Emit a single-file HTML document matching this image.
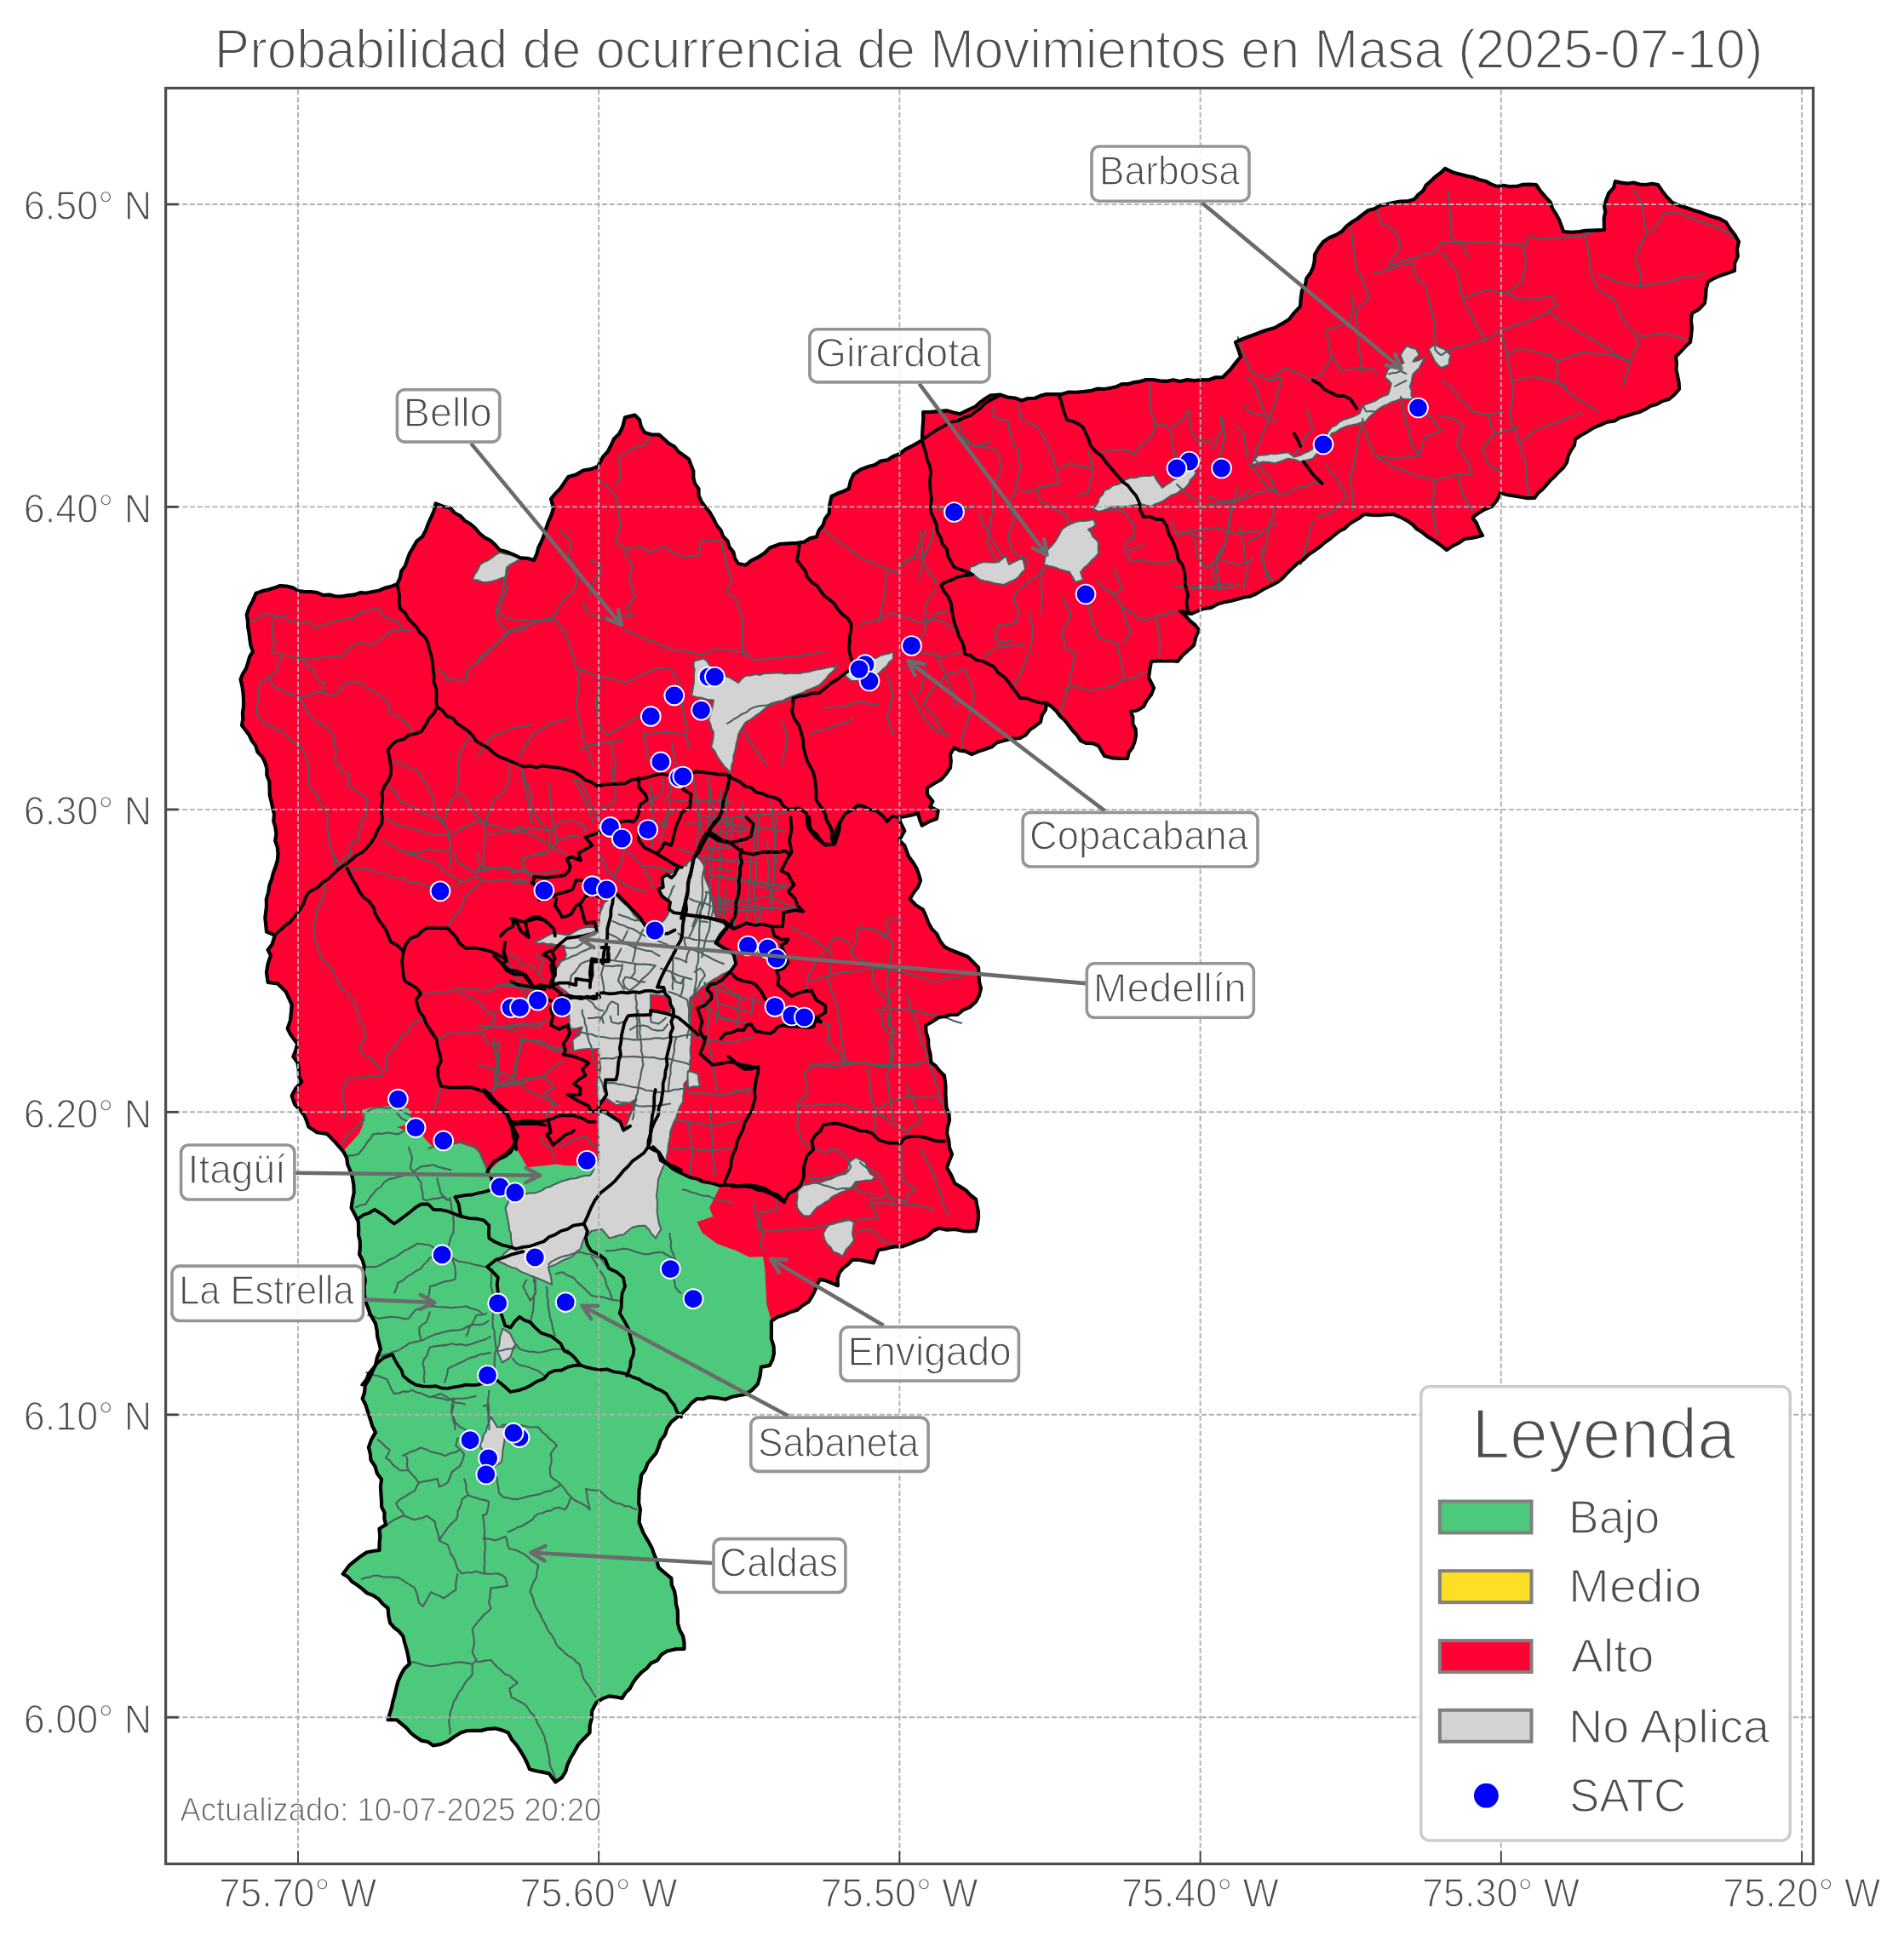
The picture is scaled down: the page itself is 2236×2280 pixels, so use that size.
<!DOCTYPE html><html><head><meta charset="utf-8"><style>html,body{margin:0;padding:0;background:#fff;overflow:hidden}svg{display:block;will-change:transform}text{font-family:"Liberation Sans",sans-serif}</style></head><body>
<svg xmlns="http://www.w3.org/2000/svg" width="2236" height="2280" viewBox="0 0 2236 2280">
<rect width="2236" height="2280" fill="#fff"/>
<polygon points="289.7,722.0 300.5,697.0 329.0,688.0 358.0,695.0 401.5,700.5 437.6,695.0 466.5,686.0 481.0,650.0 500.0,623.0 511.6,591.5 528.9,597.0 557.8,620.0 586.7,646.0 604.0,652.0 627.0,658.0 638.7,629.0 650.0,597.0 647.0,586.0 667.5,560.0 685.0,552.5 702.0,548.0 708.0,536.7 731.0,502.0 734.0,490.4 745.5,487.6 751.0,493.0 757.0,508.0 774.0,510.7 809.0,539.5 823.5,588.7 846.6,623.0 866.9,662.0 875.5,663.8 904.0,643.5 916.0,639.0 936.0,637.8 959.0,630.5 973.7,603.0 976.6,583.0 996.8,574.0 1002.6,557.0 1020.0,548.0 1049.0,536.0 1071.0,524.0 1083.0,517.0 1084.2,484.2 1111.8,482.3 1127.5,486.2 1139.3,480.3 1163.0,464.5 1174.8,463.7 1200.0,470.4 1229.0,463.0 1247.0,463.0 1272.0,460.0 1297.0,457.0 1346.0,446.0 1386.0,448.0 1411.0,446.0 1436.0,443.0 1445.0,434.0 1457.0,419.0 1451.0,402.0 1476.0,392.0 1497.0,385.0 1514.0,375.0 1527.0,360.0 1529.0,341.0 1542.0,314.0 1544.0,299.0 1554.0,284.0 1569.0,276.0 1594.0,257.0 1607.0,247.0 1628.0,240.0 1661.0,234.0 1680.0,213.0 1697.0,198.0 1716.0,205.0 1737.0,211.0 1758.0,219.0 1804.0,217.0 1821.0,238.0 1836.0,272.0 1855.0,272.0 1884.0,270.0 1884.0,242.0 1897.0,213.0 1947.0,217.0 1964.0,238.0 1989.0,247.0 2027.0,261.0 2042.0,284.0 2037.0,318.0 2006.0,331.0 2002.0,356.0 1987.0,368.0 1985.0,402.0 1968.0,419.0 1972.0,457.0 1960.0,469.0 1918.0,486.0 1880.0,499.0 1850.0,516.0 1840.0,543.0 1802.0,585.0 1762.0,579.0 1752.0,595.0 1729.0,608.0 1741.0,629.0 1720.0,633.0 1699.0,646.0 1687.0,637.0 1653.0,612.0 1636.0,604.0 1602.0,604.0 1556.0,637.0 1518.0,667.0 1500.0,684.0 1476.0,697.0 1445.0,706.0 1399.0,721.0 1386.0,718.0 1408.0,740.0 1402.0,758.0 1383.0,777.0 1352.0,777.0 1349.0,796.0 1355.0,808.0 1343.0,830.0 1328.0,836.0 1334.0,864.0 1324.0,891.0 1297.0,888.0 1290.0,876.0 1269.0,870.0 1235.0,830.0 1229.0,826.0 1222.0,848.0 1198.0,867.0 1179.0,870.0 1141.0,886.2 1120.6,878.3 1115.9,886.2 1115.9,902.0 1104.8,916.0 1089.0,925.6 1089.0,933.4 1095.4,941.3 1092.2,947.6 1101.7,952.4 1100.0,961.8 1082.8,969.7 1078.0,955.5 1056.0,960.2 1057.6,966.5 1062.3,976.0 1056.0,987.0 1062.3,993.3 1067.0,1006.0 1076.5,1020.0 1081.0,1034.4 1068.7,1056.0 1084.0,1068.5 1090.3,1084.0 1108.9,1111.8 1136.7,1124.0 1149.0,1136.5 1152.0,1161.0 1146.0,1176.7 1124.3,1192.0 1102.7,1195.0 1087.2,1204.5 1090.3,1229.0 1093.4,1247.8 1108.9,1263.3 1110.4,1285.0 1115.0,1316.0 1112.0,1331.3 1118.0,1356.0 1112.0,1371.5 1121.2,1390.0 1146.0,1408.7 1149.0,1430.3 1146.0,1445.8 1130.5,1445.8 1102.7,1442.7 1084.0,1455.0 1059.4,1464.3 1031.5,1468.2 1025.8,1483.5 1001.0,1479.7 985.8,1494.9 983.9,1510.2 970.5,1504.5 962.9,1502.6 959.1,1510.2 949.6,1529.2 936.2,1538.8 921.0,1544.5 905.9,1552.0 905.9,1564.0 908.9,1590.0 903.9,1603.9 893.9,1605.9 889.9,1625.8 875.9,1637.8 852.0,1643.8 840.0,1641.8 818.6,1643.0 806.5,1655.0 788.2,1670.4 776.0,1691.7 773.3,1700.0 765.7,1712.6 753.1,1732.8 750.6,1750.4 750.6,1788.2 755.6,1800.8 765.7,1818.5 773.3,1841.2 788.4,1853.8 793.4,1876.5 796.0,1906.7 803.5,1929.4 803.5,1937.0 783.4,1939.5 753.1,1964.7 730.4,1995.0 715.3,1992.4 700.2,2000.0 695.1,2010.0 692.6,2035.3 685.0,2042.9 669.9,2065.5 659.8,2088.2 652.3,2093.3 644.7,2083.2 622.0,2078.2 612.0,2058.0 596.8,2035.3 581.7,2030.3 556.5,2032.8 541.3,2035.3 526.2,2045.4 508.6,2050.4 488.4,2040.3 465.7,2020.2 455.6,2020.2 463.2,1992.4 470.8,1967.2 480.8,1954.6 473.3,1921.8 458.2,1906.7 455.6,1889.0 438.0,1874.0 425.4,1866.4 402.7,1848.7 410.3,1838.7 430.4,1823.5 445.5,1821.0 445.5,1795.8 453.1,1790.8 448.0,1763.0 448.0,1737.8 435.5,1715.1 432.9,1700.0 441.0,1682.6 431.8,1658.0 425.7,1643.0 428.7,1627.7 441.0,1603.4 447.0,1585.0 441.0,1554.6 434.4,1543.0 429.0,1528.0 427.6,1487.0 422.1,1473.4 420.8,1435.2 412.6,1418.8 415.3,1391.5 411.2,1375.0 403.7,1353.3 392.1,1340.0 383.9,1331.8 372.3,1330.2 362.4,1323.6 357.5,1310.4 346.0,1297.2 342.7,1287.3 354.2,1270.8 350.9,1264.2 349.2,1247.7 344.3,1241.2 349.2,1226.3 341.0,1214.8 337.7,1208.2 341.0,1198.3 342.7,1180.0 336.0,1165.3 326.2,1155.4 314.6,1153.8 313.0,1142.2 317.9,1122.4 314.6,1115.8 319.6,1109.2 322.9,1098.5 313.0,1094.4 311.3,1078.0 313.0,1064.7 316.3,1040.0 325.8,1010.7 322.0,956.6 311.0,895.0 284.0,852.0 286.0,830.0 282.5,798.0 297.0,765.4" fill="#ff0033" stroke="none"/>
<polygon points="403.7,1351.6 421.8,1331.8 426.7,1320.3 425.1,1303.8 438.3,1300.5 461.4,1298.9 480.0,1302.2 483.2,1312.6 481.3,1320.2 466.2,1324.0 481.3,1329.6 494.5,1331.5 500.2,1339.0 509.7,1348.5 522.9,1346.6 540.0,1342.9 557.0,1348.5 562.6,1354.2 568.3,1367.4 572.0,1376.9 589.0,1361.8 604.2,1346.6 611.8,1358.0 619.3,1371.2 638.2,1369.3 653.4,1367.4 664.7,1369.3 676.0,1369.3 691.2,1369.3 700.0,1372.0 702.0,1380.0 760.0,1380.0 775.9,1363.2 796.5,1376.5 822.6,1389.2 845.7,1393.4 833.0,1418.7 837.3,1429.0 818.4,1435.5 824.7,1448.0 841.5,1460.7 864.6,1469.0 880.0,1476.7 896.0,1476.0 898.2,1490.0 900.3,1532.0 906.0,1552.0 905.9,1564.0 908.9,1590.0 903.9,1603.9 893.9,1605.9 889.9,1625.8 875.9,1637.8 852.0,1643.8 840.0,1641.8 818.6,1643.0 806.5,1655.0 788.2,1670.4 776.0,1691.7 773.3,1700.0 765.7,1712.6 753.1,1732.8 750.6,1750.4 750.6,1788.2 755.6,1800.8 765.7,1818.5 773.3,1841.2 788.4,1853.8 793.4,1876.5 796.0,1906.7 803.5,1929.4 803.5,1937.0 783.4,1939.5 753.1,1964.7 730.4,1995.0 715.3,1992.4 700.2,2000.0 695.1,2010.0 692.6,2035.3 685.0,2042.9 669.9,2065.5 659.8,2088.2 652.3,2093.3 644.7,2083.2 622.0,2078.2 612.0,2058.0 596.8,2035.3 581.7,2030.3 556.5,2032.8 541.3,2035.3 526.2,2045.4 508.6,2050.4 488.4,2040.3 465.7,2020.2 455.6,2020.2 463.2,1992.4 470.8,1967.2 480.8,1954.6 473.3,1921.8 458.2,1906.7 455.6,1889.0 438.0,1874.0 425.4,1866.4 402.7,1848.7 410.3,1838.7 430.4,1823.5 445.5,1821.0 445.5,1795.8 453.1,1790.8 448.0,1763.0 448.0,1737.8 435.5,1715.1 432.9,1700.0 441.0,1682.6 431.8,1658.0 425.7,1643.0 428.7,1627.7 441.0,1603.4 447.0,1585.0 441.0,1554.6 434.4,1543.0 429.0,1528.0 427.6,1487.0 422.1,1473.4 420.8,1435.2 412.6,1418.8 415.3,1391.5 411.2,1375.0" fill="#4cc97a" stroke="none"/>
<polygon points="818.5,1006.0 823.2,1010.9 826.9,1016.6 827.0,1021.8 826.9,1027.0 828.5,1032.8 830.8,1038.4 833.2,1043.9 834.2,1050.3 836.1,1056.5 837.4,1062.8 838.3,1069.2 840.1,1075.4 841.6,1081.7 848.2,1084.2 854.2,1088.0 851.6,1092.8 849.7,1097.8 845.6,1101.8 843.7,1106.9 847.4,1110.9 852.3,1113.4 856.5,1116.7 860.2,1120.7 864.7,1123.7 864.2,1130.1 862.6,1136.3 858.0,1139.6 853.1,1142.4 847.9,1144.7 842.4,1148.4 836.5,1151.5 831.0,1155.2 825.3,1158.8 820.6,1163.6 815.8,1168.2 810.4,1172.0 809.7,1177.6 810.5,1183.1 810.0,1188.6 810.3,1194.1 811.6,1199.7 810.9,1205.2 811.9,1210.7 812.3,1216.2 811.5,1221.8 811.5,1227.0 810.6,1232.1 810.8,1237.2 811.3,1242.4 810.0,1247.5 810.4,1252.7 809.2,1259.3 809.4,1266.1 803.2,1273.3 803.4,1278.5 802.8,1283.7 802.2,1288.8 802.2,1294.0 798.5,1299.8 796.0,1306.3 794.2,1312.7 791.1,1318.6 788.8,1324.8 787.1,1329.8 786.9,1335.1 785.8,1340.2 784.8,1345.4 784.5,1350.6 783.6,1355.8 782.3,1361.8 780.3,1367.6 777.7,1373.4 775.4,1379.4 773.0,1385.3 772.5,1392.7 771.5,1400.0 771.0,1405.4 772.0,1410.8 771.9,1416.2 771.6,1421.6 772.2,1427.0 773.1,1432.8 774.3,1438.4 776.4,1443.9 773.0,1449.0 770.0,1454.4 765.5,1449.8 762.1,1444.2 757.5,1439.7 750.0,1440.0 742.8,1441.8 737.3,1445.7 732.3,1450.2 726.6,1451.1 721.1,1453.0 715.5,1454.4 711.2,1449.2 707.0,1443.9 700.7,1444.8 694.5,1446.0 690.7,1450.7 686.0,1454.4 683.6,1460.6 681.8,1467.0 677.2,1470.0 673.8,1474.5 669.2,1477.5 664.0,1479.2 659.0,1481.4 654.3,1484.4 649.4,1486.6 644.0,1488.0 644.9,1493.3 646.6,1498.4 647.5,1503.7 648.2,1509.0 643.2,1506.7 638.2,1504.5 633.3,1502.3 628.1,1500.5 623.0,1498.5 617.3,1495.9 611.4,1493.6 606.2,1490.0 600.7,1488.6 595.5,1486.4 590.5,1483.7 585.2,1481.7 588.7,1477.7 591.5,1473.3 596.4,1468.7 602.0,1464.9 600.8,1459.7 600.0,1454.4 599.9,1449.2 598.0,1444.2 597.6,1439.0 596.6,1434.0 595.7,1428.8 594.5,1423.8 593.6,1418.7 597.8,1410.3 602.9,1406.9 608.0,1403.4 614.4,1403.1 620.6,1401.5 627.0,1401.5 631.9,1400.1 636.6,1398.4 640.8,1395.1 645.8,1394.0 650.3,1391.6 655.1,1389.7 659.7,1387.5 664.7,1386.3 670.2,1384.5 676.1,1384.3 681.5,1382.3 687.2,1381.1 693.0,1380.7 696.3,1375.9 698.0,1370.3 700.8,1365.2 703.3,1360.0 703.2,1354.9 702.8,1349.8 702.9,1344.8 702.4,1339.7 703.0,1334.6 702.3,1329.5 702.0,1324.4 702.0,1319.3 702.3,1314.3 703.2,1309.2 702.5,1304.1 702.2,1299.0 702.9,1293.8 701.7,1288.7 701.3,1283.6 701.9,1278.5 700.8,1273.4 701.2,1268.2 704.1,1261.8 705.3,1254.8 704.6,1249.1 703.9,1243.5 703.4,1237.8 703.3,1232.1 697.1,1232.5 691.0,1232.1 685.0,1232.4 679.1,1233.3 673.4,1235.2 673.0,1228.5 672.4,1221.8 676.2,1218.3 680.6,1215.6 683.7,1206.4 677.1,1208.3 670.3,1208.4 668.8,1201.9 668.5,1195.4 668.2,1188.8 668.8,1182.5 669.2,1176.3 669.3,1170.0 665.9,1166.1 662.1,1162.8 657.8,1160.0 654.4,1156.2 650.4,1153.0 651.4,1145.7 652.5,1138.4 656.0,1134.4 658.3,1129.7 662.6,1126.3 665.1,1121.6 663.2,1116.5 663.0,1111.0 657.9,1110.2 652.8,1110.1 647.8,1108.7 642.5,1109.3 637.6,1107.4 632.3,1108.4 627.3,1106.9 632.7,1104.7 638.0,1102.0 643.1,1099.0 648.3,1096.4 654.7,1096.5 660.9,1097.6 667.2,1098.5 672.8,1095.6 678.2,1092.4 684.0,1090.0 690.3,1088.7 696.7,1089.3 703.0,1088.0 703.8,1082.4 703.9,1076.8 705.0,1071.2 707.3,1066.0 709.2,1060.7 713.6,1057.4 717.2,1053.2 721.8,1050.2 725.9,1054.5 730.2,1058.7 734.5,1062.8 738.4,1066.1 741.5,1070.1 744.1,1074.6 747.8,1078.0 751.3,1081.7 757.1,1084.8 762.5,1088.5 768.0,1092.2 772.2,1087.9 776.7,1084.1 780.7,1079.6 784.9,1073.3 786.6,1067.1 787.0,1060.7 782.2,1056.3 778.0,1051.4 774.4,1046.0 775.7,1041.1 776.4,1036.0 778.6,1031.3 783.9,1027.9 789.5,1025.1 795.4,1022.9 799.6,1018.9 804.8,1016.3 808.8,1012.2 814.0,1009.5 818.5,1006.0" fill="#d3d3d3" stroke="#4a5e5c" stroke-width="2" stroke-linejoin="round"/>
<polygon points="815.0,776.4 820.7,775.1 826.4,773.5 830.4,776.7 833.1,781.3 836.8,784.9 841.0,788.0 846.2,790.7 851.3,793.9 856.8,795.9 862.0,798.8 867.0,802.0 871.0,797.6 875.5,793.7 881.3,793.5 887.0,792.1 892.9,792.9 898.5,790.8 904.4,791.0 910.2,790.4 915.9,790.3 921.7,791.5 927.5,790.8 933.2,790.9 939.0,791.0 944.1,789.7 949.3,789.2 954.3,787.8 959.3,786.5 964.5,785.9 969.6,784.7 974.6,783.3 980.0,783.6 985.0,782.0 980.9,785.6 977.1,789.5 973.0,793.0 969.8,797.5 966.0,801.3 962.0,805.0 957.2,807.1 952.4,809.2 947.4,810.7 943.0,813.8 937.9,815.1 933.0,817.0 928.1,818.8 923.4,820.9 918.8,823.3 913.5,824.0 909.1,827.0 904.0,828.0 899.9,830.8 896.2,834.4 892.3,837.5 888.1,840.2 884.1,843.3 879.9,846.2 875.5,848.6 872.4,853.2 869.5,858.0 867.0,863.0 866.2,868.2 864.7,873.2 864.0,878.3 863.0,883.4 861.3,888.4 861.3,893.7 859.3,898.6 858.7,903.8 858.0,909.0 855.0,904.3 850.7,900.5 847.5,895.9 844.2,891.5 841.3,886.7 838.9,881.5 835.0,877.5 836.7,871.8 837.6,865.9 838.0,860.0 835.4,855.5 834.3,850.4 832.0,845.8 834.0,840.1 835.5,834.3 837.0,828.5 838.0,822.6 830.6,821.8 823.5,819.8 817.6,818.9 812.0,816.9 813.3,811.9 813.9,806.8 814.9,801.8 815.0,796.6 814.9,791.5 815.7,786.5 814.4,781.5 815.0,776.4" fill="#d3d3d3" stroke="#4a5e5c" stroke-width="2" stroke-linejoin="round"/>
<polygon points="555.0,681.0 557.3,675.0 560.9,669.6 563.5,663.8 567.8,660.3 573.0,658.2 577.5,655.1 581.9,651.8 586.7,649.0 592.4,650.4 598.2,651.5 604.1,651.8 609.7,653.9 615.5,655.0 609.6,657.7 603.8,660.8 598.0,663.8 595.8,670.8 595.0,678.0 589.1,679.1 583.6,681.2 577.9,683.0 572.0,684.0 566.2,683.7 560.8,681.5 555.0,681.0" fill="#d3d3d3" stroke="#4a5e5c" stroke-width="2" stroke-linejoin="round"/>
<polygon points="991.0,791.0 996.2,789.3 1000.6,785.9 1005.7,783.8 1010.5,781.4 1014.9,778.0 1020.0,776.0 1024.6,773.5 1029.7,772.5 1034.3,769.9 1039.3,768.5 1044.4,767.5 1049.0,765.0 1049.0,774.0 1044.5,777.5 1041.5,782.5 1037.0,786.0 1033.5,789.9 1029.3,793.1 1025.0,796.0 1019.9,796.2 1015.1,798.4 1010.1,798.9 1005.1,799.9 1000.0,800.0 995.0,796.0 991.0,791.0" fill="#d3d3d3" stroke="#4a5e5c" stroke-width="2" stroke-linejoin="round"/>
<polygon points="1235.0,641.0 1238.7,636.7 1241.6,631.9 1244.4,627.0 1247.0,622.0 1251.2,618.6 1256.0,616.0 1263.0,613.0 1268.2,611.9 1273.6,611.9 1278.8,611.3 1284.0,610.0 1287.0,616.0 1283.0,619.7 1278.0,622.0 1281.5,625.6 1283.4,630.4 1287.5,633.6 1290.0,638.0 1289.7,644.0 1290.0,650.0 1286.2,654.5 1281.8,658.5 1278.0,663.0 1273.0,667.0 1269.0,672.0 1272.0,681.0 1263.0,684.0 1259.6,677.9 1256.0,672.0 1250.9,670.7 1245.9,669.3 1241.1,667.3 1236.1,665.8 1231.0,664.7 1226.0,663.0 1226.9,657.7 1228.1,652.3 1229.0,647.0 1235.0,641.0" fill="#d3d3d3" stroke="#4a5e5c" stroke-width="2" stroke-linejoin="round"/>
<polygon points="1139.0,666.0 1144.6,664.6 1149.6,661.7 1155.0,660.0 1161.0,660.5 1167.0,660.8 1173.0,660.0 1177.3,656.2 1182.0,653.0 1183.0,658.1 1185.0,663.0 1190.2,660.4 1195.4,657.8 1201.0,656.0 1202.8,662.4 1204.0,669.0 1199.7,672.7 1196.4,677.4 1192.0,681.0 1185.4,683.7 1179.0,687.0 1173.3,686.1 1167.7,685.2 1162.2,683.5 1156.6,682.4 1151.0,681.0 1147.0,678.1 1143.4,674.5 1139.0,672.0 1139.0,666.0" fill="#d3d3d3" stroke="#4a5e5c" stroke-width="2" stroke-linejoin="round"/>
<polygon points="1284.0,598.0 1286.9,593.8 1289.8,589.6 1291.1,584.4 1295.1,580.8 1297.0,576.0 1302.4,574.0 1307.0,570.3 1312.7,569.0 1317.9,566.5 1322.6,563.0 1328.0,561.0 1333.5,561.2 1338.8,559.6 1344.2,559.1 1349.6,558.9 1355.0,558.0 1358.0,563.2 1361.3,568.2 1365.0,573.0 1369.3,569.7 1374.0,567.0 1378.1,563.5 1383.0,561.0 1386.7,557.4 1391.0,554.5 1394.5,550.7 1399.0,548.0 1405.0,555.0 1402.0,559.7 1398.0,563.7 1395.7,568.8 1392.0,573.0 1386.8,576.1 1381.9,579.7 1376.0,581.6 1371.0,585.0 1366.6,588.1 1361.8,590.5 1356.5,592.1 1352.0,595.0 1346.0,593.6 1340.0,592.0 1334.6,592.9 1329.3,593.8 1324.0,595.0 1318.0,595.0 1312.0,595.1 1306.0,595.0 1300.9,597.6 1295.6,599.6 1290.0,601.0 1284.0,598.0" fill="#d3d3d3" stroke="#4a5e5c" stroke-width="2" stroke-linejoin="round"/>
<polygon points="590.0,1560.7 594.9,1563.4 599.3,1566.8 602.2,1573.0 605.4,1579.0 602.6,1583.8 601.1,1589.0 599.3,1594.2 594.7,1597.3 590.0,1600.3 587.7,1595.3 585.4,1590.3 584.0,1585.0 586.1,1580.4 586.8,1575.4 587.2,1570.3 589.0,1565.6 590.0,1560.7" fill="#d3d3d3" stroke="#4a5e5c" stroke-width="2" stroke-linejoin="round"/>
<polygon points="808.0,1258.0 814.2,1259.4 820.0,1262.0 820.4,1269.1 822.0,1276.0 814.9,1276.3 808.0,1278.0 807.8,1273.0 807.6,1268.0 807.5,1263.0 808.0,1258.0" fill="#d3d3d3" stroke="#4a5e5c" stroke-width="2" stroke-linejoin="round"/>
<polygon points="1470.1,544.2 1473.4,539.3 1477.4,535.0 1482.5,534.5 1487.5,534.2 1492.5,532.9 1497.6,533.2 1505.0,532.2 1512.4,531.3 1519.7,536.8 1526.1,535.1 1532.0,532.0 1538.1,529.5 1543.0,525.8 1548.2,522.5 1552.8,518.5 1556.4,512.9 1559.8,507.2 1563.8,501.9 1569.0,499.4 1573.3,495.3 1578.5,492.7 1584.9,490.9 1591.0,488.5 1596.9,485.4 1600.6,476.2 1605.5,474.4 1610.4,472.5 1615.3,470.7 1619.8,467.5 1624.8,465.2 1630.0,463.3 1632.3,457.0 1633.7,450.4 1630.3,446.5 1626.3,443.1 1630.0,433.9 1637.4,428.4 1642.9,427.7 1648.4,426.5 1644.7,417.4 1647.8,411.5 1652.1,406.3 1657.4,408.5 1663.1,410.0 1666.8,417.4 1662.5,420.4 1659.4,424.7 1665.1,423.5 1670.4,421.0 1674.1,419.2 1670.2,425.5 1666.8,432.1 1663.2,435.8 1659.4,439.4 1658.3,444.3 1657.6,449.4 1655.7,454.1 1657.8,458.8 1657.4,464.1 1659.4,468.8 1652.1,469.0 1644.7,468.8 1639.3,470.9 1633.7,472.5 1629.1,475.3 1624.0,477.3 1619.5,480.1 1615.3,483.5 1611.4,487.0 1607.6,490.5 1604.3,494.6 1598.7,496.4 1593.2,498.2 1588.3,499.2 1583.3,500.2 1578.5,501.9 1573.5,504.1 1569.1,507.5 1563.8,509.3 1561.4,514.2 1558.8,519.0 1556.5,524.0 1552.6,527.4 1548.6,530.8 1545.1,534.6 1541.8,538.7 1536.9,540.0 1532.0,541.2 1527.1,542.4 1522.3,540.6 1517.4,539.5 1512.4,538.7 1507.5,540.7 1502.6,542.5 1497.6,544.2 1490.3,543.1 1482.9,542.4 1477.4,544.2 1471.9,546.0 1470.1,544.2" fill="#d3d3d3" stroke="#4a5e5c" stroke-width="2" stroke-linejoin="round"/>
<polygon points="1677.8,410.0 1685.1,404.5 1690.3,407.9 1696.2,410.0 1700.0,413.5 1703.5,417.4 1702.0,422.8 1701.7,428.4 1692.5,432.1 1688.5,428.7 1685.1,424.7 1681.5,417.4 1677.8,410.0" fill="#d3d3d3" stroke="#4a5e5c" stroke-width="2" stroke-linejoin="round"/>
<polygon points="564.4,1695.7 566.8,1691.1 567.7,1685.8 570.9,1681.5 572.1,1676.3 574.0,1671.5 576.5,1664.2 580.3,1670.2 583.7,1676.3 593.4,1676.3 592.6,1682.4 592.8,1688.5 592.1,1694.5 591.0,1700.5 590.3,1706.2 589.9,1711.9 588.6,1717.5 581.3,1722.3 579.2,1717.4 576.5,1712.6 572.3,1708.7 568.2,1704.7 564.4,1700.5 564.4,1695.7" fill="#d3d3d3" stroke="#4a5e5c" stroke-width="2" stroke-linejoin="round"/>
<polygon points="936.2,1399.6 940.0,1395.8 943.9,1392.0 949.3,1391.2 954.6,1389.9 959.9,1388.9 965.4,1388.2 970.5,1386.3 976.4,1384.8 981.8,1381.9 987.5,1380.1 993.4,1378.7 995.2,1372.0 997.2,1365.3 1004.8,1359.6 1010.7,1362.3 1016.3,1365.3 1018.4,1372.3 1022.0,1378.7 1027.7,1382.5 1023.9,1386.3 1017.5,1386.5 1011.2,1387.6 1004.8,1388.2 1001.0,1393.9 996.4,1396.5 991.7,1399.1 986.7,1400.9 982.0,1403.5 977.0,1405.9 973.2,1410.1 968.3,1412.7 963.8,1415.9 959.1,1418.7 955.1,1423.3 951.5,1428.2 943.9,1428.2 939.7,1423.7 936.2,1418.7 935.5,1412.3 936.6,1406.0 936.2,1399.6" fill="#d3d3d3" stroke="#4a5e5c" stroke-width="2" stroke-linejoin="round"/>
<polygon points="966.7,1449.2 969.8,1443.0 974.4,1437.8 980.9,1436.5 987.2,1434.3 993.4,1432.0 998.5,1433.1 1002.9,1435.9 1001.9,1442.5 1001.0,1449.2 1002.9,1456.8 998.5,1462.8 993.4,1468.3 989.6,1475.9 984.2,1472.4 978.2,1470.2 975.5,1465.3 971.5,1461.5 968.6,1456.8 966.7,1449.2" fill="#d3d3d3" stroke="#4a5e5c" stroke-width="2" stroke-linejoin="round"/>
<polygon points="703.3,1294.0 711.5,1289.8 723.9,1298.0 738.3,1296.0 747.6,1290.8 734.2,1324.8 726.0,1317.6 717.7,1312.5 703.3,1304.2" fill="#ff0033" stroke="#4a5e5c" stroke-width="2" stroke-linejoin="round"/>
<polygon points="764.0,1168.2 783.6,1170.3 787.8,1188.8 764.0,1188.8" fill="#ff0033" stroke="#4a5e5c" stroke-width="2" stroke-linejoin="round"/>
<polyline points="404.2,1357.7 409.9,1357.6 415.5,1357.1 421.0,1355.6 425.3,1350.5 429.4,1345.1 431.8,1340.7 435.4,1337.0 437.8,1332.5 443.4,1331.6 449.1,1331.7 454.6,1330.4 461.0,1331.2 467.2,1332.5 472.5,1329.5 477.7,1326.2 479.8,1317.8 471.4,1313.6 467.6,1309.0 463.0,1305.2" fill="none" stroke="#4a5e5c" stroke-width="2.1" stroke-linejoin="round"/>
<polyline points="400.0,1347.2 403.4,1341.0 406.3,1334.6 411.4,1330.6 415.8,1325.9 421.0,1322.0 427.3,1315.7 427.3,1307.3" fill="none" stroke="#4a5e5c" stroke-width="2.1" stroke-linejoin="round"/>
<polyline points="427.3,1307.3 432.2,1305.2 436.9,1302.6 442.0,1301.0 447.3,1300.7 452.5,1301.6 457.8,1301.4 463.0,1301.0 469.6,1303.6 475.6,1307.3 484.0,1311.5" fill="none" stroke="#4a5e5c" stroke-width="2.1" stroke-linejoin="round"/>
<polyline points="416.8,1418.7 422.9,1416.0 429.4,1414.5 432.4,1410.1 435.3,1405.7 438.6,1401.6 442.0,1397.6 447.4,1394.0 451.3,1388.6 456.7,1385.0 462.5,1384.1 468.0,1382.6 473.5,1380.8 478.6,1379.0 484.0,1378.7 488.8,1373.9 494.5,1370.3 501.9,1369.4 509.2,1368.2 515.3,1371.0 521.8,1372.4 530.3,1374.5" fill="none" stroke="#4a5e5c" stroke-width="2.1" stroke-linejoin="round"/>
<polyline points="479.8,1347.2 482.0,1353.5 484.0,1359.8 482.9,1366.1 481.9,1372.4 488.2,1378.7 490.9,1384.3 494.5,1389.2 494.8,1395.6 496.5,1401.8 496.6,1408.2 500.8,1410.3 507.0,1408.2 513.5,1407.9 519.7,1406.1 528.2,1410.3" fill="none" stroke="#4a5e5c" stroke-width="2.1" stroke-linejoin="round"/>
<polyline points="502.9,1349.3 507.7,1347.3 512.9,1347.1 517.6,1345.1 523.9,1343.3 530.3,1342.7 536.6,1340.9 541.9,1341.6 547.1,1343.0 553.2,1345.6 559.7,1347.2 563.9,1353.5 565.7,1358.9 568.1,1364.0 570.9,1370.1 572.3,1376.6" fill="none" stroke="#4a5e5c" stroke-width="2.1" stroke-linejoin="round"/>
<polyline points="513.4,1382.9 514.4,1389.3 516.3,1395.5 517.6,1401.8 522.0,1405.9 526.1,1410.3" fill="none" stroke="#4a5e5c" stroke-width="2.1" stroke-linejoin="round"/>
<polyline points="528.2,1406.1 529.2,1411.3 530.0,1416.6 530.5,1422.0 532.4,1427.1 532.4,1432.3 532.8,1437.6 532.6,1442.8 532.4,1448.1 529.5,1453.4 527.9,1459.2 526.1,1464.9" fill="none" stroke="#4a5e5c" stroke-width="2.1" stroke-linejoin="round"/>
<polyline points="427.3,1488.0 434.7,1488.1 442.0,1488.0 447.4,1485.6 452.5,1482.7 457.5,1479.5 463.0,1477.5 468.5,1473.8 473.8,1469.8 479.8,1467.0 485.2,1464.0 490.3,1460.7 497.7,1461.5 505.0,1462.8 511.0,1466.6 517.6,1469.1" fill="none" stroke="#4a5e5c" stroke-width="2.1" stroke-linejoin="round"/>
<polyline points="463.0,1519.5 465.5,1513.3 467.2,1506.9 473.2,1504.0 478.2,1499.4 484.0,1496.4 489.0,1492.7 494.5,1490.1 497.5,1485.5 501.7,1481.8 505.0,1477.5 511.4,1475.5 517.6,1473.3" fill="none" stroke="#4a5e5c" stroke-width="2.1" stroke-linejoin="round"/>
<polyline points="526.1,1464.9 527.8,1471.3 530.3,1477.5 538.7,1481.7 544.9,1482.8 551.3,1483.8 556.7,1485.6 562.5,1486.4 568.1,1488.0 572.3,1488.0" fill="none" stroke="#4a5e5c" stroke-width="2.1" stroke-linejoin="round"/>
<polyline points="530.3,1477.5 533.0,1483.6 534.5,1490.1 535.1,1496.4 534.5,1502.7 529.0,1504.5 523.1,1505.1 517.6,1506.9 511.5,1509.5 505.0,1511.1 504.4,1517.5 502.9,1523.7 505.6,1529.3 509.2,1534.2" fill="none" stroke="#4a5e5c" stroke-width="2.1" stroke-linejoin="round"/>
<polyline points="431.5,1544.7 438.1,1546.0 444.1,1548.9 451.5,1547.7 458.8,1546.8 464.1,1547.0 469.3,1547.7 474.5,1549.1 479.8,1548.9 483.9,1543.5 488.2,1538.4 493.4,1536.8 498.6,1535.8 503.8,1534.4 509.2,1534.2 514.5,1535.2 519.7,1535.3 525.0,1535.6 530.3,1536.3 535.9,1535.6 541.5,1535.3 547.1,1534.2 553.1,1537.0 559.7,1538.4 564.1,1541.2 568.1,1544.7" fill="none" stroke="#4a5e5c" stroke-width="2.1" stroke-linejoin="round"/>
<polyline points="494.5,1574.1 492.6,1566.9 492.4,1559.4 496.2,1555.7 500.8,1553.1 503.1,1546.9 505.0,1540.5" fill="none" stroke="#4a5e5c" stroke-width="2.1" stroke-linejoin="round"/>
<polyline points="446.2,1593.0 451.4,1591.2 456.8,1590.1 461.8,1587.8 467.2,1586.7 471.3,1583.8 475.8,1581.3 479.8,1578.3 485.4,1576.8 491.1,1575.6 496.6,1574.1 505.0,1569.9 511.2,1567.5 517.6,1565.7 526.1,1563.6 531.6,1562.6 537.3,1562.8 542.9,1561.5 551.3,1557.3 556.8,1555.7 562.5,1556.2 568.1,1555.2 574.4,1551.0" fill="none" stroke="#4a5e5c" stroke-width="2.1" stroke-linejoin="round"/>
<polyline points="498.7,1624.5 497.6,1618.8 498.5,1612.9 497.9,1607.1 496.6,1601.4 498.1,1596.4 501.6,1592.3 502.9,1587.2 505.0,1582.5 512.3,1581.1 519.7,1580.4 525.1,1579.9 530.3,1578.3 535.8,1579.6 541.6,1578.9 547.1,1580.4 555.5,1578.3 561.6,1575.7 568.1,1574.1 576.5,1569.9" fill="none" stroke="#4a5e5c" stroke-width="2.1" stroke-linejoin="round"/>
<polyline points="521.8,1624.5 523.8,1619.1 525.3,1613.5 526.1,1607.7 532.4,1604.6 538.7,1601.4 545.2,1598.7 551.3,1595.1 557.8,1593.7 563.9,1590.9 570.2,1590.1 576.5,1588.8" fill="none" stroke="#4a5e5c" stroke-width="2.1" stroke-linejoin="round"/>
<polyline points="547.1,1569.9 549.7,1564.9 551.3,1559.4 555.5,1553.1 559.7,1544.7 566.1,1544.5 572.3,1542.6" fill="none" stroke="#4a5e5c" stroke-width="2.1" stroke-linejoin="round"/>
<polyline points="578.6,1490.1 577.3,1495.3 576.9,1500.5 577.0,1505.8 576.5,1511.1 578.0,1516.3 579.0,1521.5 579.1,1527.0 580.7,1532.1 579.4,1537.3 579.2,1542.6 578.6,1547.8 578.6,1553.1 578.7,1558.8 580.8,1564.2 580.7,1569.9 581.8,1577.3 582.8,1584.6 580.9,1591.9 580.7,1599.3 580.9,1604.9 581.3,1610.5 580.7,1616.1" fill="none" stroke="#4a5e5c" stroke-width="2.1" stroke-linejoin="round"/>
<polyline points="618.5,1502.7 614.3,1511.1 618.5,1519.5 622.7,1527.9 626.0,1523.8 629.0,1519.5 628.1,1513.9 628.7,1508.3 629.0,1502.7" fill="none" stroke="#4a5e5c" stroke-width="2.1" stroke-linejoin="round"/>
<polyline points="626.9,1498.5 627.1,1504.9 629.0,1511.1 629.1,1516.8 626.9,1522.2 626.9,1527.9 626.4,1533.5 626.1,1539.2 624.8,1544.7 622.7,1553.1" fill="none" stroke="#4a5e5c" stroke-width="2.1" stroke-linejoin="round"/>
<polyline points="641.6,1511.1 642.8,1516.3 642.0,1521.7 643.6,1526.8 643.7,1532.1 644.2,1537.5 645.3,1542.7 646.0,1548.0 647.9,1553.1 648.8,1558.8 650.1,1564.5 652.1,1569.9" fill="none" stroke="#4a5e5c" stroke-width="2.1" stroke-linejoin="round"/>
<polyline points="643.7,1485.9 647.4,1482.1 652.1,1479.6 657.3,1477.3 662.6,1475.4 667.7,1474.6 672.5,1472.8 677.3,1471.2 683.0,1471.0 688.5,1473.0 694.1,1473.3 700.4,1476.5 706.7,1479.6 710.4,1485.2 715.1,1490.1" fill="none" stroke="#4a5e5c" stroke-width="2.1" stroke-linejoin="round"/>
<polyline points="652.1,1496.4 660.5,1494.3 666.4,1498.2 673.1,1500.6 678.1,1506.1 683.6,1511.1 689.1,1516.1 694.1,1521.6 699.4,1522.7 704.7,1523.1 710.0,1524.2 715.1,1525.8 722.4,1527.4 729.8,1527.9" fill="none" stroke="#4a5e5c" stroke-width="2.1" stroke-linejoin="round"/>
<polyline points="694.1,1475.4 697.3,1480.0 700.5,1484.7 702.5,1490.1 705.7,1494.1 708.4,1498.3 710.9,1502.7 712.2,1509.3 715.1,1515.3 717.6,1521.5 719.3,1527.9" fill="none" stroke="#4a5e5c" stroke-width="2.1" stroke-linejoin="round"/>
<polyline points="605.9,1578.3 610.1,1584.6 615.2,1586.2 620.4,1587.6 625.8,1587.7 631.1,1588.8 636.5,1588.3 641.7,1587.0 646.9,1585.8 652.1,1584.6 657.8,1584.7 663.4,1585.6 668.9,1586.7" fill="none" stroke="#4a5e5c" stroke-width="2.1" stroke-linejoin="round"/>
<polyline points="601.7,1595.1 605.2,1600.0 610.1,1603.5 615.5,1604.6 620.8,1605.9 625.9,1608.1 631.1,1609.8 635.4,1612.8 639.5,1616.1" fill="none" stroke="#4a5e5c" stroke-width="2.1" stroke-linejoin="round"/>
<polyline points="582.8,1586.7 589.2,1586.5 595.4,1584.6 600.8,1584.3 605.9,1582.5" fill="none" stroke="#4a5e5c" stroke-width="2.1" stroke-linejoin="round"/>
<polyline points="710.9,1469.1 716.0,1469.2 721.1,1468.8 726.1,1467.9 731.0,1466.7 736.1,1467.0 741.4,1468.5 746.5,1470.5 751.8,1471.9 757.1,1473.3 762.4,1473.1 767.6,1471.8 772.8,1471.1 778.2,1471.2 783.9,1474.5 789.6,1477.7 795.0,1481.7" fill="none" stroke="#4a5e5c" stroke-width="2.1" stroke-linejoin="round"/>
<polyline points="786.6,1448.1 786.8,1453.3 788.2,1458.5 787.6,1463.9 788.7,1469.1 791.2,1474.2 792.9,1479.6 791.9,1484.8 791.9,1490.1 791.8,1495.4 790.8,1500.6 792.3,1505.7 792.9,1511.1 795.8,1515.8 800.0,1519.5" fill="none" stroke="#4a5e5c" stroke-width="2.1" stroke-linejoin="round"/>
<polyline points="635.3,1334.6 636.8,1340.1 639.5,1345.1 647.9,1349.3 650.0,1354.0 650.2,1359.3 652.1,1364.0" fill="none" stroke="#4a5e5c" stroke-width="2.1" stroke-linejoin="round"/>
<polyline points="656.3,1347.2 662.2,1345.1 667.7,1341.9 673.1,1338.8 678.3,1338.3 682.9,1335.9 687.8,1334.6 691.2,1338.7 694.1,1343.0 698.3,1346.2 702.5,1349.3" fill="none" stroke="#4a5e5c" stroke-width="2.1" stroke-linejoin="round"/>
<polyline points="429.4,1611.9 434.6,1613.1 439.4,1615.5 444.8,1616.3 449.6,1618.6 454.6,1620.3 457.1,1626.1 459.6,1631.9 463.0,1637.1 468.3,1636.4 473.4,1634.4 479.0,1634.9 484.0,1632.9 489.1,1635.6 494.7,1636.7 499.9,1639.0 505.0,1641.3 511.4,1639.4 517.6,1637.1 523.4,1640.4 529.1,1643.7 534.5,1647.6 540.8,1648.3 547.1,1649.7" fill="none" stroke="#4a5e5c" stroke-width="2.1" stroke-linejoin="round"/>
<polyline points="532.4,1641.3 531.9,1647.0 530.6,1652.5 530.3,1658.2 531.7,1663.5 532.5,1669.0 534.2,1674.4 534.5,1680.0" fill="none" stroke="#4a5e5c" stroke-width="2.1" stroke-linejoin="round"/>
<polyline points="574.4,1632.9 574.0,1638.2 573.2,1643.4 572.9,1648.7 572.3,1653.9 573.3,1659.1 573.4,1664.3 573.7,1669.6 574.6,1674.7 574.4,1680.0" fill="none" stroke="#4a5e5c" stroke-width="2.1" stroke-linejoin="round"/>
<polyline points="292.1,728.8 299.4,728.8 304.9,723.3 311.2,721.3 317.8,720.6 323.3,724.2 328.8,724.1 334.3,724.2 338.0,728.8 343.5,730.4 349.0,731.4 354.6,732.5 363.8,730.7 367.5,734.2 371.1,738.0 380.3,734.3 385.6,731.9 391.3,730.7 396.8,729.3 402.4,728.8 407.1,726.9 412.3,727.0 417.1,725.1 418.9,721.5 424.0,719.9 429.2,718.7 434.2,716.5 439.5,715.6 444.6,714.1 446.7,719.1 450.1,723.3 455.7,727.0 461.1,728.5 466.7,728.8 470.0,734.6 474.0,739.9 483.2,740.8" fill="none" stroke="#4a5e5c" stroke-width="2.1" stroke-linejoin="round"/>
<polyline points="323.3,724.2 320.6,730.7 319.8,736.2 319.7,741.7 319.6,747.2 323.3,752.7 320.9,758.7 318.7,764.7 324.5,767.5 330.7,769.3 339.9,770.2 345.3,772.1 350.9,773.9 356.4,774.1 361.9,774.8 368.1,774.1 374.2,773.3 380.3,772.0 385.8,771.2 391.3,771.3 396.8,770.5 402.4,771.1 407.9,763.8 412.5,760.3 417.3,757.0 422.6,754.6 429.9,756.4 439.1,756.4 442.9,752.9 447.4,750.4 451.7,747.6 455.2,743.7 459.3,740.8 466.7,740.4 474.0,739.9" fill="none" stroke="#4a5e5c" stroke-width="2.1" stroke-linejoin="round"/>
<polyline points="330.7,770.2 328.4,775.9 326.1,781.6 325.1,787.6 320.9,791.7 316.0,795.0 318.8,800.5 321.5,806.0 325.9,808.7 331.0,810.0 335.2,813.0 339.9,815.2 345.5,816.7 350.9,818.9 356.4,818.3 361.9,817.1 366.9,815.5 371.1,812.5 380.3,813.4 389.5,817.1 394.5,815.1 398.7,811.5 401.7,806.5 406.0,802.4 411.6,801.9 417.0,800.9 422.6,800.5" fill="none" stroke="#4a5e5c" stroke-width="2.1" stroke-linejoin="round"/>
<polyline points="316.0,796.8 306.8,800.5 304.0,809.7 303.7,815.3 303.4,820.8 302.1,826.3 301.2,831.8 301.2,839.1 306.3,844.2 310.4,850.1 317.8,853.8 322.8,855.4 327.3,858.2 332.5,859.3 335.7,863.5 339.5,867.1 343.5,870.4 348.6,874.7 354.6,877.7 356.9,884.3 360.1,890.6 360.9,896.1 362.2,901.5 362.0,907.1 362.7,912.6 362.7,918.2 363.8,923.7 367.8,928.8 372.9,932.9 374.8,942.1 379.7,947.3 384.0,953.1 384.8,958.9 384.8,964.8 384.3,970.8 385.5,976.6 385.8,982.5 386.5,988.0 388.8,993.1 389.4,998.7 390.3,1004.1 392.9,1009.1 393.2,1014.8 395.0,1020.0" fill="none" stroke="#4a5e5c" stroke-width="2.1" stroke-linejoin="round"/>
<polyline points="354.6,773.9 358.5,779.6 361.9,785.8 367.4,784.0 368.8,789.6 371.1,795.0 374.8,800.5 382.1,802.4 379.5,807.6 378.5,813.4" fill="none" stroke="#4a5e5c" stroke-width="2.1" stroke-linejoin="round"/>
<polyline points="422.6,800.5 424.4,804.2 428.7,806.9 433.1,809.6 438.1,811.2 442.2,814.2 446.5,817.1 451.1,820.7 455.7,824.4 457.5,829.9 455.7,835.4 462.2,839.0 468.5,842.8 474.3,847.1 479.6,852.0 482.7,857.0 486.9,861.2" fill="none" stroke="#4a5e5c" stroke-width="2.1" stroke-linejoin="round"/>
<polyline points="350.9,818.9 356.4,826.2 358.5,831.7 360.1,837.3 365.6,841.8 371.1,846.5 377.0,849.6 382.1,853.8 386.2,857.1 389.5,861.2 391.6,866.6 393.2,872.2 391.3,875.9 395.0,879.6 394.1,886.9 393.2,894.3 396.8,898.1 399.9,902.4 402.4,907.1 411.5,910.8 409.3,916.2 407.9,921.8 412.2,925.1 417.1,927.4 423.1,931.3 428.1,936.5 431.8,940.2 430.5,946.3 430.4,952.5 429.9,958.6 424.4,964.1 424.2,969.7 422.3,975.1 421.3,980.6 420.7,986.2 413.4,989.9 411.7,995.2 411.5,1000.9 410.2,1007.4 407.7,1013.6 406.0,1020.0" fill="none" stroke="#4a5e5c" stroke-width="2.1" stroke-linejoin="round"/>
<polyline points="582.5,717.8 588.0,714.1 589.2,709.2 589.9,704.2 591.7,699.4 595.4,692.1 593.9,686.6 593.5,681.0" fill="none" stroke="#4a5e5c" stroke-width="2.1" stroke-linejoin="round"/>
<polyline points="582.5,717.8 583.7,724.4 586.2,730.7 589.2,734.9 593.0,738.6 597.2,741.7 606.4,739.9 611.9,739.9 620.0,738.0" fill="none" stroke="#4a5e5c" stroke-width="2.1" stroke-linejoin="round"/>
<polyline points="597.2,741.7 593.3,745.2 590.1,749.3 586.4,753.0 582.5,756.4 578.7,760.5 574.5,764.1 571.2,768.6 567.8,772.9 563.4,775.5 560.2,779.5 555.8,781.9 551.6,784.7 547.6,787.6 548.4,793.2 547.6,798.7 542.1,800.5 536.4,799.0 531.0,796.8 525.5,800.5 523.7,793.2 519.3,789.3 514.5,785.8" fill="none" stroke="#4a5e5c" stroke-width="2.1" stroke-linejoin="round"/>
<polyline points="461.2,894.3 468.5,896.1 474.2,897.9 479.3,901.4 484.8,903.6 490.6,905.3 492.9,909.8 495.0,914.6 498.7,918.3 501.5,922.6 503.5,927.4 507.1,932.9 509.0,942.1 510.4,946.9 511.1,952.0 512.6,956.8 517.2,962.3 521.8,967.8 525.0,973.1 527.4,978.8 527.0,984.0 528.5,989.1 528.5,994.2 527.9,999.4 527.7,1004.6 529.3,1009.7 529.4,1014.8 529.2,1020.0" fill="none" stroke="#4a5e5c" stroke-width="2.1" stroke-linejoin="round"/>
<polyline points="453.8,921.8 459.0,924.8 463.0,929.2 466.7,932.9 470.4,942.1 477.7,943.9 484.2,947.4 490.6,951.2 495.2,954.3 500.2,956.5 505.3,958.6 510.9,960.2 516.3,962.3 521.8,967.8" fill="none" stroke="#4a5e5c" stroke-width="2.1" stroke-linejoin="round"/>
<polyline points="551.2,864.9 549.4,870.0 545.8,874.2 543.8,879.3 541.0,884.0 538.4,888.8 538.5,893.8 538.3,898.9 538.5,903.9 538.4,909.0 538.3,915.0 536.8,920.9 536.7,926.9 536.5,932.9 532.6,936.3 529.2,940.2 526.9,945.6 525.0,951.1 523.7,956.8 522.5,962.2 521.8,967.8" fill="none" stroke="#4a5e5c" stroke-width="2.1" stroke-linejoin="round"/>
<polyline points="536.5,932.9 545.7,934.7 549.4,943.9 552.4,949.3 556.3,954.0 560.4,958.6 564.1,962.3 566.9,966.9 569.6,971.5 570.1,976.9 570.0,982.3 569.2,987.7 568.0,993.0 568.4,998.4 567.6,1003.8 567.5,1009.2 568.4,1014.6 567.8,1020.0" fill="none" stroke="#4a5e5c" stroke-width="2.1" stroke-linejoin="round"/>
<polyline points="599.0,896.1 597.8,901.6 598.7,907.2 598.3,912.7 597.2,918.2 594.1,924.5 591.7,931.0 586.2,934.7 580.7,938.4 578.6,944.7 576.0,950.7 573.3,956.8 571.5,961.5 571.2,966.6 569.6,971.5" fill="none" stroke="#4a5e5c" stroke-width="2.1" stroke-linejoin="round"/>
<polyline points="453.8,960.4 458.0,964.6 463.0,967.8 468.5,969.2 473.9,971.1 479.8,971.4 484.9,974.3 490.6,975.1 496.8,976.9 502.8,979.0 509.0,980.7 514.1,980.4 519.1,980.9 524.2,981.2 529.2,982.5 531.0,978.8" fill="none" stroke="#4a5e5c" stroke-width="2.1" stroke-linejoin="round"/>
<polyline points="448.3,986.2 453.8,989.3 459.2,992.6 464.9,995.4 471.1,998.6 477.7,1000.9 484.3,1000.9 490.6,1002.7 496.8,999.5 503.5,997.2 508.5,998.5 513.8,997.8 518.9,998.8 524.0,999.6 529.2,999.0" fill="none" stroke="#4a5e5c" stroke-width="2.1" stroke-linejoin="round"/>
<polyline points="564.1,962.3 559.9,965.3 555.3,967.6 550.3,969.2 545.7,971.5 539.1,974.8 532.9,978.8" fill="none" stroke="#4a5e5c" stroke-width="2.1" stroke-linejoin="round"/>
<polyline points="569.6,980.7 576.1,979.7 582.5,978.8 588.6,977.5 594.7,976.3 600.9,975.1 610.1,973.3 620.0,973.3" fill="none" stroke="#4a5e5c" stroke-width="2.1" stroke-linejoin="round"/>
<polyline points="613.8,903.5 614.6,909.9 615.6,916.3 620.0,923.7" fill="none" stroke="#4a5e5c" stroke-width="2.1" stroke-linejoin="round"/>
<polyline points="411.3,1023.0 416.7,1020.6 422.4,1019.3 431.5,1020.2 437.3,1022.4 442.6,1025.7 451.8,1025.7 459.1,1030.3 464.6,1030.7 470.1,1031.7 475.7,1031.2 477.5,1036.8 484.9,1036.1 492.2,1036.8 499.6,1040.4 505.1,1041.2 510.6,1042.3 516.7,1042.4 522.8,1042.7 529.0,1042.3 535.2,1040.0 540.9,1036.6 547.4,1034.9 553.5,1031.6 560.2,1029.4 567.6,1034.9 576.8,1034.9 581.9,1033.7 587.1,1034.2 592.1,1033.0 597.4,1033.8 602.5,1033.1 608.6,1033.3 614.5,1034.6 620.4,1036.0 626.4,1036.8" fill="none" stroke="#4a5e5c" stroke-width="2.1" stroke-linejoin="round"/>
<polyline points="400.3,1020.2 396.9,1013.6 392.9,1007.4 389.3,1000.0" fill="none" stroke="#4a5e5c" stroke-width="2.1" stroke-linejoin="round"/>
<polyline points="400.3,1020.2 402.1,1011.0 405.2,1006.7 409.5,1003.7 415.0,1000.0" fill="none" stroke="#4a5e5c" stroke-width="2.1" stroke-linejoin="round"/>
<polyline points="473.8,1000.0 479.1,1002.7 484.9,1003.7 490.1,1006.7 495.8,1008.7 501.4,1011.0 510.6,1012.9 515.2,1017.5 519.8,1022.1 525.8,1025.0 530.8,1029.4 538.2,1033.1 543.7,1036.8" fill="none" stroke="#4a5e5c" stroke-width="2.1" stroke-linejoin="round"/>
<polyline points="530.8,1000.0 534.3,1005.1 536.3,1011.0 541.4,1015.3 547.4,1018.4 552.6,1022.5 558.4,1025.7 561.9,1020.6 563.9,1014.7 562.4,1009.9 560.8,1005.1 560.2,1000.0" fill="none" stroke="#4a5e5c" stroke-width="2.1" stroke-linejoin="round"/>
<polyline points="563.9,1014.7 567.6,1022.1 571.2,1018.4 577.6,1019.8 584.1,1020.2 593.3,1018.4 598.3,1020.4 602.5,1023.9 609.9,1023.4 617.2,1022.1 614.5,1015.9 613.5,1009.2 620.9,1005.5 627.5,1004.4 633.8,1002.5 640.0,1000.0" fill="none" stroke="#4a5e5c" stroke-width="2.1" stroke-linejoin="round"/>
<polyline points="565.7,1034.9 561.0,1039.4 556.5,1044.1 551.4,1049.1 545.5,1053.3 544.5,1058.8 543.7,1064.3 540.4,1069.0 536.7,1073.2 532.6,1077.2 530.1,1081.9 527.1,1086.4 525.3,1088.2" fill="none" stroke="#4a5e5c" stroke-width="2.1" stroke-linejoin="round"/>
<polyline points="380.1,1038.6 381.9,1046.0 379.7,1052.3 378.2,1058.8 372.7,1066.2 371.4,1072.6 370.9,1079.0 369.0,1088.2 369.2,1094.4 369.7,1100.6 370.9,1106.6 373.5,1112.5 375.2,1118.7 376.4,1125.0 380.8,1128.5 384.7,1132.7 389.3,1136.0 392.9,1145.2 396.2,1150.6 398.5,1156.5 402.1,1161.8 407.0,1165.5 410.2,1170.8 415.0,1174.6 418.7,1183.8 419.9,1188.7 420.6,1193.8 422.4,1198.5 426.0,1204.0 428.7,1210.2 429.7,1216.9 425.7,1223.1 422.4,1229.8 426.0,1239.0 431.9,1240.9 437.1,1244.5 440.4,1249.4 444.4,1253.7 448.1,1257.4" fill="none" stroke="#4a5e5c" stroke-width="2.1" stroke-linejoin="round"/>
<polyline points="495.9,1196.7 490.3,1199.4 484.9,1202.2 481.5,1207.4 479.3,1213.2 472.0,1216.9 468.6,1222.6 465.4,1228.4 461.0,1233.5 453.6,1239.0 453.6,1248.2 455.4,1253.7 451.1,1257.8 448.1,1262.9 446.2,1264.7 440.7,1263.9 435.2,1264.0 429.7,1264.7 424.2,1265.4 418.7,1265.7 413.1,1265.9 407.6,1266.5 406.1,1271.6 404.0,1276.4 402.7,1281.5 402.1,1286.8 402.7,1292.4 404.9,1297.7 405.8,1303.3 404.8,1309.1 402.1,1314.3" fill="none" stroke="#4a5e5c" stroke-width="2.1" stroke-linejoin="round"/>
<polyline points="495.9,1167.3 503.3,1167.1 510.6,1165.4 517.9,1164.9 525.3,1165.4 531.6,1163.3 538.2,1161.8 543.2,1161.4 548.3,1162.1 553.3,1161.4 558.4,1161.8 567.6,1165.4 573.0,1163.9 578.6,1163.6 582.7,1159.3 587.8,1156.2 595.1,1156.7 602.5,1156.2 607.8,1158.7 613.5,1159.9 620.9,1158.1" fill="none" stroke="#4a5e5c" stroke-width="2.1" stroke-linejoin="round"/>
<polyline points="536.3,1163.6 540.6,1166.6 545.3,1168.7 550.1,1170.5 554.7,1172.8 560.4,1176.2 565.7,1180.1 568.7,1184.6 571.2,1189.3 577.7,1188.7 584.1,1187.5" fill="none" stroke="#4a5e5c" stroke-width="2.1" stroke-linejoin="round"/>
<polyline points="514.3,1220.6 519.4,1218.6 524.1,1215.7 529.0,1213.2 535.1,1214.0 541.2,1212.9 547.4,1213.2 553.0,1213.5 558.5,1212.7 563.9,1211.4 571.2,1207.7 576.4,1207.0 581.6,1206.3 586.9,1205.9 592.1,1205.7 597.3,1204.4 602.5,1204.0 608.6,1202.7 614.7,1202.3 620.9,1202.2 628.2,1202.5 635.6,1202.2" fill="none" stroke="#4a5e5c" stroke-width="2.1" stroke-linejoin="round"/>
<polyline points="563.9,1211.4 567.5,1216.0 570.1,1221.2 573.1,1226.1 579.4,1227.7 586.0,1227.9 585.0,1233.0 584.8,1238.2 585.2,1243.4 584.7,1248.5 584.1,1253.7 582.4,1259.1 582.5,1264.9 580.4,1270.2 584.1,1277.6" fill="none" stroke="#4a5e5c" stroke-width="2.1" stroke-linejoin="round"/>
<polyline points="573.1,1283.1 578.2,1278.8 584.1,1275.7 589.0,1274.6 594.1,1273.8 598.8,1272.1 604.6,1271.1 609.9,1268.4 617.2,1267.1 624.6,1266.5 629.6,1265.4 634.9,1265.7 640.0,1264.7" fill="none" stroke="#4a5e5c" stroke-width="2.1" stroke-linejoin="round"/>
<polyline points="611.7,1222.4 610.9,1227.9 609.7,1233.4 609.9,1239.0 606.2,1246.3 606.5,1251.5 606.0,1256.5 605.2,1261.5 604.3,1266.5" fill="none" stroke="#4a5e5c" stroke-width="2.1" stroke-linejoin="round"/>
<polyline points="611.7,1222.4 618.1,1221.7 624.6,1222.4 629.8,1222.2 634.9,1222.8 640.0,1224.3" fill="none" stroke="#4a5e5c" stroke-width="2.1" stroke-linejoin="round"/>
<polyline points="576.8,1204.0 579.0,1199.1 582.3,1194.9 578.6,1189.3" fill="none" stroke="#4a5e5c" stroke-width="2.1" stroke-linejoin="round"/>
<polyline points="517.9,1277.6 515.7,1282.1 515.2,1287.2 514.0,1292.0 511.9,1296.6 510.6,1301.5 506.9,1308.8" fill="none" stroke="#4a5e5c" stroke-width="2.1" stroke-linejoin="round"/>
<polyline points="613.7,906.8 613.7,913.7 616.8,918.6 620.5,923.2 623.2,931.4 623.4,936.4 623.5,941.5 624.6,946.4 627.3,954.6 632.8,962.8 636.3,967.5 641.0,971.0 645.1,976.5 645.8,981.9 645.1,987.4 647.8,995.6 643.7,1001.1 636.9,1003.8 627.3,1003.8 621.8,1005.7 616.4,1007.9 613.7,1012.0 615.0,1020.2 620.5,1027.0 624.6,1029.7" fill="none" stroke="#4a5e5c" stroke-width="2.1" stroke-linejoin="round"/>
<polyline points="600.0,977.8 605.5,977.8 609.6,971.0 615.0,975.1 621.8,973.7 631.4,973.7 638.3,974.8 645.1,976.5 649.9,972.4 654.6,968.3 661.5,964.2 668.3,962.8 673.7,964.2 679.5,966.3 684.7,969.6 688.8,973.7 684.7,977.8" fill="none" stroke="#4a5e5c" stroke-width="2.1" stroke-linejoin="round"/>
<polyline points="672.4,917.8 680.6,916.4 684.3,922.4 687.4,928.7 690.1,935.5 691.5,940.6 694.2,945.1 695.8,950.1 698.3,954.6 702.4,961.5 707.9,964.2" fill="none" stroke="#4a5e5c" stroke-width="2.1" stroke-linejoin="round"/>
<polyline points="717.4,900.0 718.3,905.6 720.2,910.9 720.7,917.8 721.5,924.6 722.9,931.4 721.5,939.6 717.4,945.1 709.2,949.2 702.4,951.9" fill="none" stroke="#4a5e5c" stroke-width="2.1" stroke-linejoin="round"/>
<polyline points="647.8,995.6 654.6,988.8 659.1,986.3 663.9,984.5 668.3,981.9 674.4,981.6 680.6,981.9" fill="none" stroke="#4a5e5c" stroke-width="2.1" stroke-linejoin="round"/>
<polyline points="600.0,1025.6 605.6,1024.7 610.9,1022.9 616.5,1023.2 621.8,1024.8 627.3,1025.6 634.1,1026.1 641.0,1025.6 647.7,1023.3 654.6,1021.5" fill="none" stroke="#4a5e5c" stroke-width="2.1" stroke-linejoin="round"/>
<polyline points="600.0,1036.6 606.9,1036.9 613.7,1037.9 619.1,1037.1 624.6,1036.6" fill="none" stroke="#4a5e5c" stroke-width="2.1" stroke-linejoin="round"/>
<polyline points="703.8,1003.8 709.2,1012.0 711.3,1017.5 713.3,1022.9 717.7,1026.7 721.5,1031.1 726.0,1034.3 731.1,1036.6 736.6,1040.7 743.1,1043.5 750.2,1044.7 759.8,1047.5" fill="none" stroke="#4a5e5c" stroke-width="2.1" stroke-linejoin="round"/>
<polyline points="733.8,995.6 732.1,1002.3 731.1,1009.2 728.9,1015.0 725.6,1020.2 723.2,1025.1 720.2,1029.7" fill="none" stroke="#4a5e5c" stroke-width="2.1" stroke-linejoin="round"/>
<polyline points="736.6,1001.1 742.3,1004.7 747.5,1009.2 752.9,1016.1 758.4,1022.9 760.3,1028.8 763.9,1033.8 765.3,1039.5 768.0,1044.7" fill="none" stroke="#4a5e5c" stroke-width="2.1" stroke-linejoin="round"/>
<polyline points="712.0,972.4 714.6,977.2 717.4,981.9 719.5,988.6 720.2,995.6" fill="none" stroke="#4a5e5c" stroke-width="2.1" stroke-linejoin="round"/>
<polyline points="763.9,921.8 765.1,928.0 766.6,934.1 766.4,941.0 765.2,947.8 766.7,954.5 766.6,961.5" fill="none" stroke="#4a5e5c" stroke-width="2.1" stroke-linejoin="round"/>
<polyline points="777.5,913.7 779.0,920.4 778.9,927.3 774.8,934.1 768.0,938.2" fill="none" stroke="#4a5e5c" stroke-width="2.1" stroke-linejoin="round"/>
<polyline points="785.7,917.8 788.4,927.3 785.7,935.5 780.3,941.0" fill="none" stroke="#4a5e5c" stroke-width="2.1" stroke-linejoin="round"/>
<polyline points="763.9,961.5 770.7,968.3 777.5,965.5 784.4,971.0" fill="none" stroke="#4a5e5c" stroke-width="2.1" stroke-linejoin="round"/>
<polyline points="777.5,971.0 779.9,966.4 781.6,961.5 788.4,954.6 795.3,949.2" fill="none" stroke="#4a5e5c" stroke-width="2.1" stroke-linejoin="round"/>
<polyline points="791.2,941.0 796.6,940.0 802.1,940.7 807.5,939.8 813.0,940.3 818.5,939.6 823.6,940.7 828.9,939.8 834.1,940.6 839.3,940.2 844.4,941.9 849.7,940.9 854.8,942.7 860.0,942.3" fill="none" stroke="#4a5e5c" stroke-width="2.1" stroke-linejoin="round"/>
<polyline points="804.8,968.3 810.3,967.2 815.7,966.9 821.2,967.4 826.7,967.0 832.1,966.9 837.7,967.1 843.3,966.1 848.8,965.5 854.5,966.6 860.0,965.5" fill="none" stroke="#4a5e5c" stroke-width="2.1" stroke-linejoin="round"/>
<polyline points="818.5,995.6 823.6,996.0 828.7,996.3 833.9,996.5 839.0,997.0 844.2,995.9 849.5,995.7 854.7,995.4 860.0,995.6" fill="none" stroke="#4a5e5c" stroke-width="2.1" stroke-linejoin="round"/>
<polyline points="832.1,1022.9 838.8,1020.8 845.8,1020.2 852.8,1022.3 860.0,1022.9" fill="none" stroke="#4a5e5c" stroke-width="2.1" stroke-linejoin="round"/>
<polyline points="832.1,913.7 831.6,918.8 832.7,923.9 832.4,929.0 833.6,934.1 832.2,939.3 832.6,944.4 833.0,949.5 833.5,954.6 833.5,959.8 832.9,964.9 832.8,970.0 832.0,975.1 833.2,980.2 831.6,985.3 831.6,990.4 832.1,995.6 832.9,1000.7 833.3,1005.8 833.7,1010.9 833.7,1016.1 833.4,1021.2 834.9,1026.3 835.3,1031.4 834.9,1036.6 835.4,1041.7 833.4,1046.7 833.8,1051.9 834.1,1057.1 833.3,1062.2 833.6,1067.3 832.1,1072.4 832.1,1077.5" fill="none" stroke="#4a5e5c" stroke-width="2.1" stroke-linejoin="round"/>
<polyline points="845.8,927.3 846.3,932.5 845.1,937.5 845.8,942.7 845.9,947.8 844.5,952.9 844.6,958.0 844.3,963.1 844.4,968.3 845.5,973.4 845.5,978.5 845.5,983.6 844.4,988.8 846.2,993.9 844.7,999.0 846.5,1004.1 845.8,1009.2 845.6,1014.5 845.5,1019.8 845.3,1025.0 844.9,1030.2 844.4,1035.5 844.1,1040.7 843.5,1046.0 844.1,1051.3 843.8,1056.5 844.1,1061.8 842.9,1067.0 842.6,1072.2 843.1,1077.5" fill="none" stroke="#4a5e5c" stroke-width="2.1" stroke-linejoin="round"/>
<polyline points="818.5,934.1 818.2,939.7 819.8,945.0 819.9,950.6 820.3,956.0 821.2,961.5 821.4,967.2 820.3,972.9 819.2,978.5 818.7,984.2 818.5,990.0 817.1,995.6" fill="none" stroke="#4a5e5c" stroke-width="2.1" stroke-linejoin="round"/>
<polyline points="668.3,1160.0 669.5,1152.9 671.0,1145.8 675.3,1141.7 678.7,1137.0 681.9,1132.1 687.2,1129.8 692.7,1128.0 698.3,1126.7" fill="none" stroke="#4a5e5c" stroke-width="2.1" stroke-linejoin="round"/>
<polyline points="654.6,1132.1 658.9,1129.2 663.4,1127.0 668.3,1125.3 672.8,1122.9 677.7,1121.4 681.9,1118.5 688.8,1115.8 695.6,1113.0" fill="none" stroke="#4a5e5c" stroke-width="2.1" stroke-linejoin="round"/>
<polyline points="662.8,1113.0 669.6,1113.7 676.5,1113.0 684.7,1107.6" fill="none" stroke="#4a5e5c" stroke-width="2.1" stroke-linejoin="round"/>
<polyline points="1060.0,1080.2 1051.3,1080.2 1043.1,1078.8 1040.3,1085.6 1044.4,1093.8 1040.3,1099.3 1032.1,1093.8 1024.0,1091.1 1017.2,1090.0 1010.3,1089.7 1006.2,1093.8 1006.0,1099.3 1005.1,1104.7 1004.8,1110.2 999.4,1117.0 1002.1,1123.9 1007.3,1126.6 1013.0,1128.0 1021.2,1132.1 1025.3,1137.5" fill="none" stroke="#4a5e5c" stroke-width="2.1" stroke-linejoin="round"/>
<polyline points="974.8,1110.2 977.5,1103.4 984.4,1102.0 993.9,1104.7 999.4,1110.2" fill="none" stroke="#4a5e5c" stroke-width="2.1" stroke-linejoin="round"/>
<polyline points="974.8,1110.2 971.6,1115.1 967.4,1119.2 963.9,1123.9 960.1,1127.7 957.0,1132.1 954.2,1138.5 950.2,1144.4 948.4,1151.1 947.5,1158.0 946.1,1164.8" fill="none" stroke="#4a5e5c" stroke-width="2.1" stroke-linejoin="round"/>
<polyline points="1025.3,1137.5 1024.8,1144.4 1024.0,1151.2 1026.9,1155.6 1029.1,1160.5 1032.1,1164.8 1037.6,1170.3 1045.8,1175.8 1040.3,1181.2 1037.7,1186.7 1034.9,1192.1 1036.1,1199.0 1037.6,1205.8 1043.1,1214.0 1048.7,1213.8 1054.4,1214.5 1060.0,1214.0" fill="none" stroke="#4a5e5c" stroke-width="2.1" stroke-linejoin="round"/>
<polyline points="1055.4,1148.4 1054.0,1156.6 1050.3,1161.2 1045.8,1164.8" fill="none" stroke="#4a5e5c" stroke-width="2.1" stroke-linejoin="round"/>
<polyline points="963.9,1200.3 969.0,1202.4 973.4,1205.8 973.4,1213.0 974.8,1220.0" fill="none" stroke="#4a5e5c" stroke-width="2.1" stroke-linejoin="round"/>
<polyline points="881.9,1005.1 882.2,1010.1 881.3,1015.2 881.2,1020.2 880.9,1025.3 881.4,1030.4 880.8,1035.4 879.8,1040.4 879.6,1045.5 880.2,1050.6 879.2,1055.6 879.5,1061.1 877.4,1066.4 878.4,1072.1 877.1,1077.4 876.5,1082.9" fill="none" stroke="#4a5e5c" stroke-width="2.1" stroke-linejoin="round"/>
<polyline points="901.1,987.3 900.8,992.6 902.2,997.9 901.2,1003.3 901.4,1008.6 902.5,1013.8 902.0,1019.2 902.7,1024.5 901.6,1029.8 902.4,1035.1 902.8,1040.8 904.6,1046.4 904.0,1052.2 905.3,1057.8 906.6,1063.5 906.5,1069.2" fill="none" stroke="#4a5e5c" stroke-width="2.1" stroke-linejoin="round"/>
<polyline points="909.2,1001.0 908.9,1006.4 908.4,1011.9 909.9,1017.4 909.6,1022.8 909.2,1028.3" fill="none" stroke="#4a5e5c" stroke-width="2.1" stroke-linejoin="round"/>
<polyline points="827.3,1007.8 832.5,1007.5 837.5,1009.2 842.6,1009.2 847.8,1009.1 852.9,1010.3 858.0,1010.6 863.2,1010.3 868.3,1010.5" fill="none" stroke="#4a5e5c" stroke-width="2.1" stroke-linejoin="round"/>
<polyline points="830.0,1028.3 835.5,1029.1 841.0,1029.1 846.5,1029.5 851.9,1030.9 857.4,1030.7 862.9,1031.2 868.3,1032.4 874.0,1033.2 879.8,1033.8 885.2,1036.6 891.2,1036.1 896.8,1037.8 902.4,1039.2 908.6,1039.0 914.7,1039.1 920.9,1040.0 927.0,1039.2" fill="none" stroke="#4a5e5c" stroke-width="2.1" stroke-linejoin="round"/>
<polyline points="836.9,1055.6 842.1,1055.9 847.4,1056.2 852.5,1057.8 857.8,1057.2 863.1,1057.3 868.3,1058.3 874.1,1058.3 879.7,1056.8 885.4,1056.2 890.9,1054.1 896.8,1054.4 902.4,1052.9 907.1,1055.5 912.3,1056.8 917.0,1059.4 921.7,1062.0 927.1,1063.0 931.8,1065.4 936.6,1067.9" fill="none" stroke="#4a5e5c" stroke-width="2.1" stroke-linejoin="round"/>
<polyline points="865.5,1069.2 871.0,1069.1 876.5,1069.5 881.9,1068.7 887.4,1069.0 892.9,1067.9 897.9,1067.4 902.8,1066.6 907.9,1067.1 912.9,1066.9 917.9,1066.8 922.9,1066.5" fill="none" stroke="#4a5e5c" stroke-width="2.1" stroke-linejoin="round"/>
<polyline points="868.3,1032.4 873.2,1034.6 878.7,1035.3 883.5,1038.0 888.7,1039.4 893.7,1041.5 899.0,1042.7 904.0,1044.8 909.2,1046.0 915.0,1044.5 920.0,1041.0 925.6,1039.2" fill="none" stroke="#4a5e5c" stroke-width="2.1" stroke-linejoin="round"/>
<polyline points="892.9,1067.9 892.8,1074.3 891.4,1080.6 891.5,1087.0" fill="none" stroke="#4a5e5c" stroke-width="2.1" stroke-linejoin="round"/>
<polyline points="834.1,962.7 839.4,963.7 844.3,965.6 849.6,966.3 854.6,968.2 860.1,969.0 865.5,969.7 871.1,969.4 876.5,970.9" fill="none" stroke="#4a5e5c" stroke-width="2.1" stroke-linejoin="round"/>
<polyline points="838.2,977.8 843.2,977.0 848.2,976.5 853.3,977.4 858.2,976.2 863.3,976.2 868.3,976.4 873.7,975.3 879.1,973.9 884.7,974.0 890.1,972.8 895.6,972.3 901.0,973.7 906.6,973.4 911.9,975.3 917.4,976.1 922.9,976.4" fill="none" stroke="#4a5e5c" stroke-width="2.1" stroke-linejoin="round"/>
<polyline points="860.1,960.0 860.7,965.5 859.6,970.9 858.7,976.4 859.6,981.9 858.7,987.3" fill="none" stroke="#4a5e5c" stroke-width="2.1" stroke-linejoin="round"/>
<polyline points="887.4,960.0 886.7,965.1 886.8,970.2 886.8,975.4 885.5,980.4 885.4,985.6 886.2,990.8 885.1,995.9 884.7,1001.0" fill="none" stroke="#4a5e5c" stroke-width="2.1" stroke-linejoin="round"/>
<polyline points="912.0,960.0 911.7,965.5 910.5,970.9 910.9,976.4 910.7,981.9 910.6,987.4 910.4,992.8 909.2,998.2" fill="none" stroke="#4a5e5c" stroke-width="2.1" stroke-linejoin="round"/>
<polyline points="827.3,1005.1 827.0,1010.1 827.5,1015.2 827.0,1020.2 825.7,1025.2 824.9,1030.2 824.7,1035.3 824.9,1040.3 825.3,1045.4 825.0,1050.5 824.7,1055.5 823.8,1060.5 824.1,1065.6 822.7,1070.5 823.0,1075.6 822.1,1080.6 821.8,1085.7 821.2,1090.7 821.2,1095.7 821.2,1100.8 821.1,1105.9 820.5,1110.9 819.5,1115.9 820.3,1121.0 820.2,1126.0 819.7,1131.1 817.9,1136.0 817.8,1141.1 817.9,1146.1 817.8,1151.2 816.9,1156.5 815.8,1161.7 815.9,1167.2 813.6,1172.2 814.0,1177.7 812.8,1183.0 811.1,1188.1 811.7,1193.6 810.0,1198.8 810.0,1204.2 809.1,1209.5 807.4,1214.7 806.8,1220.0" fill="none" stroke="#4a5e5c" stroke-width="2.1" stroke-linejoin="round"/>
<polyline points="834.1,1158.0 839.2,1159.5 843.9,1161.9 848.7,1164.0 853.5,1166.3 858.8,1167.1 863.2,1170.1 868.3,1171.7 873.7,1173.0 879.3,1174.0 884.9,1175.0 890.2,1176.7 895.6,1178.5" fill="none" stroke="#4a5e5c" stroke-width="2.1" stroke-linejoin="round"/>
<polyline points="841.0,1178.5 846.5,1179.5 851.8,1181.4 857.4,1182.3 862.7,1184.6 868.3,1185.3 873.8,1186.5 879.1,1188.5 884.7,1189.4" fill="none" stroke="#4a5e5c" stroke-width="2.1" stroke-linejoin="round"/>
<polyline points="868.3,1171.7 868.2,1177.4 866.5,1183.0 866.9,1188.7 866.8,1194.4 865.1,1200.0 865.5,1205.8" fill="none" stroke="#4a5e5c" stroke-width="2.1" stroke-linejoin="round"/>
<polyline points="884.7,1167.6 884.8,1173.8 883.9,1179.9 883.4,1186.1 881.9,1192.1" fill="none" stroke="#4a5e5c" stroke-width="2.1" stroke-linejoin="round"/>
<polyline points="841.0,1194.9 846.5,1195.4 852.1,1196.2 857.5,1197.6 862.8,1199.4 868.3,1200.3 875.2,1201.3 881.9,1203.1" fill="none" stroke="#4a5e5c" stroke-width="2.1" stroke-linejoin="round"/>
<polyline points="683.7,1185.6 683.9,1191.2 686.3,1196.4 686.8,1201.9 688.8,1207.2 689.3,1212.7 690.3,1218.2 691.9,1223.6 694.2,1228.8 695.4,1234.4 695.9,1240.2 697.5,1245.6 700.0,1250.8 701.2,1256.3 702.8,1261.8 704.8,1267.1 707.3,1272.2 708.6,1277.7 709.8,1283.3" fill="none" stroke="#4a5e5c" stroke-width="2.1" stroke-linejoin="round"/>
<polyline points="748.9,1185.6 749.6,1191.0 750.6,1196.4 751.4,1201.8 751.7,1207.3 751.1,1212.8 752.1,1218.2 752.7,1223.6 753.4,1229.0 753.0,1234.5 754.8,1239.8 754.5,1245.4 755.4,1250.8 753.8,1256.1 752.6,1261.5 751.9,1267.0 750.4,1272.3 749.5,1277.8 748.9,1283.3 746.9,1288.6 746.1,1294.1 745.3,1299.5 744.2,1305.0 744.2,1310.6 742.4,1315.9" fill="none" stroke="#4a5e5c" stroke-width="2.1" stroke-linejoin="round"/>
<polyline points="794.5,1218.2 792.6,1223.5 791.9,1229.0 791.9,1234.6 790.6,1240.0 789.5,1245.4 787.9,1250.8 787.5,1256.2 787.5,1261.7 786.0,1267.0 785.7,1272.5 785.1,1277.9 784.7,1283.3" fill="none" stroke="#4a5e5c" stroke-width="2.1" stroke-linejoin="round"/>
<polyline points="674.0,1211.7 679.0,1213.3 684.3,1212.8 689.3,1214.6 694.6,1214.7 699.4,1217.1 704.6,1217.8 709.8,1218.2 715.3,1219.5 720.9,1219.8 726.5,1219.8 732.1,1219.9 737.7,1220.5 743.2,1221.4 748.9,1221.4 753.9,1221.0 759.0,1220.6 764.1,1220.5 769.1,1219.3 774.2,1219.4 779.3,1220.2 784.3,1218.8 789.3,1218.0 794.5,1218.2 800.9,1216.8 807.4,1215.8 814.0,1214.9" fill="none" stroke="#4a5e5c" stroke-width="2.1" stroke-linejoin="round"/>
<polyline points="703.3,1244.2 708.8,1243.0 714.4,1243.3 720.1,1243.6 725.5,1241.5 731.2,1241.5 736.8,1241.5 742.4,1241.0 747.4,1241.4 752.5,1241.9 757.6,1241.8 762.6,1242.2 767.7,1241.9 772.7,1243.5 777.8,1244.0 782.9,1243.1 787.9,1244.2 793.6,1246.0 799.4,1247.2 805.1,1248.8 810.7,1250.8" fill="none" stroke="#4a5e5c" stroke-width="2.1" stroke-linejoin="round"/>
<polyline points="709.8,1270.3 715.0,1272.2 720.8,1271.9 726.1,1273.6 731.6,1273.9 737.0,1275.5 742.4,1276.8 747.9,1277.5 753.3,1278.4 758.5,1280.8 764.0,1281.3 769.5,1282.4 774.9,1283.3 780.2,1281.7 785.9,1282.0 791.2,1279.9 796.8,1279.6 802.2,1278.7 807.5,1276.8" fill="none" stroke="#4a5e5c" stroke-width="2.1" stroke-linejoin="round"/>
<polyline points="722.8,1293.1 728.1,1294.7 733.7,1295.0 739.2,1295.8 744.5,1297.6 749.8,1299.3 755.4,1299.6 760.8,1299.2 766.3,1299.4 771.7,1298.7 777.2,1298.1 782.5,1297.3 787.9,1296.3" fill="none" stroke="#4a5e5c" stroke-width="2.1" stroke-linejoin="round"/>
<polyline points="814.0,912.1 814.9,917.1 814.6,922.3 817.0,927.2 816.2,932.5 818.0,937.4 819.1,942.4 819.4,947.5 819.8,952.6 820.5,957.7 821.4,963.2 822.4,968.6 823.6,974.0 825.4,979.3 826.8,984.6 827.0,990.3" fill="none" stroke="#4a5e5c" stroke-width="2.1" stroke-linejoin="round"/>
<polyline points="833.5,925.1 835.1,930.4 834.1,936.1 835.1,941.5 836.7,946.8 837.9,952.2 838.1,957.7 838.1,963.2 839.9,968.5 840.0,974.0 838.6,979.3 838.5,984.8 838.5,990.3 837.8,995.7 836.7,1001.0 836.8,1006.5" fill="none" stroke="#4a5e5c" stroke-width="2.1" stroke-linejoin="round"/>
<polyline points="853.1,918.6 853.7,923.8 852.8,929.0 853.9,934.2 853.2,939.5 853.0,944.7 853.6,949.9 852.6,955.1 853.7,960.3 853.7,965.5 853.3,970.7 853.0,975.9 853.3,981.1 852.5,986.3 853.8,991.6 853.1,996.8" fill="none" stroke="#4a5e5c" stroke-width="2.1" stroke-linejoin="round"/>
<polyline points="872.6,941.4 872.5,946.9 871.4,952.2 871.4,957.7 871.6,963.1 870.4,968.5 869.6,973.9 870.7,979.4 870.2,984.9 869.3,990.3 868.5,995.4 868.5,1000.7 867.5,1005.8 868.5,1011.1 867.0,1016.3 866.5,1021.5 866.5,1026.7 865.9,1031.9 865.6,1037.1 866.1,1042.4 865.3,1047.4 866.0,1052.5 865.9,1057.6 864.1,1062.6 863.8,1067.6 863.3,1072.7 864.0,1077.8 862.4,1082.8 862.8,1087.9" fill="none" stroke="#4a5e5c" stroke-width="2.1" stroke-linejoin="round"/>
<polyline points="892.1,947.9 892.4,953.3 890.8,958.5 892.1,964.0 890.6,969.2 890.6,974.6 890.5,979.9 889.6,985.2 889.9,990.6 889.4,995.9 888.8,1001.2 888.9,1006.5 888.7,1012.0 887.5,1017.3 888.6,1022.9 888.1,1028.3 887.5,1033.7 886.5,1039.1 885.5,1044.5 886.3,1050.0 885.6,1055.4 887.0,1060.7 886.6,1066.2 886.4,1071.7 887.8,1077.1 887.6,1082.6 888.9,1087.9" fill="none" stroke="#4a5e5c" stroke-width="2.1" stroke-linejoin="round"/>
<polyline points="905.2,941.4 905.7,946.4 906.6,951.4 907.3,956.4 907.3,961.4 907.4,966.5 908.8,971.4 908.3,976.5 910.0,981.4 909.2,986.5 909.5,991.6 910.0,996.6 910.8,1001.6 911.7,1006.5 911.6,1011.6 910.7,1016.6 910.4,1021.6 909.1,1026.5 909.6,1031.6 907.8,1036.5 908.1,1041.6 906.9,1046.5 906.3,1051.5 905.9,1056.6 906.9,1061.7 906.5,1066.7 905.2,1071.7" fill="none" stroke="#4a5e5c" stroke-width="2.1" stroke-linejoin="round"/>
<polyline points="820.5,957.7 825.9,958.5 831.4,958.7 836.7,960.1 842.2,960.3 847.6,961.2 853.1,960.9 858.5,960.8 863.9,959.2 869.3,959.1 874.8,959.2 880.2,958.3 885.6,957.7 891.2,956.9 896.8,956.9 902.4,956.7 907.9,955.7 913.6,955.8 919.1,954.5 924.7,954.4" fill="none" stroke="#4a5e5c" stroke-width="2.1" stroke-linejoin="round"/>
<polyline points="794.5,996.8 799.6,998.7 805.0,1000.2 810.4,1001.5 815.5,1003.5 821.0,1004.7 826.5,1005.7 831.2,1009.0 836.8,1009.8 842.2,1011.0 847.7,1010.0 853.1,1010.7 858.5,1011.6 864.0,1011.1 869.4,1011.2 874.8,1011.8 880.2,1012.5 885.6,1013.0" fill="none" stroke="#4a5e5c" stroke-width="2.1" stroke-linejoin="round"/>
<polyline points="833.5,1029.3 838.8,1029.1 844.0,1030.5 849.3,1030.5 854.3,1032.4 859.5,1033.2 864.9,1032.7 869.9,1034.7 875.2,1034.5 880.4,1035.6 885.6,1035.8 891.3,1036.4 896.9,1037.0 902.4,1038.3 908.0,1039.4 913.6,1039.9 919.1,1041.8 924.7,1042.4" fill="none" stroke="#4a5e5c" stroke-width="2.1" stroke-linejoin="round"/>
<polyline points="836.8,1061.9 842.2,1062.0 847.7,1061.7 853.1,1062.2 858.5,1063.8 863.9,1064.2 869.3,1064.1 874.8,1064.8 880.2,1065.3 885.6,1065.1 891.1,1064.7 896.5,1065.7 901.9,1066.1 907.3,1066.5 912.7,1067.3 918.2,1067.9 923.6,1067.6 929.0,1068.1 934.5,1068.4" fill="none" stroke="#4a5e5c" stroke-width="2.1" stroke-linejoin="round"/>
<polyline points="787.9,938.2 786.6,943.0 786.2,948.0 784.8,952.8 782.9,957.5 782.6,962.6 781.4,967.5 779.3,973.0 778.9,979.1 776.7,984.6 774.9,990.3" fill="none" stroke="#4a5e5c" stroke-width="2.1" stroke-linejoin="round"/>
<polyline points="761.9,931.6 762.9,937.1 764.3,942.5 765.1,947.9 766.2,953.4 766.6,958.9 768.4,964.2 768.2,969.7 767.6,975.1 767.0,980.5 766.8,986.0 765.9,991.4 765.1,996.8" fill="none" stroke="#4a5e5c" stroke-width="2.1" stroke-linejoin="round"/>
<polyline points="755.4,1016.3 760.8,1017.4 766.3,1018.4 771.8,1018.9 777.1,1020.6 782.4,1022.5 787.9,1022.8 792.9,1021.3 797.5,1019.0 802.3,1017.1 807.5,1016.3" fill="none" stroke="#4a5e5c" stroke-width="2.1" stroke-linejoin="round"/>
<polyline points="827.0,1153.1 828.6,1158.4 829.8,1163.8 829.8,1169.4 831.7,1174.7 832.5,1180.2 833.5,1185.6 832.5,1191.0 832.0,1196.4 832.3,1201.9 830.6,1207.3 831.1,1212.8 830.3,1218.2 831.7,1223.6 833.1,1228.9 833.4,1234.5 835.4,1239.7 835.4,1245.4 836.8,1250.8 838.4,1256.1 838.5,1261.7 839.6,1267.1 840.8,1272.5 841.8,1278.0 843.3,1283.3" fill="none" stroke="#4a5e5c" stroke-width="2.1" stroke-linejoin="round"/>
<polyline points="814.0,1218.2 819.5,1219.2 825.1,1220.2 830.8,1220.7 836.3,1222.0 842.0,1222.3 847.4,1224.2 853.1,1224.7 858.5,1223.7 864.0,1223.0 869.5,1222.1 874.7,1220.2 880.2,1219.1 885.6,1218.2" fill="none" stroke="#4a5e5c" stroke-width="2.1" stroke-linejoin="round"/>
<polyline points="807.5,1283.3 812.5,1284.4 817.5,1284.9 822.7,1284.1 827.8,1284.0 832.8,1284.9 837.8,1285.9 843.0,1285.1 848.0,1286.2 853.1,1286.6 858.4,1284.6 864.1,1283.9 869.2,1281.3 874.7,1279.8 880.4,1279.1 885.6,1276.8" fill="none" stroke="#4a5e5c" stroke-width="2.1" stroke-linejoin="round"/>
<polyline points="794.5,1315.9 799.7,1316.9 805.0,1317.6 810.3,1318.4 815.5,1319.6 821.0,1319.5 826.2,1320.6 831.4,1321.9 836.8,1322.4 842.2,1321.0 847.7,1320.8 853.1,1319.1 858.5,1318.2 864.1,1317.8 869.3,1315.9" fill="none" stroke="#4a5e5c" stroke-width="2.1" stroke-linejoin="round"/>
<polyline points="787.9,1348.4 793.4,1348.5 798.8,1348.7 804.2,1349.4 809.6,1350.1 815.1,1349.5 820.5,1351.2 826.0,1350.6 831.4,1351.0 836.8,1351.7 842.4,1350.5 848.2,1349.9 853.8,1348.8 859.6,1348.4" fill="none" stroke="#4a5e5c" stroke-width="2.1" stroke-linejoin="round"/>
<polyline points="807.5,1315.9 808.9,1321.2 809.3,1326.8 810.1,1332.3 811.9,1337.6 812.6,1343.1 814.0,1348.4 813.5,1353.9 813.6,1359.4 811.7,1364.7 811.3,1370.1 810.7,1375.5 810.7,1381.0" fill="none" stroke="#4a5e5c" stroke-width="2.1" stroke-linejoin="round"/>
<polyline points="833.5,1299.6 834.7,1305.0 834.1,1310.5 834.2,1315.9 835.7,1321.3 834.6,1326.8 836.5,1332.1 836.5,1337.6 836.8,1343.0 836.8,1348.4 836.4,1354.0 837.1,1359.4 838.3,1364.7 838.8,1370.2 839.2,1375.6 840.0,1381.0" fill="none" stroke="#4a5e5c" stroke-width="2.1" stroke-linejoin="round"/>
<polyline points="801.0,1397.3 806.2,1398.1 811.2,1400.2 816.3,1401.5 821.3,1403.5 826.4,1404.7 831.9,1404.9 836.8,1407.1 842.3,1409.4 848.3,1409.8 854.0,1411.6 859.6,1413.6" fill="none" stroke="#4a5e5c" stroke-width="2.1" stroke-linejoin="round"/>
<polyline points="928.0,1087.9 932.6,1091.0 937.7,1093.4 942.3,1096.7 947.8,1098.3 952.1,1102.1 957.3,1104.2 961.2,1107.4 964.8,1111.1 968.5,1114.6 973.0,1117.1 976.8,1120.5 975.6,1125.9 975.4,1131.3 975.3,1136.8 975.2,1142.3 974.1,1147.6 973.5,1153.1 975.8,1158.3 976.2,1164.1 978.2,1169.4 980.2,1174.7 982.2,1180.1 983.3,1185.6 984.1,1190.6 984.2,1195.7 986.1,1200.6 986.3,1205.7 987.3,1210.6 987.6,1215.7 988.3,1220.7 989.7,1225.7 990.3,1230.7 991.1,1235.7 992.0,1240.7 993.1,1245.6 993.1,1250.8" fill="none" stroke="#4a5e5c" stroke-width="2.1" stroke-linejoin="round"/>
<polyline points="950.8,1153.1 956.3,1151.7 961.5,1149.6 966.9,1147.9 972.5,1146.8 978.1,1145.7 983.3,1143.3 988.8,1142.8 994.2,1141.8 999.7,1141.9 1005.1,1140.7 1010.5,1140.3 1015.8,1138.6 1021.4,1138.9 1026.7,1137.1 1032.2,1136.8 1037.5,1138.2 1042.9,1139.5 1048.6,1139.4 1053.8,1141.4 1059.4,1141.8 1064.7,1143.3 1070.1,1145.0 1075.6,1146.5 1081.1,1147.8 1086.7,1149.1 1091.6,1152.2 1097.3,1153.1 1102.9,1152.7 1108.0,1150.2 1113.5,1149.6 1118.9,1148.1 1124.6,1148.5 1129.8,1146.6" fill="none" stroke="#4a5e5c" stroke-width="2.1" stroke-linejoin="round"/>
<polyline points="1009.4,1087.9 1014.9,1090.1 1020.9,1090.7 1026.7,1092.0 1032.2,1094.5 1035.7,1098.4 1040.8,1100.3 1044.7,1103.8 1048.4,1107.5 1048.6,1112.7 1046.7,1117.6 1046.2,1122.7 1045.9,1127.8 1044.2,1132.7 1043.4,1137.8 1044.1,1143.0 1042.6,1148.0 1041.9,1153.1 1041.8,1158.1 1042.9,1163.1 1042.9,1168.1 1043.8,1173.1 1044.4,1178.1 1044.9,1183.1 1045.3,1188.1 1046.7,1193.1 1045.8,1198.2 1046.1,1203.2 1047.3,1208.2 1047.2,1213.3 1048.4,1218.2" fill="none" stroke="#4a5e5c" stroke-width="2.1" stroke-linejoin="round"/>
<polyline points="1028.9,1185.6 1034.0,1185.9 1039.1,1186.0 1044.3,1185.8 1049.4,1184.8 1054.5,1185.6 1059.6,1185.7 1064.7,1185.6 1070.1,1186.8 1075.7,1187.3 1081.0,1189.0 1086.4,1190.1 1091.7,1191.6 1097.3,1192.1 1102.9,1193.1 1108.3,1194.8 1113.8,1196.4 1119.0,1198.8 1124.3,1200.6 1129.8,1201.9" fill="none" stroke="#4a5e5c" stroke-width="2.1" stroke-linejoin="round"/>
<polyline points="950.8,1250.8 956.2,1250.6 961.6,1250.5 967.0,1249.3 972.5,1249.6 977.9,1248.8 983.3,1249.1 988.8,1248.9 994.2,1248.3 999.6,1247.5 1005.0,1248.0 1010.4,1249.3 1016.0,1248.3 1021.3,1250.1 1026.8,1249.8 1032.2,1250.8 1037.6,1250.0 1043.0,1251.1 1048.4,1250.9 1053.9,1250.4 1059.3,1250.4 1064.7,1251.2 1070.1,1250.9 1075.6,1251.2 1081.0,1250.8" fill="none" stroke="#4a5e5c" stroke-width="2.1" stroke-linejoin="round"/>
<polyline points="1064.7,1169.3 1066.9,1174.0 1068.7,1178.9 1069.6,1184.0 1070.9,1189.0 1073.7,1193.5 1074.6,1198.6 1076.7,1203.3 1078.6,1208.1 1079.6,1213.2 1081.0,1218.2 1082.0,1223.3 1084.0,1228.1 1086.7,1232.6 1087.1,1237.9 1088.3,1242.9 1090.9,1247.5 1092.7,1252.3 1094.1,1257.2 1096.3,1261.9 1097.3,1267.0 1098.3,1272.1 1100.5,1276.8 1102.1,1281.7 1103.1,1286.8 1104.8,1291.7 1107.8,1296.1 1108.8,1301.2 1110.7,1306.0 1112.3,1310.9 1113.6,1315.9" fill="none" stroke="#4a5e5c" stroke-width="2.1" stroke-linejoin="round"/>
<polyline points="1048.4,1218.2 1047.3,1223.6 1046.5,1229.0 1046.8,1234.5 1045.1,1239.8 1045.4,1245.4 1043.9,1250.7 1043.6,1256.2 1041.9,1261.5 1041.9,1267.0 1043.1,1272.4 1043.3,1277.9 1044.2,1283.3 1044.9,1288.7 1046.1,1294.1 1047.0,1299.5 1047.1,1305.0 1048.4,1310.4 1048.4,1315.9" fill="none" stroke="#4a5e5c" stroke-width="2.1" stroke-linejoin="round"/>
<polyline points="934.5,1299.6 939.8,1298.4 945.3,1299.1 950.7,1298.3 956.2,1299.0 961.6,1297.0 967.1,1298.0 972.5,1297.4 977.9,1296.8 983.3,1296.3 988.0,1298.4 993.3,1298.1 998.0,1300.2 1002.7,1302.1 1007.6,1303.2 1012.6,1304.4 1017.4,1306.0 1022.2,1307.5 1027.5,1307.4 1032.2,1309.4 1037.2,1311.5 1041.8,1314.4 1045.8,1318.3 1050.4,1321.2 1055.3,1323.6 1060.2,1325.9 1064.7,1328.9" fill="none" stroke="#4a5e5c" stroke-width="2.1" stroke-linejoin="round"/>
<polyline points="1009.4,1364.7 1013.5,1368.6 1018.1,1371.8 1023.2,1374.2 1028.0,1377.1 1032.2,1381.0 1034.4,1385.7 1037.3,1390.0 1039.6,1394.7 1040.7,1400.0 1043.6,1404.3 1045.6,1409.2 1048.4,1413.6" fill="none" stroke="#4a5e5c" stroke-width="2.1" stroke-linejoin="round"/>
<polyline points="1022.4,1413.6 1027.7,1413.8 1033.0,1412.7 1038.3,1413.2 1043.6,1414.1 1048.8,1414.1 1054.1,1413.8 1059.4,1414.2 1064.7,1413.6 1070.1,1414.9 1075.7,1415.0 1081.0,1417.0 1086.4,1417.9 1091.9,1419.0 1097.3,1420.1" fill="none" stroke="#4a5e5c" stroke-width="2.1" stroke-linejoin="round"/>
<polyline points="1081.0,1348.4 1082.7,1353.4 1085.5,1357.8 1088.1,1362.3 1089.9,1367.3 1092.6,1371.7 1095.2,1376.2 1097.3,1381.0 1098.5,1386.0 1100.5,1390.8 1102.3,1395.6 1103.9,1400.5 1105.9,1405.3 1107.1,1410.3 1108.3,1415.3 1109.9,1420.2 1112.2,1424.9 1113.6,1429.8" fill="none" stroke="#4a5e5c" stroke-width="2.1" stroke-linejoin="round"/>
<polyline points="895.4,1446.1 900.5,1446.3 905.5,1446.3 910.5,1445.3 915.5,1444.9 920.6,1444.9 925.6,1444.5 930.6,1443.9 935.7,1444.3 940.7,1443.3 945.7,1442.5 950.8,1442.9 956.1,1441.6 961.7,1441.1 967.1,1439.7 972.5,1438.8 978.0,1437.9 983.2,1436.0 988.7,1435.0 994.1,1433.6 999.6,1433.1" fill="none" stroke="#4a5e5c" stroke-width="2.1" stroke-linejoin="round"/>
<polyline points="950.8,1387.5 956.2,1389.2 961.7,1390.3 967.1,1392.3 972.6,1393.6 978.0,1395.2 983.3,1397.3 988.4,1395.9 993.7,1395.9 999.1,1396.2 1004.2,1395.2 1009.4,1394.0" fill="none" stroke="#4a5e5c" stroke-width="2.1" stroke-linejoin="round"/>
<polyline points="885.6,1413.6 886.8,1419.0 887.1,1424.6 889.0,1429.8 890.0,1435.3 890.5,1440.8 892.1,1446.1" fill="none" stroke="#4a5e5c" stroke-width="2.1" stroke-linejoin="round"/>
<polyline points="560.0,964.2 565.6,965.1 570.9,967.3 576.3,968.9 581.8,970.4 587.3,971.8 592.6,974.0 598.0,975.0 603.4,976.1 608.9,976.7 614.2,978.6 619.7,979.3 625.1,980.5 629.4,983.3 634.2,985.2 637.7,989.3 642.9,990.7 646.6,994.4 651.2,996.8 656.1,998.7 660.7,1001.3 664.9,1004.5 669.1,1007.6 674.0,1009.8" fill="none" stroke="#4a5e5c" stroke-width="2.1" stroke-linejoin="round"/>
<polyline points="612.1,902.3 613.3,907.2 615.1,911.9 615.9,916.9 615.6,922.1 617.4,926.8 618.6,931.6 619.3,936.8 619.8,942.0 621.1,947.1 622.5,952.1 623.0,957.3 623.6,962.4 625.1,967.5" fill="none" stroke="#4a5e5c" stroke-width="2.1" stroke-linejoin="round"/>
<polyline points="644.7,918.6 645.5,924.2 645.6,929.8 645.8,935.4 646.9,940.9 647.4,946.5 646.7,952.2 647.9,957.7 648.5,963.2 650.0,968.6 650.9,974.0 652.4,979.4 653.6,984.8 654.4,990.3" fill="none" stroke="#4a5e5c" stroke-width="2.1" stroke-linejoin="round"/>
<polyline points="560.0,1022.8 565.4,1022.4 570.9,1022.2 576.3,1021.0 581.7,1020.4 587.1,1019.7 592.6,1019.6 597.8,1021.4 603.4,1021.6 609.0,1022.0 614.4,1023.3 619.9,1024.1 625.1,1026.1" fill="none" stroke="#4a5e5c" stroke-width="2.1" stroke-linejoin="round"/>
<polyline points="674.0,915.4 676.1,920.8 679.8,925.5 682.0,930.9 684.5,936.2 687.0,941.4 689.2,946.5 691.0,951.8 693.5,956.8 695.2,962.1 696.8,967.5" fill="none" stroke="#4a5e5c" stroke-width="2.1" stroke-linejoin="round"/>
<polyline points="716.3,869.8 718.2,874.5 719.0,879.4 720.1,884.3 720.6,889.3 721.6,894.2 722.8,899.1 722.5,905.7 719.9,912.0 719.6,918.6" fill="none" stroke="#4a5e5c" stroke-width="2.1" stroke-linejoin="round"/>
<polyline points="680.5,879.5 685.7,878.3 690.9,876.8 696.0,875.1 701.4,874.8 706.5,873.0 711.7,872.1 717.0,872.1 722.1,870.4 727.4,870.9 732.6,869.8" fill="none" stroke="#4a5e5c" stroke-width="2.1" stroke-linejoin="round"/>
<polyline points="755.4,860.0 756.6,865.4 758.3,870.7 757.8,876.5 760.3,881.6 760.2,887.3 761.9,892.6" fill="none" stroke="#4a5e5c" stroke-width="2.1" stroke-linejoin="round"/>
<polyline points="787.9,869.8 789.5,874.5 790.4,879.5 790.7,884.5 792.7,889.2 793.1,894.2 794.5,899.1" fill="none" stroke="#4a5e5c" stroke-width="2.1" stroke-linejoin="round"/>
<polyline points="560.0,1205.2 565.2,1204.3 570.4,1205.8 575.6,1205.4 580.8,1205.6 586.1,1205.2 591.7,1206.9 597.5,1208.3 603.0,1210.7 608.8,1211.7" fill="none" stroke="#4a5e5c" stroke-width="2.1" stroke-linejoin="round"/>
<polyline points="592.6,1120.5 594.7,1125.3 597.0,1129.9 599.3,1134.6 601.9,1139.1 604.3,1143.7 606.6,1148.4 608.8,1153.1 610.7,1157.9 613.1,1162.6 616.0,1166.9 618.5,1171.5 620.6,1176.3 623.5,1180.6 625.1,1185.6" fill="none" stroke="#4a5e5c" stroke-width="2.1" stroke-linejoin="round"/>
<polyline points="560.0,1250.8 565.6,1251.7 570.9,1253.7 576.4,1255.3 582.0,1256.4 587.1,1258.8 592.6,1260.5 597.0,1264.1 601.6,1267.4 606.3,1270.6 611.7,1272.8 615.8,1276.9 620.0,1280.8 625.1,1283.3 630.1,1284.9 634.5,1287.8 639.4,1289.7 643.8,1292.5 648.7,1294.3 652.8,1297.8 657.7,1299.6" fill="none" stroke="#4a5e5c" stroke-width="2.1" stroke-linejoin="round"/>
<polyline points="579.5,1218.2 579.5,1223.7 580.8,1229.1 581.0,1234.6 581.9,1240.0 583.9,1245.2 584.6,1250.7 584.8,1256.1 585.3,1261.6 586.1,1267.0 584.0,1272.5 581.2,1277.7 579.5,1283.3" fill="none" stroke="#4a5e5c" stroke-width="2.1" stroke-linejoin="round"/>
<polyline points="608.8,1218.2 614.2,1220.0 619.5,1222.1 625.3,1222.4 630.4,1225.2 636.0,1226.4 641.4,1228.0 646.8,1229.1 652.1,1231.0 657.6,1231.6 663.1,1232.4 668.6,1233.1 674.0,1234.5" fill="none" stroke="#4a5e5c" stroke-width="2.1" stroke-linejoin="round"/>
<polyline points="703.3,563.7 707.4,566.9 711.6,570.0 715.0,574.1 719.6,576.8 721.3,582.4 724.7,587.3 726.1,593.0 726.9,598.7 726.8,604.6 727.7,610.3 729.3,615.8 727.6,620.7 725.7,625.5 724.3,630.4 722.8,635.4 727.2,640.8 732.6,645.1" fill="none" stroke="#4a5e5c" stroke-width="2.1" stroke-linejoin="round"/>
<polyline points="726.1,537.7 731.5,534.5 736.6,530.7 742.4,527.9 747.5,525.0 753.3,523.8 758.6,521.4 760.7,516.7 761.9,511.6" fill="none" stroke="#4a5e5c" stroke-width="2.1" stroke-linejoin="round"/>
<polyline points="726.1,537.7 727.3,544.2 727.6,550.8 729.3,557.2 726.8,564.1 722.8,570.3" fill="none" stroke="#4a5e5c" stroke-width="2.1" stroke-linejoin="round"/>
<polyline points="732.6,645.1 739.1,643.9 745.6,643.2 752.1,641.9 756.6,645.8 761.9,648.4 766.8,646.8 771.6,645.1 776.4,643.1 781.4,641.9 787.9,648.4 793.3,650.8 798.8,652.6 804.2,654.9 809.6,653.8 815.2,653.2 820.5,651.7 821.3,646.2 822.1,640.7 823.8,635.4 829.5,634.9 835.2,635.6 840.9,634.7 846.6,635.4" fill="none" stroke="#4a5e5c" stroke-width="2.1" stroke-linejoin="round"/>
<polyline points="732.6,645.1 735.4,649.9 736.8,655.3 740.3,659.6 742.4,664.7 741.6,670.2 741.0,675.7 739.1,681.0 740.2,686.0 742.2,690.8 744.0,695.6 745.6,700.5 742.1,704.7 739.8,709.7 735.8,713.5 739.5,718.2 742.4,723.3 736.9,724.1 731.5,723.1 726.1,723.3" fill="none" stroke="#4a5e5c" stroke-width="2.1" stroke-linejoin="round"/>
<polyline points="657.7,622.4 661.4,627.3 666.3,631.1 670.7,635.4 670.0,640.9 668.9,646.3 667.5,651.7 670.2,657.4 674.2,662.4 677.2,667.9 676.5,674.5 676.9,681.0 677.2,687.5 674.3,692.1 671.3,696.6 667.5,700.5 662.3,705.1 657.7,710.3 655.5,715.7 652.6,720.8 651.2,726.6 645.9,726.8 640.7,727.3 635.6,729.0 630.3,728.5 625.1,729.8 619.3,729.1 613.4,728.3 607.5,728.6 601.6,727.6 595.8,726.6 591.3,723.5 587.0,720.2 582.8,716.8 583.9,711.7 586.0,707.0 588.5,702.4 589.3,697.2 589.8,691.7 592.0,686.5 591.8,680.8 594.1,675.6 594.5,670.1 595.8,664.7" fill="none" stroke="#4a5e5c" stroke-width="2.1" stroke-linejoin="round"/>
<polyline points="683.7,707.0 687.1,713.5 690.3,720.0 695.9,721.6 701.0,724.6 706.5,726.6 713.0,723.3" fill="none" stroke="#4a5e5c" stroke-width="2.1" stroke-linejoin="round"/>
<polyline points="690.3,700.5 692.9,695.3 695.3,689.9 696.8,684.2 699.7,678.6 704.0,673.8 706.5,667.9 703.3,661.4 698.2,660.2 693.5,658.2" fill="none" stroke="#4a5e5c" stroke-width="2.1" stroke-linejoin="round"/>
<polyline points="846.6,635.4 847.7,640.6 848.5,646.0 851.3,650.8 851.8,656.2 853.1,661.4 853.9,666.6 855.5,671.5 857.8,676.1 859.6,681.0 856.6,687.6 853.1,694.0 857.0,698.8 862.3,702.2 866.1,707.0 868.0,712.1 868.7,717.4 870.7,722.5 871.5,727.8 872.6,733.1 872.1,738.5 871.8,743.9 872.0,749.3 872.8,754.8 871.7,760.2 872.6,765.6 875.9,772.1" fill="none" stroke="#4a5e5c" stroke-width="2.1" stroke-linejoin="round"/>
<polyline points="732.6,739.6 738.4,741.7 744.0,744.4 749.9,746.4 755.4,749.3 759.9,751.6 765.0,752.3 769.6,754.3 773.7,757.5 778.5,758.9 783.1,760.9 787.9,762.4 794.4,763.6 800.9,764.8 807.5,765.6 814.2,766.5 820.5,768.9 826.4,767.9 831.9,765.8 837.4,763.3 843.3,762.4 849.2,762.8 855.0,764.0 860.8,764.9 866.7,765.5 872.6,765.6 877.4,768.3 881.7,771.6 885.6,775.4 891.0,774.4 896.5,774.9 901.9,773.5 907.4,773.9 912.8,773.2 918.2,772.1 923.6,771.6 929.0,770.6 934.5,771.0 940.0,770.7 945.3,768.9 950.8,768.9 956.1,767.5 961.6,766.6 967.0,765.6" fill="none" stroke="#4a5e5c" stroke-width="2.1" stroke-linejoin="round"/>
<polyline points="560.0,775.4 564.1,772.4 567.4,768.4 571.7,765.5 575.4,762.1 579.5,759.1 583.9,756.5 587.3,752.8 591.1,749.5 594.6,745.9 598.6,743.0 602.3,739.6 608.1,738.3 613.7,736.1 619.4,734.6 625.1,733.1 630.2,731.2 635.4,729.8 640.6,728.7 646.2,728.7 651.2,726.6" fill="none" stroke="#4a5e5c" stroke-width="2.1" stroke-linejoin="round"/>
<polyline points="651.2,726.6 653.9,731.0 657.5,734.9 660.3,739.2 664.2,742.8 665.7,748.6 667.5,754.2 669.2,759.9 670.7,765.6 673.1,770.2 674.8,775.1 675.4,780.3 677.2,785.2 682.2,787.6 687.8,788.6 693.0,790.6 698.1,792.9 703.3,794.9 709.8,796.0 716.3,797.2 722.8,798.2 729.1,800.5 735.8,801.4 740.7,799.0 745.9,797.2 750.4,793.9 755.4,791.7 760.9,789.6 766.4,787.8 771.7,785.2 777.1,785.0 782.5,785.7 787.9,785.2" fill="none" stroke="#4a5e5c" stroke-width="2.1" stroke-linejoin="round"/>
<polyline points="963.8,619.1 967.7,622.3 971.5,625.7 975.0,629.4 979.8,631.6 983.3,635.4 987.8,638.4 992.3,641.5 996.8,644.5 1001.2,647.7 1004.8,652.0 1009.4,654.9 1013.9,657.1 1018.6,658.7 1023.5,660.0 1027.8,662.7 1032.5,664.5 1037.1,666.6 1041.9,667.9 1048.5,671.0 1055.0,674.5" fill="none" stroke="#4a5e5c" stroke-width="2.1" stroke-linejoin="round"/>
<polyline points="1041.9,667.9 1041.0,673.3 1040.2,678.7 1039.8,684.2 1040.5,689.7 1038.6,695.0 1038.7,700.5 1038.0,706.0 1036.0,711.2 1034.6,716.6 1034.0,722.1 1032.7,727.5 1032.2,733.1" fill="none" stroke="#4a5e5c" stroke-width="2.1" stroke-linejoin="round"/>
<polyline points="1094.0,593.0 1099.0,595.2 1103.6,598.3 1108.7,600.4 1113.6,602.8 1118.7,601.3 1124.0,600.1 1129.1,598.5 1134.3,597.3 1139.6,596.3 1146.1,593.0" fill="none" stroke="#4a5e5c" stroke-width="2.1" stroke-linejoin="round"/>
<polyline points="1081.0,622.4 1082.1,627.9 1082.4,633.5 1082.5,639.1 1082.6,644.7 1083.8,650.2 1083.9,655.8 1084.3,661.4 1087.1,665.7 1090.0,669.9 1092.7,674.3 1095.9,678.3 1098.4,682.8 1100.5,687.5" fill="none" stroke="#4a5e5c" stroke-width="2.1" stroke-linejoin="round"/>
<polyline points="1055.0,667.9 1058.4,664.2 1062.3,660.8 1067.0,658.5 1071.0,655.4 1074.5,651.7 1077.0,646.9 1078.5,641.8 1080.6,636.8 1082.6,631.9 1085.8,627.4 1087.5,622.4" fill="none" stroke="#4a5e5c" stroke-width="2.1" stroke-linejoin="round"/>
<polyline points="1009.4,733.1 1015.2,732.1 1021.0,730.6 1026.7,729.0 1032.2,726.6 1037.9,725.1 1043.0,722.1 1048.4,720.0 1053.3,721.7 1058.3,722.9 1063.1,724.8 1068.0,726.6 1072.8,728.2 1077.6,730.2 1082.7,731.4 1087.5,733.1" fill="none" stroke="#4a5e5c" stroke-width="2.1" stroke-linejoin="round"/>
<polyline points="1081.0,752.6 1082.4,747.6 1085.0,743.1 1086.1,738.0 1087.5,733.1 1091.9,728.8 1095.8,723.9 1100.5,720.0 1107.2,719.6 1113.5,717.7 1120.1,716.8" fill="none" stroke="#4a5e5c" stroke-width="2.1" stroke-linejoin="round"/>
<polyline points="1061.5,762.4 1068.1,762.9 1074.6,764.0 1081.0,765.6 1086.1,767.3 1091.3,768.8 1096.6,769.7 1101.9,770.5 1107.1,772.1 1112.5,769.7 1118.6,769.5 1123.9,766.5 1129.8,765.6" fill="none" stroke="#4a5e5c" stroke-width="2.1" stroke-linejoin="round"/>
<polyline points="1097.3,765.6 1099.2,770.5 1101.9,774.9 1104.9,779.3 1106.5,784.3 1109.3,788.7 1111.2,793.6 1113.6,798.2 1114.3,803.9 1116.8,809.1 1119.2,814.2 1120.6,819.7 1121.0,825.5 1123.3,830.8" fill="none" stroke="#4a5e5c" stroke-width="2.1" stroke-linejoin="round"/>
<polyline points="963.8,830.8 970.3,831.2 976.8,831.3 983.3,830.8 988.4,828.8 993.9,828.8 999.1,827.4 1004.3,826.1 1009.4,824.2 1015.0,825.4 1020.6,826.7 1026.4,827.2 1032.2,827.5" fill="none" stroke="#4a5e5c" stroke-width="2.1" stroke-linejoin="round"/>
<polyline points="950.8,863.3 955.9,860.4 961.4,858.4 967.0,856.8 973.0,856.0 978.3,853.1 983.9,851.2 989.8,850.3 996.0,846.4 1002.9,843.8" fill="none" stroke="#4a5e5c" stroke-width="2.1" stroke-linejoin="round"/>
<polyline points="1041.9,791.7 1042.6,797.0 1044.8,802.0 1045.4,807.4 1047.5,812.4 1048.4,817.7 1047.3,823.0 1045.2,828.0 1044.8,833.4 1042.5,838.4 1041.9,843.8 1044.1,848.5 1045.4,853.5 1047.5,858.2 1048.4,863.3" fill="none" stroke="#4a5e5c" stroke-width="2.1" stroke-linejoin="round"/>
<polyline points="1068.0,811.2 1070.1,816.7 1074.0,821.2 1076.1,826.7 1078.5,832.0 1081.0,837.3 1084.5,840.9 1086.9,845.6 1090.5,849.2 1093.6,853.2 1097.3,856.8 1102.5,859.5 1108.2,861.0 1113.6,863.3" fill="none" stroke="#4a5e5c" stroke-width="2.1" stroke-linejoin="round"/>
<polyline points="1087.5,781.9 1086.2,787.3 1084.7,792.6 1084.7,798.3 1082.9,803.6 1082.1,809.0 1081.0,814.5" fill="none" stroke="#4a5e5c" stroke-width="2.1" stroke-linejoin="round"/>
<polyline points="703.3,798.2 703.6,803.7 702.0,809.0 701.9,814.5 700.7,819.9 700.6,825.3 700.0,830.8 702.0,837.1 701.5,843.9 703.3,850.3 706.5,854.7 709.3,859.3 713.0,863.3 718.0,861.4 721.8,857.5 726.7,855.4 731.4,853.1 735.8,850.3 740.5,846.7 745.5,843.7 750.9,841.1 755.4,837.3" fill="none" stroke="#4a5e5c" stroke-width="2.1" stroke-linejoin="round"/>
<polyline points="680.5,785.2 680.8,790.3 679.1,795.3 678.8,800.3 678.8,805.4 679.0,810.5 678.6,815.6 677.2,820.6 677.4,825.7 677.2,830.8 678.5,836.1 679.2,841.6 680.8,847.0 682.0,852.4 683.5,857.7 683.7,863.3 684.9,868.8 688.0,873.6 689.4,879.1 690.5,884.6 692.8,889.7 695.1,894.8 696.8,900.1" fill="none" stroke="#4a5e5c" stroke-width="2.1" stroke-linejoin="round"/>
<polyline points="787.9,785.2 790.3,790.1 793.2,794.7 795.7,799.6 797.7,804.7 798.9,809.8 799.0,815.1 799.1,820.4 801.2,825.4 801.0,830.8 801.8,836.1 803.5,841.2 804.1,846.6 806.9,851.4 807.5,856.8 806.6,862.5 806.8,868.2 808.3,873.9 807.5,879.6" fill="none" stroke="#4a5e5c" stroke-width="2.1" stroke-linejoin="round"/>
<polyline points="755.4,863.3 760.8,862.0 766.3,861.2 771.7,860.1 777.1,860.4 782.5,859.9 787.9,860.1 793.4,861.2 798.9,861.9 804.2,863.3" fill="none" stroke="#4a5e5c" stroke-width="2.1" stroke-linejoin="round"/>
<polyline points="853.1,850.3 857.8,847.7 862.3,844.5 867.0,841.8 871.4,838.7 876.6,836.8 880.7,833.1 885.6,830.8 891.0,829.3 896.5,828.8 902.1,828.3 907.2,825.7 912.6,824.5 918.2,824.2 923.4,822.3 929.0,821.9 934.5,821.0" fill="none" stroke="#4a5e5c" stroke-width="2.1" stroke-linejoin="round"/>
<polyline points="872.6,856.8 875.5,861.2 877.8,865.9 881.1,870.1 883.1,875.0 885.6,879.6 889.5,883.2 892.4,887.6 895.1,892.1 899.0,895.8 901.9,900.1" fill="none" stroke="#4a5e5c" stroke-width="2.1" stroke-linejoin="round"/>
<polyline points="918.2,847.0 920.5,852.4 922.9,857.7 924.7,863.3 923.8,868.6 923.0,873.9 922.7,879.2 920.2,884.2 920.2,889.6 919.4,894.9 918.2,900.1" fill="none" stroke="#4a5e5c" stroke-width="2.1" stroke-linejoin="round"/>
<polyline points="560.0,889.4 563.6,885.3 565.9,880.2 569.5,876.1 572.7,871.8 576.7,868.0 579.5,863.3 584.6,862.4 589.6,860.9 594.2,858.5 599.1,856.8 604.1,854.7 609.4,853.6 614.8,853.2 620.1,852.5 625.1,850.3" fill="none" stroke="#4a5e5c" stroke-width="2.1" stroke-linejoin="round"/>
<polyline points="608.8,889.4 611.6,885.0 613.7,880.3 617.4,876.6 619.1,871.6 622.6,867.8 625.1,863.3 629.9,859.8 635.2,857.3 640.0,853.9 644.7,850.3 650.3,848.5 656.1,847.2 661.8,845.5 667.5,843.8" fill="none" stroke="#4a5e5c" stroke-width="2.1" stroke-linejoin="round"/>
<polyline points="1149.4,602.8 1152.3,607.2 1153.6,612.3 1156.8,616.6 1158.1,621.7 1160.3,626.4 1163.4,630.7 1165.7,635.4 1168.8,640.4 1172.0,645.2 1175.2,650.2 1178.7,654.9" fill="none" stroke="#4a5e5c" stroke-width="2.1" stroke-linejoin="round"/>
<polyline points="1126.6,511.6 1131.7,514.5 1136.7,517.6 1141.0,521.8 1146.1,524.7 1150.9,522.6 1155.9,521.4 1160.6,519.3 1165.7,518.2" fill="none" stroke="#4a5e5c" stroke-width="2.1" stroke-linejoin="round"/>
<polyline points="1124.3,486.8 1125.6,491.7 1125.7,496.7 1126.8,501.6 1128.6,507.7 1131.8,513.1 1134.2,518.9 1140.1,522.2 1146.6,523.9 1153.1,525.1 1159.7,525.8 1166.4,526.4 1170.4,531.1 1173.8,536.3 1174.1,542.1 1175.2,547.8 1176.3,553.6 1173.1,558.6 1169.4,563.3 1166.4,568.4 1166.4,574.6 1166.0,580.8 1165.5,587.0 1166.4,593.1 1165.5,598.1 1165.6,603.2 1163.9,608.0 1163.9,613.1 1162.5,617.9 1162.1,622.9 1160.0,627.7 1160.2,632.8 1158.9,637.7 1162.1,642.2 1164.0,647.5 1166.4,652.5 1169.9,656.4 1173.8,659.9" fill="none" stroke="#4a5e5c" stroke-width="2.1" stroke-linejoin="round"/>
<polyline points="1166.4,476.9 1166.8,483.1 1166.4,489.3 1172.0,491.2 1177.8,492.9 1183.7,494.2 1184.6,499.2 1185.1,504.2 1186.4,509.1 1187.3,514.1 1188.6,518.9 1191.7,524.3 1196.0,528.8 1197.0,535.4 1196.9,542.1 1198.5,548.6 1197.4,553.5 1196.5,558.5 1194.7,563.3 1194.5,568.4 1193.6,573.4 1191.3,578.4 1188.8,583.3 1186.5,588.4 1183.7,593.1 1186.0,599.0 1189.4,604.3 1191.1,610.5 1189.5,615.5 1187.6,620.4 1185.5,625.3 1183.7,630.2 1185.2,636.0 1187.2,641.7 1188.6,647.6 1194.1,651.4 1200.3,653.9 1205.9,657.4 1208.4,664.9" fill="none" stroke="#4a5e5c" stroke-width="2.1" stroke-linejoin="round"/>
<polyline points="1196.0,474.4 1196.4,480.2 1198.3,485.9 1198.5,491.7 1203.3,494.6 1208.4,496.7 1213.1,499.7 1218.3,501.6 1221.7,507.3 1225.5,512.8 1228.2,518.9 1231.4,523.5 1233.0,528.9 1235.6,533.8 1237.3,539.5 1238.7,545.4 1240.6,551.1 1241.7,556.8 1242.6,562.6 1243.0,568.4 1237.9,568.5 1233.0,569.8 1228.3,571.8 1223.1,571.8 1218.3,573.4 1213.4,575.8 1208.4,578.3 1203.4,577.1 1198.5,575.8" fill="none" stroke="#4a5e5c" stroke-width="2.1" stroke-linejoin="round"/>
<polyline points="1243.0,551.1 1247.7,548.1 1252.9,546.0 1257.9,543.7 1262.6,546.6 1267.8,548.6 1275.2,548.3 1282.6,548.6 1282.6,558.5 1280.6,563.3 1280.3,568.4 1279.0,573.4 1277.7,578.3 1271.2,580.0 1265.3,583.2" fill="none" stroke="#4a5e5c" stroke-width="2.1" stroke-linejoin="round"/>
<polyline points="1218.3,573.4 1218.9,578.3 1220.6,583.1 1220.8,588.2 1226.7,591.2 1232.3,594.8 1238.1,598.1 1243.2,600.2 1248.2,602.7 1252.9,605.5 1253.7,610.6 1255.4,615.4" fill="none" stroke="#4a5e5c" stroke-width="2.1" stroke-linejoin="round"/>
<polyline points="1277.7,528.8 1278.8,533.8 1280.6,538.6 1281.9,543.5 1282.6,548.6" fill="none" stroke="#4a5e5c" stroke-width="2.1" stroke-linejoin="round"/>
<polyline points="1290.0,531.3 1296.3,530.7 1302.4,528.8 1309.0,528.5 1315.6,528.0 1322.2,528.8 1327.4,530.7 1332.1,533.8 1335.5,528.6 1339.5,523.9 1343.5,520.5 1347.6,517.1 1351.9,514.0 1354.0,509.2 1355.5,504.2 1356.8,499.1 1366.7,499.1 1374.1,504.1" fill="none" stroke="#4a5e5c" stroke-width="2.1" stroke-linejoin="round"/>
<polyline points="1349.4,449.7 1350.5,455.0 1351.0,460.3 1350.5,465.8 1350.4,471.2 1351.4,476.5 1351.9,481.8 1352.8,487.8 1355.7,493.2 1356.8,499.1" fill="none" stroke="#4a5e5c" stroke-width="2.1" stroke-linejoin="round"/>
<polyline points="1374.1,504.1 1375.4,509.0 1376.0,513.9 1376.6,518.9 1376.9,524.8 1379.0,530.4 1379.1,536.3 1381.5,538.7" fill="none" stroke="#4a5e5c" stroke-width="2.1" stroke-linejoin="round"/>
<polyline points="1376.6,501.6 1382.0,498.5 1386.5,494.2 1390.4,490.6 1393.1,486.0 1396.4,481.8 1396.7,488.1 1396.9,494.3 1398.9,500.3 1398.9,506.6 1402.4,512.9 1406.3,518.9 1412.5,518.2 1418.6,518.9 1423.6,514.0" fill="none" stroke="#4a5e5c" stroke-width="2.1" stroke-linejoin="round"/>
<polyline points="1433.5,489.3 1433.6,494.3 1435.2,499.1 1436.0,504.1 1433.3,508.9 1430.3,513.6 1428.5,518.9 1425.8,523.8 1423.6,528.8" fill="none" stroke="#4a5e5c" stroke-width="2.1" stroke-linejoin="round"/>
<polyline points="1460.7,476.9 1464.1,480.9 1468.1,484.3 1474.0,485.7 1479.8,487.3 1485.4,489.3 1490.2,491.2 1495.0,493.2 1500.0,494.2" fill="none" stroke="#4a5e5c" stroke-width="2.1" stroke-linejoin="round"/>
<polyline points="1463.2,442.3 1467.5,446.1 1471.3,450.7 1475.5,454.6 1476.0,459.8 1477.9,464.5 1479.3,469.5 1480.5,474.4 1483.5,480.4 1485.4,486.8" fill="none" stroke="#4a5e5c" stroke-width="2.1" stroke-linejoin="round"/>
<polyline points="1465.6,543.7 1470.3,548.9 1475.5,553.6 1478.5,558.7 1481.5,563.9 1485.4,568.4 1489.8,572.4 1494.7,575.7 1500.0,578.3" fill="none" stroke="#4a5e5c" stroke-width="2.1" stroke-linejoin="round"/>
<polyline points="1450.8,499.1 1455.5,504.3 1460.7,509.0 1460.9,514.1 1462.1,519.0 1462.9,523.9 1464.4,528.8 1464.1,533.9 1465.6,538.7" fill="none" stroke="#4a5e5c" stroke-width="2.1" stroke-linejoin="round"/>
<polyline points="1381.5,568.4 1385.8,572.4 1389.6,576.8 1393.9,580.8 1400.4,583.9 1406.3,588.2 1408.7,593.2 1411.2,598.1" fill="none" stroke="#4a5e5c" stroke-width="2.1" stroke-linejoin="round"/>
<polyline points="1376.6,612.9 1377.9,618.0 1379.4,623.0 1381.5,627.8 1386.6,627.7 1391.5,626.4 1396.4,625.3 1401.1,627.8 1406.2,629.1 1411.0,631.4 1416.2,632.7" fill="none" stroke="#4a5e5c" stroke-width="2.1" stroke-linejoin="round"/>
<polyline points="1411.2,598.1 1418.6,593.1 1424.2,592.4 1429.7,591.2 1435.3,591.4 1440.9,590.7 1446.0,590.7 1450.7,588.5 1455.7,588.2 1460.6,585.9 1465.7,584.3 1470.3,581.5 1475.3,579.6 1480.5,578.3 1486.9,576.9 1493.4,576.0 1500.0,575.8" fill="none" stroke="#4a5e5c" stroke-width="2.1" stroke-linejoin="round"/>
<polyline points="1440.9,590.7 1443.0,595.5 1444.9,600.3 1445.9,605.5 1444.1,610.3 1444.6,615.5 1442.2,620.2 1442.7,625.4 1440.9,630.2 1439.2,636.0 1438.2,642.0 1436.0,647.6 1432.1,652.7 1427.9,657.6 1423.6,662.4 1425.2,668.1 1424.7,674.0 1426.1,679.7 1429.9,683.4 1432.5,688.1 1436.0,692.1" fill="none" stroke="#4a5e5c" stroke-width="2.1" stroke-linejoin="round"/>
<polyline points="1401.3,630.2 1403.2,635.0 1403.9,640.0 1404.8,645.0 1405.8,649.9 1406.3,655.0 1409.8,658.9 1413.2,663.0 1416.2,667.3 1423.6,662.4" fill="none" stroke="#4a5e5c" stroke-width="2.1" stroke-linejoin="round"/>
<polyline points="1455.7,617.9 1456.1,622.9 1458.4,627.6 1458.3,632.8 1460.3,637.5 1460.7,642.6 1461.4,647.6 1461.9,652.7 1463.5,657.5 1464.8,662.4 1465.6,667.3 1464.2,672.2 1464.5,677.4 1462.3,682.1 1461.0,687.0 1460.7,692.1" fill="none" stroke="#4a5e5c" stroke-width="2.1" stroke-linejoin="round"/>
<polyline points="1465.6,637.7 1470.3,633.9 1475.7,631.4 1480.5,627.8 1484.6,624.4 1488.4,620.7 1492.8,617.9 1500.0,612.9" fill="none" stroke="#4a5e5c" stroke-width="2.1" stroke-linejoin="round"/>
<polyline points="1398.9,692.1 1405.5,691.4 1411.9,689.6 1418.6,689.6 1425.2,691.0 1431.9,690.8 1438.4,692.1 1444.0,689.7 1449.8,688.1 1455.7,687.1" fill="none" stroke="#4a5e5c" stroke-width="2.1" stroke-linejoin="round"/>
<polyline points="1480.5,642.6 1482.0,647.5 1482.4,652.5 1482.7,657.6 1483.7,662.6 1485.4,667.3 1488.8,672.2 1491.4,677.7 1495.3,682.2" fill="none" stroke="#4a5e5c" stroke-width="2.1" stroke-linejoin="round"/>
<polyline points="1299.9,600.6 1304.8,599.6 1309.8,598.6 1314.8,598.1 1322.2,603.0 1324.8,608.4 1329.3,612.5 1332.1,617.9 1331.4,625.3 1332.1,632.7 1327.0,633.3 1322.2,635.2 1321.3,641.4 1322.2,647.6 1324.8,653.7 1327.1,659.9" fill="none" stroke="#4a5e5c" stroke-width="2.1" stroke-linejoin="round"/>
<polyline points="1327.1,659.9 1332.1,659.5 1337.0,657.9 1342.0,657.4 1346.6,659.9 1352.1,659.9 1356.8,662.4 1361.7,661.4 1366.8,661.5 1371.6,659.9 1376.5,658.2 1381.5,657.4" fill="none" stroke="#4a5e5c" stroke-width="2.1" stroke-linejoin="round"/>
<polyline points="1307.3,667.3 1310.1,672.1 1312.3,677.2 1313.9,682.2 1315.9,687.0 1317.2,692.1 1312.6,695.2 1307.3,697.0" fill="none" stroke="#4a5e5c" stroke-width="2.1" stroke-linejoin="round"/>
<polyline points="1322.2,647.6 1327.0,645.4 1332.2,644.5 1337.0,642.6 1344.4,637.7" fill="none" stroke="#4a5e5c" stroke-width="2.1" stroke-linejoin="round"/>
<polyline points="1228.2,667.3 1223.3,671.6 1218.7,676.1 1213.4,679.7 1208.1,683.0 1203.5,687.1 1198.5,692.1" fill="none" stroke="#4a5e5c" stroke-width="2.1" stroke-linejoin="round"/>
<polyline points="1223.2,667.3 1223.6,673.5 1223.0,679.7 1222.7,685.9 1223.2,692.1 1223.7,698.0 1223.2,703.9 1223.4,709.9 1222.9,715.8 1223.2,721.8" fill="none" stroke="#4a5e5c" stroke-width="2.1" stroke-linejoin="round"/>
<polyline points="1193.6,692.1 1193.5,697.1 1191.1,701.8 1191.1,706.9 1193.9,711.7 1196.0,716.8 1195.4,721.8 1194.7,726.8 1193.6,731.6 1187.0,732.8 1180.4,733.5 1173.8,734.1 1170.5,740.0 1168.8,746.5 1171.2,751.5 1173.8,756.4 1178.4,753.9 1183.8,753.4 1188.6,751.4" fill="none" stroke="#4a5e5c" stroke-width="2.1" stroke-linejoin="round"/>
<polyline points="1248.0,702.0 1250.0,707.1 1252.6,712.0 1255.5,716.8 1257.9,721.8 1255.2,726.6 1253.0,731.7 1249.7,736.2 1248.0,741.5 1248.0,748.2 1250.5,754.6 1250.5,761.3 1256.4,764.4 1262.8,766.3" fill="none" stroke="#4a5e5c" stroke-width="2.1" stroke-linejoin="round"/>
<polyline points="1275.2,704.4 1277.0,709.3 1278.8,714.1 1280.1,719.1 1281.0,724.3 1282.6,729.2 1283.8,734.4 1287.0,738.8 1287.8,744.1 1290.0,749.0 1297.4,751.4" fill="none" stroke="#4a5e5c" stroke-width="2.1" stroke-linejoin="round"/>
<polyline points="1287.6,682.2 1292.2,687.5 1297.4,692.1 1302.4,694.6 1307.3,697.0 1309.9,702.5 1314.2,706.7 1317.2,711.9 1319.0,717.6 1320.1,723.5 1322.2,729.2 1324.9,735.3 1327.1,741.5 1325.1,746.7 1321.5,751.1 1319.7,756.4" fill="none" stroke="#4a5e5c" stroke-width="2.1" stroke-linejoin="round"/>
<polyline points="1317.2,711.9 1322.2,715.2 1326.9,718.8 1332.1,721.8 1337.8,726.2 1344.4,729.2 1350.5,726.4 1356.8,724.2 1361.6,722.5 1366.8,722.6 1371.6,720.8 1376.5,719.7 1381.5,719.3" fill="none" stroke="#4a5e5c" stroke-width="2.1" stroke-linejoin="round"/>
<polyline points="1356.8,724.2 1357.6,729.9 1360.0,735.2 1359.9,741.1 1361.8,746.5 1361.5,751.9 1362.4,757.4 1361.7,762.8 1361.4,768.3 1361.8,773.7" fill="none" stroke="#4a5e5c" stroke-width="2.1" stroke-linejoin="round"/>
<polyline points="1208.4,719.3 1210.2,724.7 1210.9,730.4 1212.7,735.8 1213.4,741.5 1211.7,746.4 1212.0,751.6 1211.1,756.5 1209.8,761.4 1208.4,766.3 1206.0,771.1 1205.1,776.4 1202.1,781.0 1201.1,786.3 1198.5,791.0 1195.8,795.8 1193.2,800.7 1191.1,805.9" fill="none" stroke="#4a5e5c" stroke-width="2.1" stroke-linejoin="round"/>
<polyline points="1154.0,771.2 1159.3,768.5 1163.8,764.5 1168.8,761.3 1173.7,760.2 1178.7,759.3 1183.7,758.9 1190.2,757.8 1196.9,757.7 1203.5,756.4" fill="none" stroke="#4a5e5c" stroke-width="2.1" stroke-linejoin="round"/>
<polyline points="1262.8,766.3 1261.9,771.2 1261.2,776.3 1259.2,781.0 1259.1,786.1 1257.9,791.0 1257.6,796.1 1256.4,801.0 1254.8,805.8 1253.3,810.7 1252.9,815.7 1250.2,820.4 1248.5,825.5 1247.4,830.8 1245.2,835.6 1243.0,840.5" fill="none" stroke="#4a5e5c" stroke-width="2.1" stroke-linejoin="round"/>
<polyline points="1297.4,751.4 1302.5,752.9 1307.5,754.2 1312.3,756.4 1314.1,761.8 1314.2,767.6 1315.4,773.2 1317.2,778.6 1317.3,785.3 1319.5,791.8 1319.7,798.4" fill="none" stroke="#4a5e5c" stroke-width="2.1" stroke-linejoin="round"/>
<polyline points="1319.7,798.4 1325.8,796.9 1332.1,796.0 1338.5,792.7 1344.4,788.5" fill="none" stroke="#4a5e5c" stroke-width="2.1" stroke-linejoin="round"/>
<polyline points="1248.0,810.8 1252.7,808.4 1257.9,807.6 1262.8,805.9 1267.6,807.8 1272.8,808.0 1277.5,810.0 1282.6,810.8 1287.5,809.7 1292.4,808.1 1297.4,807.8 1302.4,807.0 1307.3,805.9 1313.1,801.4 1319.7,798.4" fill="none" stroke="#4a5e5c" stroke-width="2.1" stroke-linejoin="round"/>
<polyline points="1079.8,682.2 1080.1,676.6 1082.4,671.4 1082.1,665.7 1082.9,660.3 1084.7,655.0 1087.4,649.3 1089.8,643.5 1092.2,637.7 1094.1,632.9 1095.3,627.9 1095.8,622.8 1097.1,617.9" fill="none" stroke="#4a5e5c" stroke-width="2.1" stroke-linejoin="round"/>
<polyline points="1060.0,664.9 1064.6,659.6 1069.9,655.0 1077.3,655.5 1084.7,655.0" fill="none" stroke="#4a5e5c" stroke-width="2.1" stroke-linejoin="round"/>
<polyline points="1084.7,729.2 1091.1,728.8 1097.1,726.7 1103.4,729.0 1109.5,731.6 1114.0,734.5 1118.0,737.9 1121.8,741.5" fill="none" stroke="#4a5e5c" stroke-width="2.1" stroke-linejoin="round"/>
<polyline points="1084.7,729.2 1085.9,724.3 1087.5,719.4 1087.0,714.2 1087.9,709.2 1089.7,704.4 1093.0,700.3 1096.6,696.5 1099.6,692.1" fill="none" stroke="#4a5e5c" stroke-width="2.1" stroke-linejoin="round"/>
<polyline points="1060.0,783.6 1065.3,781.9 1070.0,778.9 1074.8,776.2 1080.0,777.1 1084.5,780.1 1089.7,781.1" fill="none" stroke="#4a5e5c" stroke-width="2.1" stroke-linejoin="round"/>
<polyline points="1084.7,828.1 1086.5,823.3 1089.3,819.0 1091.8,814.6 1095.3,810.7 1097.1,805.9 1101.9,802.6 1106.2,799.0 1109.6,794.2 1114.4,791.0 1119.4,790.0 1124.4,789.0 1129.4,787.8 1134.2,786.1" fill="none" stroke="#4a5e5c" stroke-width="2.1" stroke-linejoin="round"/>
<polyline points="1084.7,828.1 1089.1,832.0 1092.6,836.7 1097.1,840.5 1099.8,845.3 1102.3,850.2 1104.2,855.5 1107.3,860.1 1109.5,865.2" fill="none" stroke="#4a5e5c" stroke-width="2.1" stroke-linejoin="round"/>
<polyline points="1134.2,786.1 1135.3,791.2 1137.1,796.1 1139.8,800.7 1140.8,805.8 1142.1,810.9 1144.1,815.7 1143.5,820.8 1142.7,825.8 1141.4,830.6 1139.6,835.4 1139.1,840.5 1136.7,845.2 1134.6,850.1 1133.5,855.4 1131.1,860.2 1129.3,865.2 1130.5,870.9 1130.9,876.8 1131.7,882.5" fill="none" stroke="#4a5e5c" stroke-width="2.1" stroke-linejoin="round"/>
<polyline points="1585.9,266.6 1587.5,272.0 1587.8,277.6 1587.9,283.3 1589.6,288.7 1589.5,293.9 1590.3,299.1 1591.5,304.2 1592.4,309.3 1593.2,314.4 1595.0,319.7 1598.4,324.4 1600.5,329.6 1601.8,335.1 1604.3,340.1 1605.8,345.8 1607.9,351.2 1602.9,354.7 1598.3,358.7 1593.2,362.2 1593.2,368.3 1592.5,374.5 1593.2,380.6 1593.8,385.8 1594.3,391.1 1594.1,396.4 1596.1,401.5 1595.5,406.9 1596.2,412.1 1596.9,417.4 1598.7,422.7 1597.9,428.5 1599.9,433.9 1600.6,439.4" fill="none" stroke="#4a5e5c" stroke-width="2.1" stroke-linejoin="round"/>
<polyline points="1615.3,244.6 1618.6,250.4 1620.0,256.9 1622.6,262.9 1627.9,264.8 1632.4,267.9 1637.4,270.3 1640.6,276.1 1642.2,282.6 1644.7,288.7 1642.5,293.6 1639.9,298.3 1636.3,302.4 1633.7,307.1 1632.0,312.6 1630.0,318.1" fill="none" stroke="#4a5e5c" stroke-width="2.1" stroke-linejoin="round"/>
<polyline points="1699.9,222.5 1700.8,228.4 1700.6,234.4 1702.1,240.1 1702.1,246.1 1703.5,251.9 1704.2,257.1 1704.4,262.2 1703.8,267.4 1703.4,272.5 1703.5,277.6 1708.0,281.9 1713.2,285.2 1718.2,288.7 1720.4,293.7 1722.5,298.8 1725.6,303.4" fill="none" stroke="#4a5e5c" stroke-width="2.1" stroke-linejoin="round"/>
<polyline points="1633.7,310.7 1639.1,310.1 1643.8,307.2 1649.1,306.3 1654.1,304.1 1659.4,303.4 1664.5,301.6 1669.5,299.8 1674.8,298.7 1680.1,297.8 1685.1,296.0 1689.5,290.9 1692.5,285.0 1698.0,285.4 1703.5,284.2 1709.0,285.3 1714.6,284.2 1720.1,285.5 1725.6,285.0 1731.1,284.7 1736.6,285.0 1742.1,284.7 1747.6,285.0 1753.1,285.8 1758.6,286.3 1764.2,286.3 1769.7,286.3 1775.3,286.7 1780.8,287.2 1786.3,288.1 1791.8,288.7 1792.8,282.9 1795.4,277.6 1800.6,278.2 1805.6,279.9 1810.8,280.6 1816.1,279.9 1821.2,281.3 1826.4,280.5 1831.6,279.5 1836.8,278.9 1842.1,278.4 1847.4,278.1 1852.7,277.9 1857.9,277.6 1863.8,274.4 1870.2,272.9 1876.3,270.3" fill="none" stroke="#4a5e5c" stroke-width="2.1" stroke-linejoin="round"/>
<polyline points="1611.6,321.8 1616.6,319.6 1622.1,319.4 1627.1,317.4 1632.3,316.2 1637.4,314.4 1642.7,312.0 1648.3,310.4 1654.2,309.7 1659.4,307.1 1659.8,313.3 1661.6,319.4 1663.1,325.4 1666.4,329.5 1671.0,332.3 1674.1,336.5 1675.8,341.3 1676.2,346.4 1677.5,351.3 1679.6,355.9 1679.5,361.2 1681.6,365.9 1682.2,370.9 1684.8,375.5 1685.1,380.6 1685.6,386.5 1684.4,392.4 1685.9,398.2 1685.3,404.1 1685.1,410.0 1688.4,414.1 1692.5,417.4" fill="none" stroke="#4a5e5c" stroke-width="2.1" stroke-linejoin="round"/>
<polyline points="1692.5,296.0 1696.6,300.1 1699.6,305.1 1703.2,309.5 1707.1,313.7 1710.9,318.1 1711.7,323.7 1713.0,329.2 1714.4,334.7 1715.1,340.3 1717.7,345.5 1718.2,351.2 1720.3,356.3 1722.9,361.1 1726.2,365.6 1728.4,370.6 1730.1,375.9 1732.9,380.6 1736.3,384.8 1738.8,389.5 1740.6,394.8 1744.0,399.0" fill="none" stroke="#4a5e5c" stroke-width="2.1" stroke-linejoin="round"/>
<polyline points="1718.2,351.2 1724.2,348.4 1730.2,345.6 1736.6,343.8 1742.2,342.1 1747.6,340.1 1753.6,342.2 1759.8,343.0 1766.0,343.8 1772.4,345.7 1778.1,349.1 1784.4,351.2 1790.5,351.4 1796.7,351.5 1802.8,351.2 1809.0,350.6 1815.1,349.0 1821.2,347.5 1825.4,352.7 1828.5,358.5 1822.9,362.1 1817.5,365.9" fill="none" stroke="#4a5e5c" stroke-width="2.1" stroke-linejoin="round"/>
<polyline points="1788.1,288.7 1789.3,294.8 1791.4,300.8 1791.8,307.1 1791.4,312.7 1790.0,318.1 1788.3,323.5 1788.1,329.1 1784.0,333.5 1779.3,337.0 1774.5,340.4 1769.7,343.8" fill="none" stroke="#4a5e5c" stroke-width="2.1" stroke-linejoin="round"/>
<polyline points="1861.6,274.0 1862.4,279.1 1862.9,284.3 1863.5,289.5 1865.2,294.5 1865.3,299.7 1867.1,305.1 1866.9,310.8 1867.6,316.3 1869.0,321.8 1871.1,328.0 1873.8,334.1 1876.3,340.1 1880.9,342.9 1885.4,345.8 1890.0,348.7 1894.7,351.2 1898.2,356.3 1900.4,362.1 1902.4,368.0 1905.7,373.2 1909.4,380.6" fill="none" stroke="#4a5e5c" stroke-width="2.1" stroke-linejoin="round"/>
<polyline points="1916.8,222.5 1920.8,227.1 1924.2,232.2 1927.8,237.2 1928.8,242.3 1929.7,247.4 1930.3,252.6 1930.3,257.9 1931.5,262.9 1932.6,268.7 1935.1,274.0 1931.8,278.2 1929.4,283.0 1927.0,287.9 1924.1,292.4 1923.3,297.3 1920.8,301.9 1920.4,307.1 1922.2,312.3 1925.0,317.0 1927.8,321.8 1925.9,326.5 1926.0,331.7 1924.1,336.5" fill="none" stroke="#4a5e5c" stroke-width="2.1" stroke-linejoin="round"/>
<polyline points="1876.3,321.8 1882.8,323.5 1888.8,326.0 1894.7,329.1 1899.4,331.1 1904.4,332.1 1909.4,332.8 1914.1,334.7 1919.1,335.8 1924.1,336.5 1929.2,335.6 1934.4,334.6 1939.6,334.5 1944.6,332.9 1949.9,332.8 1954.8,331.8 1959.7,330.6 1964.7,329.6 1969.5,328.2 1974.2,326.2 1979.3,325.4 1984.7,324.3 1990.4,324.2 1995.9,323.5 2001.3,321.8" fill="none" stroke="#4a5e5c" stroke-width="2.1" stroke-linejoin="round"/>
<polyline points="1938.8,274.0 1941.9,269.6 1945.2,265.5 1947.2,260.4 1951.1,256.7 1953.5,251.9 1958.9,249.5 1964.6,248.2 1970.8,250.3 1977.0,252.6 1982.9,255.6 1988.6,257.0 1993.8,259.8 1999.4,261.4 2005.0,262.9 2011.3,264.9 2017.2,268.0 2023.4,270.3 2028.7,273.5 2033.4,277.3 2038.1,281.3" fill="none" stroke="#4a5e5c" stroke-width="2.1" stroke-linejoin="round"/>
<polyline points="1817.5,365.9 1822.2,368.4 1826.0,372.2 1830.4,375.2 1834.7,378.3 1839.6,380.6 1844.4,382.9 1848.4,386.6 1852.9,389.5 1857.9,391.6 1862.6,394.2 1867.0,397.3 1872.1,399.2 1876.3,402.6 1880.8,405.6 1885.5,408.2 1890.6,410.2 1894.7,413.7 1898.9,417.0 1903.4,419.9 1908.3,422.2 1913.1,424.7" fill="none" stroke="#4a5e5c" stroke-width="2.1" stroke-linejoin="round"/>
<polyline points="1909.4,380.6 1913.5,383.9 1916.9,387.8 1920.4,391.6 1925.7,394.1 1931.5,395.3 1937.0,394.3 1942.4,393.0 1948.1,393.0 1953.5,391.6 1958.3,393.2 1963.4,393.9 1968.4,394.8 1973.2,396.4 1978.0,397.9 1982.9,399.0" fill="none" stroke="#4a5e5c" stroke-width="2.1" stroke-linejoin="round"/>
<polyline points="1920.4,391.6 1922.0,397.2 1924.1,402.6 1922.1,407.7 1919.2,412.4 1916.8,417.4 1915.6,422.3 1913.5,427.0 1913.1,432.1 1910.5,437.3 1908.7,442.8 1907.9,448.7 1905.7,454.1" fill="none" stroke="#4a5e5c" stroke-width="2.1" stroke-linejoin="round"/>
<polyline points="1744.0,399.0 1748.6,396.3 1753.5,394.0 1757.5,390.2 1762.4,387.9 1767.8,385.9 1773.5,384.7 1778.7,381.8 1784.4,380.6 1790.8,378.8 1796.9,376.2 1802.8,373.2 1809.1,371.1 1815.1,368.4 1821.2,365.9" fill="none" stroke="#4a5e5c" stroke-width="2.1" stroke-linejoin="round"/>
<polyline points="1762.4,387.9 1763.7,392.8 1763.9,398.0 1766.8,402.4 1767.7,407.4 1768.8,412.4 1769.7,417.4 1770.1,423.6 1772.4,429.5 1773.4,435.7 1774.7,441.9 1776.0,448.0 1777.1,454.1 1777.2,459.4 1776.9,464.7 1776.2,469.9 1774.8,475.1 1773.9,480.3 1773.5,485.6 1773.4,490.9 1774.6,496.0 1776.3,501.0 1779.5,505.4 1780.1,510.7 1782.3,515.5 1784.4,520.3 1785.4,525.6 1787.3,530.6 1789.0,535.7 1790.6,540.8 1791.8,546.0 1792.0,551.3 1792.9,556.5 1792.5,561.9 1793.9,567.0 1793.6,572.4 1795.6,577.5 1795.4,582.8" fill="none" stroke="#4a5e5c" stroke-width="2.1" stroke-linejoin="round"/>
<polyline points="1692.5,417.4 1698.0,413.7 1703.5,410.0 1708.9,409.2 1713.8,406.9 1719.2,406.3 1724.4,404.9 1729.3,402.6 1734.0,400.6 1739.2,400.8 1744.0,399.0" fill="none" stroke="#4a5e5c" stroke-width="2.1" stroke-linejoin="round"/>
<polyline points="1769.7,417.4 1774.9,415.4 1779.1,411.7 1784.4,410.0 1790.0,410.5 1795.5,411.3 1800.9,412.9 1806.5,413.7 1811.3,415.2 1816.1,416.9 1821.2,417.4 1825.1,420.8 1828.5,424.7" fill="none" stroke="#4a5e5c" stroke-width="2.1" stroke-linejoin="round"/>
<polyline points="1828.5,424.7 1828.9,430.2 1828.3,435.7 1829.2,441.2 1828.5,446.8 1832.1,450.6 1836.2,453.8 1839.4,458.0 1843.2,461.5 1847.8,465.6 1853.1,468.8 1857.9,472.5 1862.4,475.5 1867.2,477.9 1872.2,480.0 1876.3,483.5" fill="none" stroke="#4a5e5c" stroke-width="2.1" stroke-linejoin="round"/>
<polyline points="1828.5,424.7 1833.5,423.0 1838.6,421.8 1842.9,418.4 1848.0,417.1 1853.1,415.8 1857.9,413.7 1863.2,414.6 1868.4,414.8 1873.7,415.5 1878.9,416.6 1884.1,416.8 1889.4,417.1 1894.7,417.4 1901.0,419.4 1906.7,422.8 1913.1,424.7" fill="none" stroke="#4a5e5c" stroke-width="2.1" stroke-linejoin="round"/>
<polyline points="1692.5,446.8 1698.0,450.4 1703.5,454.1 1707.0,458.9 1710.9,463.3 1714.7,467.8 1718.2,472.5 1722.2,475.9 1725.8,479.6 1729.3,483.5 1735.4,484.8 1741.5,486.2 1747.6,487.2 1753.9,486.4 1759.9,484.5 1766.0,483.5" fill="none" stroke="#4a5e5c" stroke-width="2.1" stroke-linejoin="round"/>
<polyline points="1747.6,487.2 1749.2,492.8 1750.7,498.4 1753.5,503.6 1755.0,509.3 1751.0,513.6 1747.7,518.5 1743.9,523.0 1740.3,527.6 1743.1,533.6 1746.0,539.6 1747.6,546.0 1752.4,548.5 1757.3,550.8 1761.6,554.0 1766.0,557.1" fill="none" stroke="#4a5e5c" stroke-width="2.1" stroke-linejoin="round"/>
<polyline points="1773.4,446.8 1779.3,446.3 1785.2,445.5 1791.0,444.0 1796.8,443.2 1802.8,443.1 1809.0,444.2 1815.0,445.6 1821.2,446.8 1827.1,449.8 1833.7,450.9 1839.6,454.1" fill="none" stroke="#4a5e5c" stroke-width="2.1" stroke-linejoin="round"/>
<polyline points="1784.4,520.3 1789.1,516.7 1793.6,513.0 1798.5,509.6 1802.8,505.6 1808.9,503.0 1815.2,501.0 1821.2,498.2 1827.6,496.5 1833.7,494.1 1839.6,490.9 1846.0,489.1 1852.1,486.6 1857.9,483.5" fill="none" stroke="#4a5e5c" stroke-width="2.1" stroke-linejoin="round"/>
<polyline points="1755.0,509.3 1760.7,507.9 1766.0,505.6 1772.2,504.8 1778.1,502.4 1784.4,501.9" fill="none" stroke="#4a5e5c" stroke-width="2.1" stroke-linejoin="round"/>
<polyline points="1644.7,465.1 1646.3,470.6 1647.1,476.2 1648.7,481.6 1648.9,487.4 1650.0,492.9 1652.1,498.2 1654.1,504.2 1655.4,510.3 1655.7,516.6 1658.3,521.4 1660.7,526.1 1663.7,530.6 1666.8,535.0" fill="none" stroke="#4a5e5c" stroke-width="2.1" stroke-linejoin="round"/>
<polyline points="1666.8,535.0 1668.4,529.4 1670.4,523.9 1671.7,518.3 1674.1,512.9 1680.1,510.2 1686.6,508.7 1692.5,505.6 1688.6,500.9 1684.7,496.1 1681.5,490.9 1677.2,487.8 1674.1,483.5" fill="none" stroke="#4a5e5c" stroke-width="2.1" stroke-linejoin="round"/>
<polyline points="1600.6,498.2 1602.3,503.8 1604.3,509.3 1605.9,514.8 1607.9,520.3 1610.5,525.1 1612.3,530.4 1615.3,535.0 1620.8,535.8 1626.3,536.8 1631.8,538.3 1637.4,538.7 1643.3,538.2 1649.1,537.1 1655.1,537.1 1660.9,536.3 1666.8,535.0" fill="none" stroke="#4a5e5c" stroke-width="2.1" stroke-linejoin="round"/>
<polyline points="1688.8,487.2 1693.5,489.1 1698.4,490.4 1703.5,490.9 1708.7,492.7 1713.3,495.8 1718.2,498.2 1716.4,503.8 1715.4,509.5 1712.2,514.6 1710.9,520.3 1712.9,525.3 1716.1,529.6 1718.6,534.4 1721.9,538.7 1725.0,544.5 1726.6,551.0 1729.3,557.1" fill="none" stroke="#4a5e5c" stroke-width="2.1" stroke-linejoin="round"/>
<polyline points="1600.6,490.9 1599.7,496.2 1598.6,501.4 1597.6,506.7 1595.6,511.7 1595.4,517.2 1593.9,522.3 1593.2,527.6 1592.1,532.9 1590.7,538.1 1590.7,543.5 1588.3,548.5 1587.8,553.9 1586.3,559.0 1585.9,564.4 1586.9,569.6 1587.3,574.9 1588.2,580.1 1588.5,585.4 1587.9,590.7 1588.5,596.0 1589.6,601.2" fill="none" stroke="#4a5e5c" stroke-width="2.1" stroke-linejoin="round"/>
<polyline points="1615.3,535.0 1619.3,538.5 1623.8,541.4 1628.6,543.6 1633.4,546.0 1637.4,549.7 1643.0,551.0 1648.7,552.6 1654.2,554.4 1659.4,557.1 1664.4,559.3 1669.8,559.8 1674.7,561.9 1680.2,562.3 1685.1,564.4 1690.4,563.3 1695.2,560.7 1700.8,560.6 1705.9,559.2 1710.9,557.1 1717.0,557.6 1723.1,556.2 1729.3,557.1" fill="none" stroke="#4a5e5c" stroke-width="2.1" stroke-linejoin="round"/>
<polyline points="1685.1,564.4 1684.3,569.6 1683.3,574.8 1684.4,580.2 1683.1,585.4 1682.5,590.7 1682.3,596.0 1681.5,601.2 1683.5,605.9 1684.4,610.9 1685.6,615.8 1685.6,621.0 1687.5,625.7 1688.8,630.6" fill="none" stroke="#4a5e5c" stroke-width="2.1" stroke-linejoin="round"/>
<polyline points="1710.9,557.1 1713.0,562.0 1714.1,567.3 1714.8,572.6 1716.8,577.6 1718.2,582.8 1721.0,587.4 1723.3,592.3 1727.1,596.2 1729.3,601.2" fill="none" stroke="#4a5e5c" stroke-width="2.1" stroke-linejoin="round"/>
<polyline points="1453.5,395.3 1455.3,400.8 1457.1,406.4 1459.4,411.7 1460.9,417.4 1463.6,423.4 1466.3,429.4 1468.2,435.7 1473.4,439.1 1479.1,441.5 1484.6,444.3 1490.3,446.8 1495.4,446.3 1500.1,444.3 1505.0,443.1" fill="none" stroke="#4a5e5c" stroke-width="2.1" stroke-linejoin="round"/>
<polyline points="1490.3,446.8 1494.5,442.5 1499.5,439.4 1504.0,435.6 1508.7,432.1 1515.0,434.1 1520.6,437.8 1527.1,439.4 1532.8,442.7 1538.1,446.8 1543.1,444.5 1547.6,441.3 1552.8,439.4" fill="none" stroke="#4a5e5c" stroke-width="2.1" stroke-linejoin="round"/>
<polyline points="1552.8,439.4 1555.5,433.9 1558.2,428.4 1561.8,423.2 1563.8,417.4 1563.2,412.3 1560.6,407.7 1560.7,402.5 1559.4,397.6 1557.5,392.9 1556.5,387.9" fill="none" stroke="#4a5e5c" stroke-width="2.1" stroke-linejoin="round"/>
<polyline points="1556.5,387.9 1561.6,386.5 1566.9,385.6 1571.7,382.8 1577.0,381.7 1582.2,380.6 1585.3,374.7 1587.0,368.3 1589.6,362.2 1588.7,356.0 1587.8,349.8 1585.9,343.8" fill="none" stroke="#4a5e5c" stroke-width="2.1" stroke-linejoin="round"/>
<polyline points="1563.8,417.4 1565.9,422.3 1570.1,426.1 1572.4,431.0 1574.9,435.7 1580.9,434.2 1587.2,434.0 1593.2,432.1 1600.6,432.6 1607.9,432.1 1613.5,435.7 1619.0,439.4" fill="none" stroke="#4a5e5c" stroke-width="2.1" stroke-linejoin="round"/>
<polyline points="1505.0,443.1 1504.0,448.0 1503.2,453.1 1501.9,457.9 1499.6,462.6 1499.4,467.7 1497.6,472.5 1495.8,478.9 1492.1,484.5 1490.3,490.9 1488.4,497.2 1485.6,503.2 1482.9,509.3 1480.9,514.1 1479.9,519.3 1476.9,523.8 1475.1,528.7 1473.7,533.8 1471.9,538.7" fill="none" stroke="#4a5e5c" stroke-width="2.1" stroke-linejoin="round"/>
<polyline points="1435.1,490.9 1436.3,496.4 1436.7,502.0 1437.5,507.5 1438.8,512.9 1437.7,517.9 1435.6,522.6 1435.1,527.6 1433.1,534.0 1430.5,540.0 1427.8,546.0" fill="none" stroke="#4a5e5c" stroke-width="2.1" stroke-linejoin="round"/>
<polyline points="1471.9,538.7 1476.2,542.4 1479.4,547.1 1482.5,551.9 1486.2,556.2 1490.6,559.9 1494.0,564.4 1495.6,570.9 1498.3,576.9 1501.3,582.8" fill="none" stroke="#4a5e5c" stroke-width="2.1" stroke-linejoin="round"/>
<polyline points="1534.4,479.9 1535.9,485.5 1538.0,490.9 1539.3,496.6 1541.8,501.9 1539.3,506.7 1535.2,510.3 1532.3,514.7 1530.4,519.9 1527.1,524.0 1523.2,529.3 1519.7,535.0" fill="none" stroke="#4a5e5c" stroke-width="2.1" stroke-linejoin="round"/>
<polyline points="1501.3,582.8 1506.2,579.9 1511.9,579.1 1516.8,576.2 1521.9,573.8 1527.1,571.8 1532.4,571.1 1537.5,569.5 1542.3,566.6 1547.8,566.5 1552.8,564.4" fill="none" stroke="#4a5e5c" stroke-width="2.1" stroke-linejoin="round"/>
<polyline points="1453.5,571.8 1453.1,576.9 1450.9,581.5 1449.5,586.4 1448.9,591.4 1447.1,596.2 1446.2,601.2 1444.6,606.3 1443.2,611.5 1443.5,617.0 1442.5,622.3 1440.6,627.4 1440.0,632.7 1438.8,637.9 1436.7,642.9 1433.5,647.3 1429.9,651.3 1427.8,656.3 1428.6,661.5 1429.1,666.8 1429.3,672.1 1430.2,677.3 1430.8,682.5 1430.5,687.9 1431.5,693.1" fill="none" stroke="#4a5e5c" stroke-width="2.1" stroke-linejoin="round"/>
<polyline points="1497.6,593.8 1495.5,598.8 1495.5,604.4 1493.1,609.2 1491.6,614.4 1490.3,619.6 1489.4,624.9 1488.6,630.1 1488.0,635.5 1486.0,640.6 1484.4,645.7 1483.3,650.9 1482.9,656.3 1484.6,661.4 1485.1,666.8 1486.6,672.0 1488.2,677.1 1490.3,682.1" fill="none" stroke="#4a5e5c" stroke-width="2.1" stroke-linejoin="round"/>
<polyline points="1541.8,612.2 1540.1,617.3 1538.3,622.3 1537.8,627.8 1536.7,633.0 1534.4,637.9 1532.3,642.9 1531.6,648.3 1529.9,653.4 1529.3,658.7 1527.1,663.7" fill="none" stroke="#4a5e5c" stroke-width="2.1" stroke-linejoin="round"/>
<polyline points="1380.0,626.9 1385.6,626.7 1391.0,624.7 1396.6,624.4 1402.1,623.2 1407.2,622.2 1412.3,621.1 1417.5,621.1 1422.7,620.5 1427.8,619.6 1432.8,621.5 1438.2,622.0 1443.1,624.5 1448.4,625.3 1453.5,626.9 1458.6,625.6 1463.8,625.2 1468.9,623.9 1474.2,624.7 1479.3,623.2" fill="none" stroke="#4a5e5c" stroke-width="2.1" stroke-linejoin="round"/>
<polyline points="1427.8,656.3 1433.1,657.2 1438.3,658.6 1443.3,660.6 1448.6,661.5 1453.5,663.7 1459.9,661.9 1466.0,659.3 1471.9,656.3" fill="none" stroke="#4a5e5c" stroke-width="2.1" stroke-linejoin="round"/>
<polyline points="1380.0,689.4 1385.3,688.7 1390.5,689.1 1395.8,690.0 1401.0,689.0 1406.3,689.6 1411.5,689.1 1416.8,689.4 1422.7,689.0 1428.5,687.4 1434.3,686.6 1440.2,685.8 1446.2,685.7" fill="none" stroke="#4a5e5c" stroke-width="2.1" stroke-linejoin="round"/>
<polyline points="1556.5,546.0 1560.2,550.6 1564.1,555.0 1567.5,559.9 1571.2,564.4 1573.4,569.3 1577.3,573.2 1578.8,578.6 1582.2,582.8 1578.6,586.5 1575.4,590.7 1571.3,594.0 1566.9,596.9 1563.8,601.2 1557.5,603.2 1551.7,606.5 1545.4,608.5" fill="none" stroke="#4a5e5c" stroke-width="2.1" stroke-linejoin="round"/>
<polyline points="1416.8,582.8 1423.0,585.0 1429.2,587.1 1435.1,590.1 1441.2,588.6 1447.3,587.0 1453.5,586.5 1458.8,583.3 1463.4,579.2 1468.2,575.4" fill="none" stroke="#4a5e5c" stroke-width="2.1" stroke-linejoin="round"/>
<polyline points="1600.6,476.2 1604.3,483.5 1609.8,483.0 1615.3,483.5" fill="none" stroke="#4a5e5c" stroke-width="2.1" stroke-linejoin="round"/>
<polyline points="1630.0,439.4 1634.9,438.3 1640.0,437.8 1644.7,435.7 1652.1,439.4" fill="none" stroke="#4a5e5c" stroke-width="2.1" stroke-linejoin="round"/>
<polyline points="1637.4,454.1 1644.7,450.4 1652.1,446.8" fill="none" stroke="#4a5e5c" stroke-width="2.1" stroke-linejoin="round"/>
<polyline points="443.3,1690.9 448.3,1694.7 452.5,1699.4 457.8,1703.0 455.9,1708.1 453.0,1712.6 457.7,1715.7 461.1,1720.3 465.4,1723.9 469.9,1727.2 479.6,1727.2 483.8,1731.9 488.1,1736.5 491.7,1741.7 497.1,1740.3 502.6,1739.4 508.1,1738.4 513.5,1736.9 515.9,1746.6 520.9,1744.3 525.6,1741.7 528.3,1735.8 530.5,1729.6 535.0,1725.6 540.1,1722.3 542.2,1717.7 544.1,1712.9 545.0,1707.8 540.6,1702.5 535.3,1698.1 537.7,1688.4" fill="none" stroke="#4a5e5c" stroke-width="2.1" stroke-linejoin="round"/>
<polyline points="472.3,1710.2 477.3,1708.0 482.0,1705.4 488.2,1703.4 494.1,1700.5 500.4,1702.4 506.2,1705.4 512.0,1706.7 517.7,1708.0 523.2,1710.2 528.5,1707.1 534.7,1706.0 540.1,1703.0" fill="none" stroke="#4a5e5c" stroke-width="2.1" stroke-linejoin="round"/>
<polyline points="477.2,1710.2 478.4,1715.8 477.9,1721.6 479.6,1727.2" fill="none" stroke="#4a5e5c" stroke-width="2.1" stroke-linejoin="round"/>
<polyline points="491.7,1741.7 489.2,1746.5 486.9,1751.4 481.1,1754.4 475.6,1757.9 469.9,1761.1 465.1,1765.9 467.7,1771.2 472.0,1775.3 474.8,1780.5" fill="none" stroke="#4a5e5c" stroke-width="2.1" stroke-linejoin="round"/>
<polyline points="453.0,1792.6 457.7,1788.7 462.6,1785.3 468.6,1782.5 474.8,1780.5 480.7,1783.1 486.9,1785.3 491.7,1783.7 496.8,1782.7 501.4,1780.5 506.3,1784.1 511.1,1787.7 511.6,1793.3 513.7,1798.6 514.9,1804.0 515.9,1809.5 520.7,1812.1 525.6,1814.4 527.6,1819.2 528.9,1824.3 532.1,1828.7 534.4,1833.4 535.8,1838.5 537.7,1843.4 542.6,1848.3 548.2,1847.3 553.9,1847.2 559.5,1845.8 566.8,1848.3 572.4,1848.7 578.1,1848.7 583.7,1848.3 589.0,1849.9 593.4,1853.1 595.8,1862.8 589.4,1863.9 583.0,1864.9 576.5,1865.2 575.8,1870.9 575.4,1876.6 574.0,1882.2 576.5,1889.4 572.5,1893.5 567.9,1897.1 564.4,1901.5 560.8,1905.3 557.7,1909.5 554.7,1913.6 555.6,1919.3 556.5,1924.9 557.1,1930.6 554.7,1940.3 556.7,1945.3 559.5,1950.0 554.7,1954.8 547.4,1953.4 540.1,1952.4 533.7,1953.0 527.3,1954.5 520.8,1954.8 513.5,1956.3 506.2,1957.2 500.1,1956.5 494.1,1954.8 488.2,1952.9 482.0,1952.4" fill="none" stroke="#4a5e5c" stroke-width="2.1" stroke-linejoin="round"/>
<polyline points="423.9,1855.5 428.6,1853.4 433.7,1852.7 438.4,1850.7 444.3,1850.7 450.0,1852.5 455.8,1852.5 461.7,1852.6 467.5,1853.1 472.5,1855.9 477.2,1859.1 482.1,1862.1 486.9,1865.2 489.2,1870.7 490.7,1876.3 491.7,1882.2 496.6,1887.0 499.9,1881.4 503.0,1875.7 506.2,1870.1 511.0,1872.7 516.1,1874.5 520.8,1877.3 525.8,1874.4 530.3,1870.7 535.3,1867.6 535.4,1861.1 536.1,1854.6 537.7,1848.3" fill="none" stroke="#4a5e5c" stroke-width="2.1" stroke-linejoin="round"/>
<polyline points="515.9,1809.5 518.7,1804.4 522.3,1799.8 525.6,1795.0 530.1,1789.7 535.3,1785.3 537.5,1780.7 537.4,1775.4 539.8,1770.8 541.6,1766.1 542.6,1761.1 549.8,1756.2 554.5,1758.2 559.4,1759.6 564.1,1761.3 569.2,1762.1 574.0,1763.5 573.3,1770.8 571.6,1778.0 566.8,1780.5 568.0,1786.0 568.6,1791.7 569.2,1797.4 568.7,1803.5 569.2,1809.5 570.0,1816.8 569.2,1824.0 568.9,1830.1 569.4,1836.1 568.4,1842.2 569.2,1848.3" fill="none" stroke="#4a5e5c" stroke-width="2.1" stroke-linejoin="round"/>
<polyline points="566.8,1807.1 574.2,1807.6 581.3,1809.5 587.5,1807.5 593.4,1804.7 595.4,1809.4 596.1,1814.5 598.3,1819.2 607.9,1821.6 614.2,1824.9 620.1,1828.9 623.7,1832.6 627.9,1835.7 632.2,1838.6 630.7,1845.8 629.7,1853.1 626.5,1858.4 624.3,1864.2 622.5,1870.1 625.6,1875.8 627.3,1882.2 629.1,1887.3 631.9,1892.0 634.7,1896.6 636.6,1901.7 639.5,1906.3 641.8,1911.2 644.2,1916.4 648.0,1920.7 650.9,1925.5 652.9,1930.9 656.4,1935.4 660.5,1938.6 664.1,1942.3 668.3,1945.4 672.9,1947.9 676.4,1951.8 680.6,1954.8 682.2,1960.5 683.5,1966.2 685.4,1971.8 688.2,1976.2 691.8,1980.1 694.2,1984.8 697.0,1989.3 700.0,1993.6" fill="none" stroke="#4a5e5c" stroke-width="2.1" stroke-linejoin="round"/>
<polyline points="545.0,1736.9 547.2,1743.2 547.5,1750.0 549.8,1756.2" fill="none" stroke="#4a5e5c" stroke-width="2.1" stroke-linejoin="round"/>
<polyline points="583.7,1734.4 584.1,1741.0 585.3,1747.4 586.1,1753.8 591.0,1758.7 596.6,1759.5 602.2,1761.0 607.9,1761.1 614.4,1759.3 620.8,1757.6 627.3,1756.2 633.9,1755.1 640.1,1752.3 646.7,1751.4 652.7,1747.7 658.8,1744.1 663.1,1748.8 666.4,1754.2 670.9,1758.7 674.8,1762.3 679.6,1764.5 684.4,1766.8 688.7,1769.7 692.7,1773.2 691.5,1767.1 689.8,1761.2 689.3,1755.0 687.9,1749.0 693.5,1750.0 699.1,1750.7 704.8,1751.4 709.3,1755.9 714.1,1760.0 719.3,1763.5 723.9,1765.8 729.1,1766.5 733.6,1769.2 739.0,1769.2 743.4,1772.0 748.4,1773.2" fill="none" stroke="#4a5e5c" stroke-width="2.1" stroke-linejoin="round"/>
<polyline points="595.8,1799.8 601.5,1797.5 607.0,1794.6 612.8,1792.6 618.9,1789.0 624.9,1785.3 628.0,1781.2 632.2,1778.0 637.2,1777.3 641.8,1775.1 646.9,1774.4 651.3,1771.6 656.4,1770.8 663.6,1773.2 666.8,1768.7 668.5,1763.5 670.9,1758.7" fill="none" stroke="#4a5e5c" stroke-width="2.1" stroke-linejoin="round"/>
<polyline points="588.6,1673.9 595.0,1673.5 601.5,1673.4 607.9,1673.9 614.0,1674.6 620.0,1676.0 626.0,1676.5 632.2,1676.3 636.4,1681.8 641.8,1686.0 645.6,1690.4 650.2,1693.8 654.0,1698.1 649.9,1702.7 646.7,1707.8 647.5,1713.1 647.5,1718.5 645.9,1723.8 646.0,1729.1 646.7,1734.4 650.8,1737.6 655.1,1740.5 658.8,1744.1" fill="none" stroke="#4a5e5c" stroke-width="2.1" stroke-linejoin="round"/>
<polyline points="532.9,1649.7 530.5,1659.4 532.7,1665.5 535.3,1671.5 539.7,1675.8 545.0,1678.7 549.6,1681.6 554.5,1683.9 559.5,1686.0" fill="none" stroke="#4a5e5c" stroke-width="2.1" stroke-linejoin="round"/>
<polyline points="566.8,1652.1 574.0,1649.7 574.2,1657.0 574.0,1664.2" fill="none" stroke="#4a5e5c" stroke-width="2.1" stroke-linejoin="round"/>
<polyline points="554.7,1954.8 554.6,1960.9 554.7,1966.9 551.5,1971.0 547.8,1974.6 545.0,1979.0 542.3,1984.1 538.4,1988.4 536.3,1993.8 532.9,1998.4 531.4,2004.1 529.4,2009.6 528.0,2015.3 527.2,2020.8 527.5,2026.2 528.9,2031.7 528.0,2037.1" fill="none" stroke="#4a5e5c" stroke-width="2.1" stroke-linejoin="round"/>
<polyline points="559.5,1952.4 565.2,1951.6 570.8,1950.5 576.5,1950.0 580.2,1954.3 584.1,1958.5 588.6,1962.1 592.9,1966.4 598.7,1968.7 603.2,1972.9 607.9,1976.6 603.0,1980.1 598.3,1983.9 600.7,1993.6 606.4,1996.6 612.2,1999.7 617.6,2003.2 620.7,2007.5 623.4,2011.9 627.4,2015.4 629.7,2020.2 631.6,2025.3 634.6,2029.9 637.1,2034.7 639.4,2039.6 640.3,2044.8 642.2,2049.8 643.0,2055.0 644.1,2060.2 645.2,2065.4 645.4,2070.7 646.7,2075.9 649.6,2081.3 651.5,2087.2 654.0,2092.8" fill="none" stroke="#4a5e5c" stroke-width="2.1" stroke-linejoin="round"/>
<polyline points="506.2,1640.0 512.6,1641.8 519.3,1642.6 525.6,1644.8 531.2,1643.6 536.8,1642.7 542.6,1642.7 548.3,1642.2 553.9,1641.0 559.5,1640.0" fill="none" stroke="#4a5e5c" stroke-width="2.1" stroke-linejoin="round"/>
<polyline points="972.4,1201.4 973.6,1207.1 973.9,1212.9 974.4,1218.6 970.5,1220.5 974.3,1225.3 978.2,1230.0 985.8,1235.7 988.4,1240.8 991.1,1245.8 993.4,1251.0" fill="none" stroke="#4a5e5c" stroke-width="2.1" stroke-linejoin="round"/>
<polyline points="943.9,1260.5 949.7,1255.9 955.3,1251.0 961.0,1251.8 966.7,1252.1 972.5,1251.9 978.2,1252.9 983.3,1253.1 988.3,1251.1 993.4,1251.0 999.3,1250.5 1004.9,1248.7 1010.6,1247.2 1017.1,1249.4 1023.9,1251.0 1031.5,1252.9 1037.2,1253.1 1043.0,1252.9 1048.7,1252.1 1054.4,1251.7 1060.1,1251.0 1065.5,1250.5 1070.9,1250.1 1076.2,1249.4 1081.4,1247.6 1086.8,1247.2" fill="none" stroke="#4a5e5c" stroke-width="2.1" stroke-linejoin="round"/>
<polyline points="943.9,1260.5 945.1,1265.5 947.7,1270.0 947.7,1275.1 947.6,1280.2 947.7,1285.3 944.1,1289.3 939.5,1292.4 936.2,1296.7 936.7,1301.8 937.7,1306.9 938.1,1312.0 936.6,1317.6 936.2,1323.4 938.8,1328.9 939.5,1335.0 942.0,1340.6 947.4,1344.7 953.4,1348.2" fill="none" stroke="#4a5e5c" stroke-width="2.1" stroke-linejoin="round"/>
<polyline points="1020.1,1254.8 1020.3,1260.1 1021.0,1265.3 1021.2,1270.6 1022.0,1275.8 1022.3,1281.5 1022.6,1287.3 1023.9,1292.9 1026.0,1298.6 1027.7,1304.4 1027.6,1310.7 1028.0,1317.1 1027.7,1323.4 1025.8,1331.0" fill="none" stroke="#4a5e5c" stroke-width="2.1" stroke-linejoin="round"/>
<polyline points="1027.7,1304.4 1032.3,1302.0 1036.8,1299.6 1041.1,1296.7 1045.8,1294.9 1050.6,1292.9 1056.1,1290.5 1062.0,1289.1 1069.6,1287.2 1075.9,1288.3 1082.3,1289.3 1088.7,1289.1 1093.8,1288.7 1098.9,1289.0 1103.9,1289.1" fill="none" stroke="#4a5e5c" stroke-width="2.1" stroke-linejoin="round"/>
<polyline points="1063.9,1273.9 1066.6,1279.3 1067.7,1285.3 1071.5,1289.1 1073.2,1294.3 1075.3,1299.3 1077.3,1304.4 1079.8,1310.8 1081.1,1317.7 1075.6,1321.0 1069.6,1323.4 1067.3,1328.5 1063.9,1332.9" fill="none" stroke="#4a5e5c" stroke-width="2.1" stroke-linejoin="round"/>
<polyline points="1043.0,1190.0 1043.7,1196.7 1043.0,1203.3 1050.6,1209.1 1048.7,1213.8 1046.8,1218.6 1043.0,1224.3 1047.2,1228.7 1050.6,1233.8 1048.0,1240.3 1046.8,1247.2 1044.9,1252.9" fill="none" stroke="#4a5e5c" stroke-width="2.1" stroke-linejoin="round"/>
<polyline points="955.3,1348.2 960.4,1349.9 965.2,1352.6 970.5,1353.9 974.4,1350.1 980.2,1350.5 985.8,1352.0 990.2,1356.3 995.3,1359.6 997.1,1365.4 999.1,1371.1 995.3,1376.8 988.7,1379.0 982.0,1380.6 976.7,1381.0 971.6,1382.5 966.7,1384.4 960.4,1384.2 954.0,1383.9 947.7,1384.4" fill="none" stroke="#4a5e5c" stroke-width="2.1" stroke-linejoin="round"/>
<polyline points="1004.8,1388.2 1004.8,1395.8 1012.5,1401.5 1018.2,1402.2 1023.9,1401.5 1027.7,1407.3 1034.5,1406.8 1041.1,1405.4 1047.6,1406.9 1054.4,1407.3 1060.1,1411.1 1063.9,1413.0 1065.8,1403.5 1071.1,1400.2 1075.4,1395.8 1070.5,1394.0 1066.5,1390.7 1062.0,1388.2 1059.3,1382.8 1058.2,1376.8 1059.0,1371.1 1058.4,1365.3 1057.5,1359.6 1058.9,1353.9 1058.3,1348.2 1058.2,1342.5" fill="none" stroke="#4a5e5c" stroke-width="2.1" stroke-linejoin="round"/>
<polyline points="1023.9,1407.3 1022.0,1414.9 1027.7,1422.5 1031.5,1430.1 1025.3,1431.7 1018.9,1432.2 1012.5,1432.0 1004.8,1433.9" fill="none" stroke="#4a5e5c" stroke-width="2.1" stroke-linejoin="round"/>
<polyline points="1004.8,1447.3 1011.7,1445.9 1018.2,1443.5 1023.0,1445.4 1027.7,1447.3 1031.6,1452.0 1035.3,1456.8 1041.0,1458.8 1046.8,1460.6 1054.4,1464.4" fill="none" stroke="#4a5e5c" stroke-width="2.1" stroke-linejoin="round"/>
<polyline points="911.5,1409.2 912.3,1414.9 913.4,1420.6 908.1,1421.2 902.9,1422.6 897.7,1423.6 892.4,1424.4 892.1,1431.1 892.4,1437.8 893.8,1442.7 896.2,1447.3 894.8,1454.1 892.4,1460.6 898.1,1468.3" fill="none" stroke="#4a5e5c" stroke-width="2.1" stroke-linejoin="round"/>
<polyline points="860.0,1279.6 865.0,1280.8 870.1,1281.1 875.2,1281.5 881.0,1287.2" fill="none" stroke="#4a5e5c" stroke-width="2.1" stroke-linejoin="round"/>
<polyline points="580.0,1160.8 584.9,1158.8 589.9,1157.1 594.7,1158.6 599.7,1159.2 604.7,1159.6 610.9,1159.9 617.1,1160.8 621.9,1162.8 626.9,1163.7 631.9,1164.5 637.1,1166.5 641.8,1169.5" fill="none" stroke="#4a5e5c" stroke-width="2.1" stroke-linejoin="round"/>
<polyline points="580.0,1205.3 586.1,1206.7 592.4,1206.6 598.5,1205.7 604.7,1205.3 611.0,1205.1 617.1,1204.1 622.0,1204.9 627.0,1205.9 631.9,1206.6 635.8,1203.0 639.4,1199.1 644.3,1196.7" fill="none" stroke="#4a5e5c" stroke-width="2.1" stroke-linejoin="round"/>
<polyline points="580.0,1225.1 586.2,1225.1 585.8,1231.3 583.7,1237.4 583.7,1243.6 583.1,1250.0 581.2,1256.0 581.2,1262.2 582.7,1268.3 582.5,1274.6" fill="none" stroke="#4a5e5c" stroke-width="2.1" stroke-linejoin="round"/>
<polyline points="614.6,1222.6 622.1,1222.7 629.5,1223.9 634.2,1225.8 639.4,1226.3 644.0,1230.4 649.2,1233.8 654.4,1234.2 659.1,1236.2" fill="none" stroke="#4a5e5c" stroke-width="2.1" stroke-linejoin="round"/>
<polyline points="614.6,1222.6 612.2,1227.7 611.1,1233.3 609.7,1238.7 606.0,1243.6 605.5,1249.8 604.7,1256.0 602.9,1260.8 602.3,1265.9 597.5,1268.8 592.4,1270.9 587.4,1273.3" fill="none" stroke="#4a5e5c" stroke-width="2.1" stroke-linejoin="round"/>
<polyline points="580.0,1277.0 586.2,1276.5 592.4,1275.8 598.0,1274.2 603.8,1273.5 609.7,1273.3 616.1,1271.5 622.0,1268.4 626.8,1266.5 631.9,1265.9 636.9,1264.7 641.8,1261.0 646.7,1256.6 651.7,1252.3 656.6,1249.1 661.6,1246.1" fill="none" stroke="#4a5e5c" stroke-width="2.1" stroke-linejoin="round"/>
<polyline points="639.4,1265.9 646.8,1272.1 651.7,1278.3 646.7,1279.4 641.8,1280.7 639.4,1284.5 646.8,1290.6 649.2,1299.3 644.3,1305.5 641.8,1312.9" fill="none" stroke="#4a5e5c" stroke-width="2.1" stroke-linejoin="round"/>
<polyline points="597.3,1120.0 603.8,1123.2 609.7,1127.4 610.9,1134.8" fill="none" stroke="#4a5e5c" stroke-width="2.1" stroke-linejoin="round"/>
<polyline points="629.5,1120.0 631.9,1124.9 639.4,1127.4 634.4,1134.8 633.2,1144.7 639.4,1152.1" fill="none" stroke="#4a5e5c" stroke-width="2.1" stroke-linejoin="round"/>
<polyline points="609.7,1132.4 615.4,1133.7 621.3,1134.3 627.0,1136.1 631.9,1142.3" fill="none" stroke="#4a5e5c" stroke-width="2.1" stroke-linejoin="round"/>
<polyline points="718.4,1081.6 723.2,1083.6 728.0,1086.0 733.1,1087.3 737.7,1089.9 742.9,1091.0 747.4,1093.5 751.5,1096.5 756.2,1098.6 760.9,1100.6 765.5,1102.6 770.5,1103.8 775.1,1106.2 779.8,1108.1 784.5,1110.0" fill="none" stroke="#4a5e5c" stroke-width="2.1" stroke-linejoin="round"/>
<polyline points="725.9,1074.0 731.6,1075.9 736.8,1077.5 741.7,1079.7 746.7,1081.6 749.6,1080.7" fill="none" stroke="#4a5e5c" stroke-width="2.1" stroke-linejoin="round"/>
<polyline points="737.3,1092.9 734.1,1099.6 730.7,1106.2" fill="none" stroke="#4a5e5c" stroke-width="2.1" stroke-linejoin="round"/>
<polyline points="756.2,1091.0 753.0,1095.8 751.6,1101.4 748.6,1106.2 744.8,1114.7" fill="none" stroke="#4a5e5c" stroke-width="2.1" stroke-linejoin="round"/>
<polyline points="714.6,1096.7 723.1,1100.5 729.7,1105.2 736.1,1109.1 742.9,1111.8 751.4,1114.7 758.4,1116.6 765.6,1117.5 770.2,1120.6 775.1,1123.2" fill="none" stroke="#4a5e5c" stroke-width="2.1" stroke-linejoin="round"/>
<polyline points="729.7,1113.7 725.9,1121.3 722.1,1127.0" fill="none" stroke="#4a5e5c" stroke-width="2.1" stroke-linejoin="round"/>
<polyline points="746.7,1113.7 745.6,1119.1 744.4,1124.5 742.9,1129.8" fill="none" stroke="#4a5e5c" stroke-width="2.1" stroke-linejoin="round"/>
<polyline points="715.5,1127.9 721.0,1128.2 726.4,1129.2 731.9,1129.8 737.3,1130.8 743.6,1131.6 749.8,1132.8 756.2,1132.6 763.3,1133.1 770.4,1134.5" fill="none" stroke="#4a5e5c" stroke-width="2.1" stroke-linejoin="round"/>
<polyline points="775.1,1137.4 782.3,1139.5 789.3,1142.1 793.7,1144.6 798.5,1146.5 803.4,1147.8 812.9,1150.6" fill="none" stroke="#4a5e5c" stroke-width="2.1" stroke-linejoin="round"/>
<polyline points="790.2,1117.5 790.1,1122.6 790.2,1127.6 790.4,1132.6 790.2,1137.7 790.0,1142.7 789.7,1147.8 790.7,1152.8 789.6,1157.9 790.2,1162.9" fill="none" stroke="#4a5e5c" stroke-width="2.1" stroke-linejoin="round"/>
<polyline points="792.1,1125.1 798.0,1126.4 803.4,1128.9 807.2,1130.8" fill="none" stroke="#4a5e5c" stroke-width="2.1" stroke-linejoin="round"/>
<polyline points="805.3,1130.8 807.2,1121.3 811.0,1112.8" fill="none" stroke="#4a5e5c" stroke-width="2.1" stroke-linejoin="round"/>
<polyline points="807.2,1112.8 812.3,1114.7 817.2,1117.0 822.4,1118.5 827.1,1121.8 832.5,1124.0 837.5,1127.0 844.0,1130.0 850.7,1132.6" fill="none" stroke="#4a5e5c" stroke-width="2.1" stroke-linejoin="round"/>
<polyline points="795.9,1095.8 803.4,1101.4 804.0,1106.7 805.3,1111.8" fill="none" stroke="#4a5e5c" stroke-width="2.1" stroke-linejoin="round"/>
<polyline points="803.4,1101.4 809.8,1101.9 816.0,1104.0 822.4,1104.3 828.6,1105.2 834.9,1105.6 841.3,1105.2" fill="none" stroke="#4a5e5c" stroke-width="2.1" stroke-linejoin="round"/>
<polyline points="809.1,1100.5 812.4,1094.7 814.9,1088.6 817.6,1082.5 820.7,1077.2 822.4,1071.2 825.2,1065.2 827.1,1058.9 829.0,1053.4 829.9,1047.6" fill="none" stroke="#4a5e5c" stroke-width="2.1" stroke-linejoin="round"/>
<polyline points="820.5,1082.5 826.2,1082.3 831.8,1083.5" fill="none" stroke="#4a5e5c" stroke-width="2.1" stroke-linejoin="round"/>
<polyline points="809.1,1055.1 815.4,1058.3 822.4,1059.9 829.2,1061.5 835.6,1064.6" fill="none" stroke="#4a5e5c" stroke-width="2.1" stroke-linejoin="round"/>
<polyline points="822.4,1059.9 820.2,1065.9 818.6,1072.1 817.2,1078.0 814.9,1083.5 812.9,1089.2" fill="none" stroke="#4a5e5c" stroke-width="2.1" stroke-linejoin="round"/>
<polyline points="792.1,1040.0 789.4,1044.4 788.0,1049.3 785.8,1053.9 784.5,1058.9" fill="none" stroke="#4a5e5c" stroke-width="2.1" stroke-linejoin="round"/>
<polyline points="828.0,1047.6 835.6,1049.5 836.1,1055.8 837.4,1062.0 837.5,1068.4 836.1,1074.6 834.2,1080.8 833.7,1087.3 832.5,1093.8 829.7,1099.8 828.0,1106.2 826.7,1112.5 825.3,1118.7 824.2,1125.1" fill="none" stroke="#4a5e5c" stroke-width="2.1" stroke-linejoin="round"/>
<polyline points="838.4,1055.1 843.5,1056.7 848.7,1057.5 853.9,1058.6 859.2,1058.9 864.5,1059.3 869.6,1060.8" fill="none" stroke="#4a5e5c" stroke-width="2.1" stroke-linejoin="round"/>
<polyline points="838.4,1067.4 843.6,1067.8 848.7,1069.5 854.0,1069.9 859.2,1070.5 864.4,1070.4 869.6,1071.2" fill="none" stroke="#4a5e5c" stroke-width="2.1" stroke-linejoin="round"/>
<polyline points="846.9,1051.3 847.1,1056.7 846.1,1061.9 846.5,1067.3 845.8,1072.5 845.0,1077.8" fill="none" stroke="#4a5e5c" stroke-width="2.1" stroke-linejoin="round"/>
<polyline points="852.6,1040.0 852.3,1045.7 852.1,1051.3 852.3,1057.0 850.6,1062.6 850.7,1068.3 851.3,1074.0 850.7,1079.7" fill="none" stroke="#4a5e5c" stroke-width="2.1" stroke-linejoin="round"/>
<polyline points="730.7,1131.7 730.5,1137.5 728.8,1143.0 725.9,1151.6 729.6,1157.3 733.5,1162.9" fill="none" stroke="#4a5e5c" stroke-width="2.1" stroke-linejoin="round"/>
<polyline points="708.9,1134.5 714.1,1134.8 719.3,1135.1 724.5,1134.1 729.7,1134.5" fill="none" stroke="#4a5e5c" stroke-width="2.1" stroke-linejoin="round"/>
<polyline points="708.9,1134.5 706.1,1144.0 708.0,1153.4 709.2,1160.5 708.9,1167.6" fill="none" stroke="#4a5e5c" stroke-width="2.1" stroke-linejoin="round"/>
<polyline points="746.7,1131.7 745.4,1136.8 745.8,1142.1 741.0,1148.7 734.4,1147.8 731.6,1152.5 733.5,1159.1 739.2,1163.8" fill="none" stroke="#4a5e5c" stroke-width="2.1" stroke-linejoin="round"/>
<polyline points="741.0,1148.7 746.0,1150.6 750.5,1153.4 758.1,1153.4" fill="none" stroke="#4a5e5c" stroke-width="2.1" stroke-linejoin="round"/>
<polyline points="770.4,1133.6 766.3,1138.0 762.5,1142.7 758.1,1146.8 753.8,1150.1 750.7,1154.6 746.7,1158.2 739.2,1163.8" fill="none" stroke="#4a5e5c" stroke-width="2.1" stroke-linejoin="round"/>
<polyline points="788.3,1142.1 791.2,1147.7 794.0,1153.4 799.7,1155.3 803.4,1147.8" fill="none" stroke="#4a5e5c" stroke-width="2.1" stroke-linejoin="round"/>
<polyline points="803.4,1147.8 802.2,1153.2 802.4,1158.8 801.1,1164.2 799.7,1169.5" fill="none" stroke="#4a5e5c" stroke-width="2.1" stroke-linejoin="round"/>
<polyline points="784.5,1164.8 789.5,1166.2 794.2,1167.9 798.8,1170.2 803.4,1172.4 807.2,1174.2" fill="none" stroke="#4a5e5c" stroke-width="2.1" stroke-linejoin="round"/>
<polyline points="814.8,1142.1 822.4,1137.4 825.9,1141.2 828.0,1145.9 822.4,1153.4 820.7,1158.5 817.6,1162.9 814.2,1168.8 810.1,1174.2" fill="none" stroke="#4a5e5c" stroke-width="2.1" stroke-linejoin="round"/>
<polyline points="807.2,1174.2 808.0,1179.9 809.2,1185.5 809.1,1191.3 808.9,1197.1 809.9,1202.8 811.3,1208.5 812.0,1214.2 812.0,1220.0" fill="none" stroke="#4a5e5c" stroke-width="2.1" stroke-linejoin="round"/>
<polyline points="746.7,1167.6 746.4,1172.9 747.9,1178.1 747.2,1183.3 747.9,1188.6 747.0,1193.8 748.6,1199.0 748.2,1204.3 748.3,1209.5 748.3,1214.8 748.6,1220.0" fill="none" stroke="#4a5e5c" stroke-width="2.1" stroke-linejoin="round"/>
<polyline points="718.4,1176.1 714.5,1180.8 712.5,1186.5 708.9,1191.3 705.7,1195.7 703.2,1200.7" fill="none" stroke="#4a5e5c" stroke-width="2.1" stroke-linejoin="round"/>
<polyline points="718.4,1176.1 725.9,1179.9 726.0,1186.5 725.9,1193.1" fill="none" stroke="#4a5e5c" stroke-width="2.1" stroke-linejoin="round"/>
<polyline points="690.0,1174.2 695.7,1178.0 699.5,1183.7 703.9,1186.4 708.9,1187.5" fill="none" stroke="#4a5e5c" stroke-width="2.1" stroke-linejoin="round"/>
<polyline points="716.5,1193.1 718.4,1200.7 725.9,1202.6 733.5,1199.8" fill="none" stroke="#4a5e5c" stroke-width="2.1" stroke-linejoin="round"/>
<polyline points="763.7,1191.3 764.7,1200.7 773.2,1202.6 778.2,1199.1 782.6,1195.0" fill="none" stroke="#4a5e5c" stroke-width="2.1" stroke-linejoin="round"/>
<polyline points="690.0,1196.0 695.7,1196.0 701.3,1195.1 707.0,1195.0 708.9,1202.6" fill="none" stroke="#4a5e5c" stroke-width="2.1" stroke-linejoin="round"/>
<polyline points="739.2,1210.2 746.7,1205.4 756.2,1204.5 761.3,1206.1 765.6,1209.2 772.2,1210.6 778.9,1210.2 784.5,1202.6" fill="none" stroke="#4a5e5c" stroke-width="2.1" stroke-linejoin="round"/>
<polyline points="841.3,1153.4 845.8,1156.1 850.7,1158.2 856.0,1161.8 860.2,1166.7 865.3,1168.0 870.0,1170.5" fill="none" stroke="#4a5e5c" stroke-width="2.1" stroke-linejoin="round"/>
<polyline points="841.3,1159.1 841.5,1164.8 841.6,1170.5 843.2,1176.1 843.1,1181.8 843.3,1188.2 841.1,1194.3 841.3,1200.7" fill="none" stroke="#4a5e5c" stroke-width="2.1" stroke-linejoin="round"/>
<polyline points="826.1,1181.8 831.6,1184.2 836.5,1187.5 841.4,1190.2 846.0,1193.1 850.4,1197.4 855.4,1200.7" fill="none" stroke="#4a5e5c" stroke-width="2.1" stroke-linejoin="round"/>
<polyline points="814.8,1162.9 818.4,1167.8 822.4,1172.4 824.3,1177.0 826.1,1181.8" fill="none" stroke="#4a5e5c" stroke-width="2.1" stroke-linejoin="round"/>
<polyline points="466.5,686.0 467.9,693.2 469.2,700.4 468.7,707.8 470.0,715.0 475.6,719.9 479.2,726.4 484.2,731.7 489.5,736.8 493.2,743.3 498.9,748.1 502.5,754.6 504.1,762.5 506.6,770.3 507.9,778.2 508.5,786.3 509.7,794.3 509.5,801.6 512.2,808.6 512.6,815.9 512.2,823.2 513.3,830.4 509.7,837.6 503.8,844.0 499.7,851.7 495.0,859.0 488.0,862.0 480.3,863.3 474.1,868.4 466.5,870.0 460.3,874.8 455.6,881.0 457.0,888.1 458.3,895.2 459.2,902.4 459.0,909.7 455.9,917.2 451.1,923.8 448.4,931.4 449.3,938.6 448.2,945.8 448.0,953.1 448.8,960.3 448.4,967.5 443.8,974.6 440.4,982.5 435.9,989.8 430.4,996.3 425.1,1001.3 418.5,1004.6 413.2,1009.5 407.6,1014.1 401.5,1018.0 395.8,1022.5 390.6,1027.5 385.4,1032.6 379.0,1036.3 374.0,1041.6 362.4,1048.2 358.6,1054.6 356.4,1061.7 352.5,1068.0 346.0,1076.3 341.0,1082.9 334.4,1087.8 328.5,1093.0 322.9,1098.5 313.0,1094.4" fill="none" stroke="#000" stroke-width="3.8" stroke-linejoin="round" stroke-linecap="round"/>
<polyline points="513.3,830.4 519.7,834.5 524.4,840.9 531.8,843.7 536.7,849.7 543.0,854.0 549.5,858.3 555.0,863.8 559.3,870.5 566.0,874.6 573.4,878.7 579.6,884.5 586.7,889.0 593.9,891.8 601.1,894.7 608.3,897.7 615.5,900.6 622.7,899.7 630.0,901.5 637.2,899.5 644.4,900.6 651.8,901.3 659.1,902.2 666.2,904.3 673.3,906.4 680.6,910.5 687.1,916.0 695.0,919.1 702.0,923.7 709.5,921.7 717.3,921.2 725.0,920.9 734.0,920.3 742.1,915.8 751.0,915.0 759.7,913.3 768.3,910.7 777.0,909.0 784.6,910.4 792.4,910.6 800.0,912.0 809.1,909.7 817.8,906.4 826.5,907.1 835.1,908.3 843.7,909.7 852.4,909.3 860.0,914.3 868.3,918.0 875.5,923.7 882.5,925.4 888.0,930.5 895.0,932.1 901.5,935.0 908.9,936.5 915.8,939.7 919.5,946.1 925.2,950.8 937.8,949.2 947.3,955.5 947.8,963.4 948.8,971.3 953.0,978.0 958.3,983.9 967.8,991.7 978.8,991.7 981.4,983.2 982.0,974.4 985.1,967.8 989.0,961.6 993.0,955.5 1000.6,951.6 1007.0,946.0 1014.7,947.2 1021.6,951.0 1029.2,952.4 1036.3,957.9 1041.8,965.0 1048.0,958.7 1056.0,960.2" fill="none" stroke="#000" stroke-width="3.8" stroke-linejoin="round" stroke-linecap="round"/>
<polyline points="939.0,637.8 937.6,647.9 936.0,658.0 940.7,664.3 945.6,670.4 948.3,678.1 953.5,684.0 959.5,688.0 963.6,694.0 967.9,699.8 973.7,704.0 979.8,709.0 984.0,715.7 989.1,721.6 995.5,726.3 999.7,733.0 999.3,740.3 997.7,747.4 997.7,754.8 996.8,762.0 999.1,772.2 1002.6,782.0 996.7,787.8 990.0,792.6 983.8,797.9 976.6,802.0 969.3,808.0 962.0,814.0 954.1,814.3 946.7,816.8 939.0,817.7 931.5,820.0 931.1,827.9 930.0,835.8 933.0,844.5 938.4,852.2 941.0,861.0 943.1,869.3 943.7,877.9 945.7,886.2 947.9,893.5 951.4,900.3 955.0,907.0 956.7,914.5 957.9,922.9 958.6,931.2 958.3,939.7 966.2,950.8 969.5,957.3 970.9,964.5 975.2,970.6 977.2,977.6 976.9,984.8 978.8,991.7" fill="none" stroke="#000" stroke-width="3.8" stroke-linejoin="round" stroke-linecap="round"/>
<polyline points="1083.0,517.0 1084.8,524.7 1087.2,532.1 1088.8,539.9 1091.8,547.2 1093.0,555.0 1092.1,562.7 1092.1,570.3 1092.6,578.0 1094.0,585.7 1092.9,593.3 1093.0,601.0 1096.4,608.6 1099.7,616.2 1100.8,624.7 1105.0,632.0 1106.7,639.4 1112.2,645.1 1113.1,652.8 1116.7,659.3 1120.0,666.0 1127.5,668.7 1134.9,671.4 1142.0,675.0 1132.9,676.0 1124.0,678.0 1117.7,681.1 1111.1,683.5 1105.0,687.0 1108.6,694.6 1113.9,701.2 1117.0,709.0 1118.0,716.9 1119.2,724.8 1121.0,732.5 1124.0,740.0 1125.9,747.1 1129.7,753.6 1132.1,760.6 1133.0,768.0 1140.2,770.1 1146.1,775.1 1153.6,776.5 1160.4,779.7 1167.0,783.0 1172.2,790.1 1179.4,795.3 1185.0,802.0 1189.2,808.1 1193.8,813.9 1198.0,820.0 1206.0,820.3 1213.5,823.2 1221.1,825.4 1229.0,826.0" fill="none" stroke="#000" stroke-width="3.8" stroke-linejoin="round" stroke-linecap="round"/>
<polyline points="1084.0,516.0 1091.9,510.4 1100.0,505.0 1108.1,500.6 1116.0,496.0 1124.4,494.5 1132.0,490.6 1140.0,488.0 1145.8,483.5 1151.7,479.2 1156.7,473.8 1163.0,470.0 1175.0,464.0" fill="none" stroke="#000" stroke-width="3.8" stroke-linejoin="round" stroke-linecap="round"/>
<polyline points="1244.0,465.0 1246.3,472.0 1248.1,479.1 1250.3,486.1 1253.0,493.0 1259.8,495.1 1266.3,497.8 1272.0,502.0 1275.3,509.2 1278.6,516.4 1281.0,524.0 1286.9,530.6 1294.0,536.0 1298.6,542.7 1303.8,548.8 1309.0,555.0 1313.9,560.5 1318.7,566.1 1324.7,570.5 1329.1,576.5 1334.0,582.0 1337.9,590.0 1338.9,599.1 1343.0,607.0 1350.5,606.8 1357.5,609.9 1365.0,610.0 1370.1,617.8 1372.5,626.9 1377.0,635.0 1379.9,642.0 1382.3,649.2 1383.6,656.8 1388.3,663.2 1390.7,670.4 1392.0,678.0 1391.5,685.3 1393.3,692.3 1395.1,699.4 1393.3,706.8 1394.1,713.9 1396.0,721.0" fill="none" stroke="#000" stroke-width="3.8" stroke-linejoin="round" stroke-linecap="round"/>
<polyline points="767.0,1347.0 773.0,1353.0 775.9,1363.2 783.1,1367.1 789.4,1372.5 796.5,1376.5 803.7,1379.9 810.8,1383.3 818.9,1384.5 825.9,1388.2 835.6,1389.7 845.0,1392.6 852.5,1391.8 860.0,1392.2 867.5,1393.9 875.0,1393.4 882.7,1394.5 889.7,1397.7 897.3,1398.9 904.5,1401.8 913.2,1406.6 921.3,1412.4" fill="none" stroke="#000" stroke-width="3.8" stroke-linejoin="round" stroke-linecap="round"/>
<polyline points="660.0,1170.3 667.4,1169.4 674.8,1171.2 682.1,1171.2 689.5,1172.2 696.9,1170.5 704.3,1171.3 701.2,1167.2 708.3,1166.2 715.5,1167.3 722.6,1166.8 729.7,1165.5 736.8,1166.3 743.9,1165.2 751.1,1166.0 758.1,1163.9 765.2,1163.9 772.4,1165.5 779.5,1164.1" fill="none" stroke="#000" stroke-width="3.8" stroke-linejoin="round" stroke-linecap="round"/>
<polyline points="772.0,1159.5 779.5,1160.0 781.1,1167.0 786.4,1172.4 787.4,1179.6 790.8,1185.8 791.2,1193.1 788.2,1200.1 790.3,1207.5 787.3,1214.5 787.8,1221.8 786.1,1228.9 784.3,1236.1 782.7,1243.2 783.6,1250.8 781.6,1257.9 780.9,1265.3 778.7,1272.5 778.6,1280.1 777.5,1287.4 776.4,1294.8 773.5,1301.9 773.3,1309.4 768.2,1318.7 765.4,1325.6 763.8,1332.9 763.6,1340.5 761.0,1347.5" fill="none" stroke="#000" stroke-width="3.8" stroke-linejoin="round" stroke-linecap="round"/>
<polyline points="738.3,1193.0 746.9,1192.3 755.4,1192.3 764.0,1192.0 764.0,1186.8 773.8,1188.6 783.6,1190.9 796.0,1195.0 802.3,1200.0 808.4,1205.3 814.4,1210.3 820.0,1215.6" fill="none" stroke="#000" stroke-width="3.8" stroke-linejoin="round" stroke-linecap="round"/>
<polyline points="855.3,1241.0 861.6,1246.0 867.5,1251.6 874.4,1255.9 882.7,1255.7 890.6,1253.0 890.2,1260.4 887.9,1267.6 887.1,1274.9 886.2,1282.3 886.8,1289.8 884.7,1297.0 882.7,1304.9 878.6,1311.9 874.5,1318.8 872.6,1326.7 868.8,1333.8 865.6,1341.2 864.2,1348.7 861.0,1355.7 858.8,1362.9 858.2,1370.6 854.9,1379.5 851.0,1388.2" fill="none" stroke="#000" stroke-width="3.8" stroke-linejoin="round" stroke-linecap="round"/>
<polyline points="421.0,1431.3 426.9,1427.0 433.8,1424.7 439.9,1420.8 446.0,1424.6 452.0,1428.5 457.3,1433.3 463.0,1437.6 469.3,1432.9 475.6,1428.3 481.9,1423.6 487.8,1418.5 494.5,1414.5 502.9,1414.5 509.2,1420.8 517.7,1421.1 526.1,1422.9 536.6,1427.1 542.9,1429.2 551.2,1431.1 559.7,1431.5 568.1,1433.4 574.4,1439.7 573.9,1447.0 574.4,1454.4 580.7,1458.6 589.9,1462.5 599.6,1464.9 605.9,1467.0 614.3,1464.9 622.9,1463.8 631.1,1460.7 638.7,1458.3 644.8,1453.0 652.1,1450.2 658.8,1446.0 666.4,1443.8 673.1,1439.7 685.7,1437.6 690.1,1428.2 694.1,1418.7 698.7,1409.8 704.6,1401.8 710.7,1397.0 716.9,1392.1 722.6,1386.8 727.7,1380.8 732.4,1375.0 737.8,1369.9 742.5,1364.1 748.7,1359.8 756.0,1354.5 761.3,1347.2 761.5,1339.7 763.8,1332.4 764.3,1324.8 765.3,1317.4 766.1,1309.9 767.9,1302.5 768.2,1295.0 768.3,1287.4 769.7,1280.0" fill="none" stroke="#000" stroke-width="3.8" stroke-linejoin="round" stroke-linecap="round"/>
<polyline points="761.3,1347.2 767.4,1350.8 773.9,1353.5 780.3,1364.0 786.5,1368.2 793.4,1371.1 800.0,1374.5" fill="none" stroke="#000" stroke-width="3.8" stroke-linejoin="round" stroke-linecap="round"/>
<polyline points="534.5,1406.1 547.1,1403.9 554.6,1403.5 561.9,1401.3 569.3,1400.0 576.5,1397.6 578.6,1389.2 576.4,1382.4 572.3,1376.6 575.9,1370.0 580.7,1364.0 587.2,1360.9 593.8,1358.0 599.6,1353.5 604.7,1344.5 608.0,1334.6 604.0,1327.2 599.6,1319.9 596.6,1312.8 595.4,1305.2 587.9,1299.1 580.7,1292.6 575.3,1285.3 568.1,1280.0" fill="none" stroke="#000" stroke-width="3.8" stroke-linejoin="round" stroke-linecap="round"/>
<polyline points="534.5,1406.1 538.7,1414.5 540.8,1427.1 542.9,1429.2" fill="none" stroke="#000" stroke-width="3.8" stroke-linejoin="round" stroke-linecap="round"/>
<polyline points="685.7,1437.6 689.9,1446.0 687.8,1454.4 689.8,1462.2 694.1,1469.1 703.1,1473.5 710.9,1479.6 715.1,1490.1 724.2,1494.2 731.9,1500.6 734.0,1511.1 730.6,1519.2 729.8,1527.9 729.7,1535.4 727.7,1542.6 734.0,1553.1 738.2,1561.1 740.3,1569.9 742.0,1577.4 744.5,1584.6 743.6,1591.7 740.7,1598.4 740.3,1605.6 736.1,1616.1" fill="none" stroke="#000" stroke-width="3.8" stroke-linejoin="round" stroke-linecap="round"/>
<polyline points="681.5,1603.5 689.1,1606.2 696.9,1607.8 704.7,1609.1 712.9,1608.4 720.5,1611.3 728.4,1612.3 736.1,1614.0 743.1,1617.6 750.6,1620.1 757.1,1624.5 763.8,1626.9 769.8,1630.7 776.4,1633.3 782.4,1637.1 786.7,1644.1 791.9,1650.5 795.0,1658.2 800.0,1664.5" fill="none" stroke="#000" stroke-width="3.8" stroke-linejoin="round" stroke-linecap="round"/>
<polyline points="572.3,1488.0 582.8,1479.6 592.4,1477.0 601.7,1473.3 614.3,1470.1" fill="none" stroke="#000" stroke-width="3.8" stroke-linejoin="round" stroke-linecap="round"/>
<polyline points="572.3,1488.0 574.4,1490.1 579.9,1495.1 584.9,1500.6 583.7,1509.0 584.9,1517.4 582.8,1527.9 585.0,1536.6 589.1,1544.7 593.3,1557.3 599.6,1559.4 604.2,1552.6 610.1,1546.8 615.9,1550.9 622.7,1553.1 628.7,1559.7 635.3,1565.7 647.9,1569.9 658.4,1578.3 662.6,1586.7 669.6,1589.9 675.2,1595.1 681.5,1603.5" fill="none" stroke="#000" stroke-width="3.8" stroke-linejoin="round" stroke-linecap="round"/>
<polyline points="425.2,1626.6 430.0,1620.7 432.9,1613.6 437.8,1607.7 443.5,1600.8 450.4,1595.1 460.9,1590.9 463.8,1597.4 467.2,1603.5 471.5,1609.3 473.5,1616.1 480.4,1622.0 488.2,1626.6 496.5,1628.4 505.0,1628.7 512.2,1628.2 519.0,1630.7 526.1,1630.8 533.1,1629.4 540.1,1628.4 547.1,1626.6 554.2,1627.2 561.2,1626.6 568.1,1624.5 578.6,1618.2 584.9,1622.4 592.4,1628.5 599.6,1635.0 610.1,1632.9 617.5,1630.3 624.4,1626.7 631.1,1622.4 638.8,1619.4 644.4,1612.9 652.1,1609.8 659.7,1609.5 666.6,1605.9 673.9,1604.1 681.5,1603.5" fill="none" stroke="#000" stroke-width="3.8" stroke-linejoin="round" stroke-linecap="round"/>
<polyline points="407.6,1020.2 411.0,1027.2 414.5,1034.0 418.7,1040.4 422.4,1047.8 427.0,1054.2 433.4,1058.8 438.9,1066.2 440.7,1073.5 446.2,1082.7 451.6,1089.6 455.4,1097.4 459.1,1106.6 466.5,1110.3 473.8,1117.6" fill="none" stroke="#000" stroke-width="3.8" stroke-linejoin="round" stroke-linecap="round"/>
<polyline points="473.8,1117.6 476.5,1109.8 481.2,1102.9 484.9,1101.1 490.4,1099.3 495.2,1093.9 501.4,1090.1 510.6,1090.1 517.9,1090.3 525.3,1090.1 530.8,1095.6 536.1,1101.5 540.0,1108.5 547.4,1114.0 556.6,1113.4 565.7,1114.9 576.8,1117.6 584.2,1121.2 591.5,1125.0 595.1,1128.7" fill="none" stroke="#000" stroke-width="3.8" stroke-linejoin="round" stroke-linecap="round"/>
<polyline points="473.8,1117.6 472.0,1128.7 472.8,1137.9 473.8,1147.1 475.7,1152.6 483.2,1156.8 490.4,1161.8 494.0,1167.3 488.5,1174.6 492.2,1187.5 497.7,1194.9 500.5,1202.6 505.1,1209.6 512.4,1220.6 514.3,1231.6 516.7,1238.8 517.9,1246.3 514.3,1253.7 514.3,1264.7 517.9,1275.7 529.0,1277.6 537.5,1277.6 546.1,1277.1 554.7,1277.6 562.1,1280.1 569.4,1283.1 574.9,1290.4 584.1,1297.8 588.7,1304.2 595.1,1308.8 600.7,1321.7 602.5,1334.6 605.4,1342.0 606.2,1350.0" fill="none" stroke="#000" stroke-width="3.8" stroke-linejoin="round" stroke-linecap="round"/>
<polyline points="600.7,1321.7 611.7,1319.9 620.9,1320.0 630.1,1319.9 640.0,1321.7" fill="none" stroke="#000" stroke-width="3.8" stroke-linejoin="round" stroke-linecap="round"/>
<polyline points="587.8,1099.3 594.3,1092.7 602.5,1088.2 602.5,1079.0 608.0,1085.8 611.7,1093.8 620.9,1101.1 618.7,1092.0 617.2,1082.7 630.1,1079.0 640.0,1080.9" fill="none" stroke="#000" stroke-width="3.8" stroke-linejoin="round" stroke-linecap="round"/>
<polyline points="593.3,1106.6 591.5,1117.6 595.1,1128.7 589.6,1132.4 598.8,1139.7 606.5,1140.4 613.5,1143.4 620.9,1152.6 626.4,1159.9 640.0,1161.8" fill="none" stroke="#000" stroke-width="3.8" stroke-linejoin="round" stroke-linecap="round"/>
<polyline points="750.2,913.7 750.2,924.6 758.4,934.1 759.8,939.6 751.6,945.1 750.2,954.6 747.5,961.5 743.4,965.5 736.6,964.2 729.7,965.5 720.2,968.3 712.0,972.4 709.2,976.5 702.4,978.3 695.6,980.6 687.4,983.3 695.6,992.9 686.0,998.3 679.2,1002.4 681.9,1010.6 671.0,1006.5 665.5,1009.2 669.6,1017.4 668.3,1022.9 662.8,1028.4 651.9,1029.7 641.0,1031.1 627.3,1029.7 625.9,1036.6 630.4,1042.3 635.5,1047.5 635.5,1052.9 632.8,1057.0" fill="none" stroke="#000" stroke-width="3.8" stroke-linejoin="round" stroke-linecap="round"/>
<polyline points="750.2,973.7 750.2,987.4 757.0,995.6 763.8,999.1 770.7,1002.4 777.4,1006.7 784.4,1010.6 792.1,1015.6 800.7,1018.8" fill="none" stroke="#000" stroke-width="3.8" stroke-linejoin="round" stroke-linecap="round"/>
<polyline points="802.1,913.7 802.1,927.3 811.7,932.8 810.8,940.3 810.3,947.8 800.7,954.6 798.0,961.5 795.1,968.1 792.8,974.9 791.2,981.9 788.4,992.9 780.3,990.1 777.5,995.6 772.1,1002.4" fill="none" stroke="#000" stroke-width="3.8" stroke-linejoin="round" stroke-linecap="round"/>
<polyline points="856.7,910.9 855.8,919.2 854.0,927.3 850.9,935.2 849.1,943.4 848.5,951.9 843.1,962.8 834.9,972.4 829.4,979.2 824.0,987.4 819.9,998.3 814.4,1009.2 811.7,1022.9 809.1,1031.8 808.1,1041.0 807.6,1050.2 805.2,1059.2 806.2,1068.6 803.5,1077.5 801.8,1086.6 801.4,1095.8 799.4,1104.8 795.2,1111.4 792.3,1118.6 788.4,1125.3 784.7,1132.1 781.1,1138.9 777.5,1145.8 774.6,1152.5 772.1,1159.5" fill="none" stroke="#000" stroke-width="3.8" stroke-linejoin="round" stroke-linecap="round"/>
<polyline points="832.1,976.5 840.3,981.9 848.5,987.4 860.0,990.1" fill="none" stroke="#000" stroke-width="3.8" stroke-linejoin="round" stroke-linecap="round"/>
<polyline points="795.3,1020.2 792.5,1027.0 788.4,1031.1 783.0,1027.0 777.5,1031.1 778.9,1042.0 773.4,1044.7 777.5,1052.9 787.1,1059.8 785.7,1068.0 791.2,1072.1 802.1,1073.4 810.2,1075.2 818.5,1076.2 826.7,1077.3 834.9,1078.9 842.3,1080.9 849.9,1081.6 854.0,1088.4 845.8,1098.0 840.3,1107.6 848.5,1113.0 860.0,1118.5" fill="none" stroke="#000" stroke-width="3.8" stroke-linejoin="round" stroke-linecap="round"/>
<polyline points="624.6,1036.6 634.1,1044.7 641.0,1052.9 649.2,1052.9 654.6,1050.2 665.5,1047.5 672.4,1044.7 676.5,1033.8 681.9,1033.8 687.4,1036.6 695.6,1039.3 702.4,1042.0 709.2,1044.7 720.2,1047.5 726.2,1051.6 731.1,1057.0 736.8,1062.3 742.0,1068.0 751.6,1077.5 758.4,1088.4 763.9,1092.5 774.8,1096.6 784.4,1096.6 792.5,1092.5" fill="none" stroke="#000" stroke-width="3.8" stroke-linejoin="round" stroke-linecap="round"/>
<polyline points="653.3,1055.7 651.9,1063.9 657.4,1072.1 660.1,1077.5 665.5,1076.2 671.0,1073.4 676.5,1063.9 681.9,1061.1 687.4,1052.9 695.6,1050.2 706.5,1054.3" fill="none" stroke="#000" stroke-width="3.8" stroke-linejoin="round" stroke-linecap="round"/>
<polyline points="681.9,1063.9 684.7,1074.8 687.4,1084.4 698.3,1083.0 701.1,1093.9 695.6,1096.6 684.7,1099.4 676.5,1100.7 665.5,1102.1 657.4,1108.9 650.5,1115.8 642.3,1118.5 638.2,1121.2" fill="none" stroke="#000" stroke-width="3.8" stroke-linejoin="round" stroke-linecap="round"/>
<polyline points="600.0,1078.9 608.1,1081.3 616.4,1083.0 624.6,1077.5 634.1,1077.5 643.7,1084.4 650.5,1091.2 651.9,1099.4" fill="none" stroke="#000" stroke-width="3.8" stroke-linejoin="round" stroke-linecap="round"/>
<polyline points="638.2,1121.2 643.7,1124.0 648.9,1130.1 651.9,1137.6 651.9,1145.8 647.8,1151.3 645.1,1160.0" fill="none" stroke="#000" stroke-width="3.8" stroke-linejoin="round" stroke-linecap="round"/>
<polyline points="600.0,1152.6 608.2,1156.7 617.8,1158.1 627.3,1160.0" fill="none" stroke="#000" stroke-width="3.8" stroke-linejoin="round" stroke-linecap="round"/>
<polyline points="720.2,1052.9 719.4,1060.7 717.5,1068.2 717.2,1076.1 715.2,1083.6 713.3,1091.2 713.2,1100.5 712.0,1109.6 709.2,1118.5 707.9,1132.1" fill="none" stroke="#000" stroke-width="3.8" stroke-linejoin="round" stroke-linecap="round"/>
<polyline points="706.5,1113.0 714.7,1113.0 713.6,1121.2 714.7,1129.4 705.1,1129.7 695.6,1129.4 695.3,1137.6 695.6,1145.8 693.2,1152.7 692.9,1160.0" fill="none" stroke="#000" stroke-width="3.8" stroke-linejoin="round" stroke-linecap="round"/>
<polyline points="928.4,960.0 929.7,973.7 927.0,987.3 929.7,1001.0 924.3,1009.2 920.2,1017.4 917.4,1022.8 925.6,1026.9 929.7,1035.1 932.5,1039.2 925.6,1047.4 933.8,1055.6 936.6,1063.8 943.4,1070.6 933.8,1069.2 920.2,1072.0 919.9,1080.2 918.8,1088.4 906.5,1088.4 895.6,1085.6 887.4,1087.0 876.5,1084.3 869.0,1087.9 861.5,1091.1 857.4,1087.0 851.9,1082.9 841.0,1080.2 827.3,1077.4 818.2,1076.2 809.0,1075.1 800.0,1073.3" fill="none" stroke="#000" stroke-width="3.8" stroke-linejoin="round" stroke-linecap="round"/>
<polyline points="856.0,1087.0 847.8,1097.9 841.0,1107.5 849.2,1112.9 855.2,1117.2 861.5,1121.1 864.2,1132.1 857.4,1141.6 847.8,1151.2 841.3,1154.9 834.1,1156.6 830.0,1162.1 835.5,1167.6 835.5,1173.0 827.3,1181.2 819.1,1184.0 821.8,1192.1 824.6,1200.3 821.8,1209.9 824.6,1216.7 827.3,1220.0" fill="none" stroke="#000" stroke-width="3.8" stroke-linejoin="round" stroke-linecap="round"/>
<polyline points="860.1,1144.4 865.5,1149.8 873.7,1152.5 881.9,1153.9 887.4,1156.6 894.2,1164.8 898.3,1173.0 906.5,1181.2 916.1,1189.4 923.4,1191.0 929.7,1194.9 936.6,1196.7 943.4,1199.0 957.0,1199.0 963.9,1200.3" fill="none" stroke="#000" stroke-width="3.8" stroke-linejoin="round" stroke-linecap="round"/>
<polyline points="906.5,1088.4 909.2,1099.3 917.4,1103.4 925.6,1103.4 922.9,1107.5 917.4,1110.2 920.2,1117.0 922.9,1123.9 925.6,1130.7 920.2,1137.5 912.0,1140.3 914.7,1148.4 913.3,1156.6 922.9,1164.8 929.7,1170.3 936.3,1167.0 943.4,1164.8 952.9,1163.5 958.4,1174.4 969.3,1181.2 969.3,1189.4 959.8,1194.9 963.9,1200.3" fill="none" stroke="#000" stroke-width="3.8" stroke-linejoin="round" stroke-linecap="round"/>
<polyline points="958.4,1194.9 955.7,1205.8 950.2,1207.2 936.6,1205.8 928.3,1205.8 920.2,1204.4 913.3,1205.8 909.2,1211.3 903.8,1214.0 895.6,1212.6 887.4,1211.3 881.9,1203.1 876.5,1204.4 873.7,1209.9 865.5,1209.9 859.0,1212.9 851.9,1214.0 846.4,1220.0" fill="none" stroke="#000" stroke-width="3.8" stroke-linejoin="round" stroke-linecap="round"/>
<polyline points="871.0,998.2 869.2,1005.4 871.3,1012.9 869.0,1020.0 869.2,1027.4 867.5,1034.6 868.3,1041.9 867.2,1051.1 864.4,1060.0 864.2,1069.2 863.3,1076.3 859.2,1082.5 858.7,1089.7" fill="none" stroke="#000" stroke-width="3.8" stroke-linejoin="round" stroke-linecap="round"/>
<polyline points="871.0,1001.0 884.7,1003.7 895.6,1001.0 904.7,1000.8 913.9,1001.1 922.9,999.6 925.6,1002.3" fill="none" stroke="#000" stroke-width="3.8" stroke-linejoin="round" stroke-linecap="round"/>
<polyline points="845.1,960.0 838.7,966.1 834.1,973.7 831.6,980.9 827.3,987.3 823.8,994.1 820.5,1001.0 815.0,1007.8 813.0,1018.0 810.9,1028.3 807.8,1037.1 807.6,1046.6 805.5,1055.6 803.8,1063.4 801.6,1071.0 800.0,1078.8" fill="none" stroke="#000" stroke-width="3.8" stroke-linejoin="round" stroke-linecap="round"/>
<polyline points="832.8,980.5 843.7,987.3 857.4,990.0 868.3,998.2 871.0,1001.0" fill="none" stroke="#000" stroke-width="3.8" stroke-linejoin="round" stroke-linecap="round"/>
<polyline points="857.4,990.0 868.3,987.3 875.6,985.8 881.9,981.8 884.7,968.2 876.5,960.0" fill="none" stroke="#000" stroke-width="3.8" stroke-linejoin="round" stroke-linecap="round"/>
<polyline points="950.2,960.0 951.6,973.7 958.7,979.6 963.9,987.3 969.3,992.8 980.3,991.4 983.0,983.2 985.5,975.5 986.2,967.4 989.8,960.0" fill="none" stroke="#000" stroke-width="3.8" stroke-linejoin="round" stroke-linecap="round"/>
<polyline points="969.3,960.0 972.5,966.9 976.2,973.7 978.3,981.7 978.9,990.0" fill="none" stroke="#000" stroke-width="3.8" stroke-linejoin="round" stroke-linecap="round"/>
<polyline points="1541.8,446.8 1549.5,451.0 1555.8,457.6 1563.8,461.5 1570.8,465.1 1579.0,465.1 1585.9,468.8 1593.2,479.9" fill="none" stroke="#000" stroke-width="3.8" stroke-linejoin="round" stroke-linecap="round"/>
<polyline points="1519.7,509.3 1523.9,516.4 1527.1,524.0" fill="none" stroke="#000" stroke-width="3.8" stroke-linejoin="round" stroke-linecap="round"/>
<polyline points="1530.7,542.4 1536.3,549.7 1541.8,557.1 1547.2,562.7 1552.8,568.1" fill="none" stroke="#000" stroke-width="3.8" stroke-linejoin="round" stroke-linecap="round"/>
<polyline points="921.0,1411.1 926.7,1401.5 934.1,1397.8 940.0,1392.0 943.9,1382.5 943.9,1371.1 947.7,1357.7 955.3,1350.1 953.4,1340.6 957.1,1333.7 963.4,1328.6 966.7,1321.5 975.2,1319.8 983.9,1319.6 993.4,1322.4 1002.9,1325.3 1009.6,1328.3 1017.0,1328.7 1023.9,1331.0 1031.5,1338.7 1043.0,1342.5 1050.6,1342.5 1058.2,1342.5 1062.0,1336.8 1069.6,1334.8 1079.3,1334.9 1088.7,1336.8 1095.5,1339.3 1102.4,1340.6 1109.7,1340.6" fill="none" stroke="#000" stroke-width="3.8" stroke-linejoin="round" stroke-linecap="round"/>
<polyline points="860.0,1393.9 869.5,1392.8 879.1,1392.0 888.7,1393.4 898.1,1395.8 905.2,1400.7 913.4,1403.5 921.0,1411.1" fill="none" stroke="#000" stroke-width="3.8" stroke-linejoin="round" stroke-linecap="round"/>
<polyline points="580.0,1122.5 589.9,1132.4 594.8,1139.8 604.7,1144.7 617.1,1144.7 622.0,1152.1 627.0,1159.6 634.4,1157.1 641.8,1158.3 649.2,1159.6 659.1,1167.0 661.6,1171.9 668.6,1172.3 675.6,1171.7 682.6,1173.1 689.6,1170.6 696.6,1173.3 703.6,1171.9" fill="none" stroke="#000" stroke-width="3.8" stroke-linejoin="round" stroke-linecap="round"/>
<polyline points="659.1,1167.0 654.2,1176.9 646.8,1184.3 649.2,1194.2 646.8,1204.1 656.7,1209.0 666.6,1204.1 669.0,1214.0 665.5,1220.3 661.6,1226.3 664.1,1233.8 661.6,1238.7 674.0,1241.2 682.9,1244.3 691.3,1248.6 683.9,1256.0 687.6,1263.4 680.2,1267.6 674.0,1273.3 681.4,1278.3 681.4,1285.7 674.0,1285.8 666.6,1285.7 672.7,1289.5 678.9,1293.1 691.3,1299.3 693.8,1305.5 701.2,1305.5 711.1,1305.5 721.0,1312.9 728.4,1317.8 732.1,1327.7 740.0,1322.8" fill="none" stroke="#000" stroke-width="3.8" stroke-linejoin="round" stroke-linecap="round"/>
<polyline points="649.2,1120.0 651.7,1126.2 646.8,1134.8 649.2,1144.7 649.2,1157.1" fill="none" stroke="#000" stroke-width="3.8" stroke-linejoin="round" stroke-linecap="round"/>
<polyline points="714.8,1120.0 714.8,1127.4 704.8,1128.0 695.0,1126.2 693.8,1134.8 692.8,1143.4 693.8,1152.1 685.1,1151.1 676.4,1149.7 676.4,1157.1 666.7,1154.6 656.7,1154.6 649.2,1157.1" fill="none" stroke="#000" stroke-width="3.8" stroke-linejoin="round" stroke-linecap="round"/>
<polyline points="737.0,1194.2 733.3,1201.6 731.6,1208.9 729.9,1216.3 729.3,1223.8 727.8,1231.1 728.9,1238.9 726.5,1246.1 725.8,1253.6 725.2,1261.1 723.4,1268.4 711.1,1268.4 710.7,1277.1 712.3,1285.7 707.4,1293.1 703.6,1298.1 701.2,1305.5" fill="none" stroke="#000" stroke-width="3.8" stroke-linejoin="round" stroke-linecap="round"/>
<polyline points="580.0,1295.6 589.9,1300.5 596.1,1309.2 601.0,1320.3 604.7,1330.2 607.2,1335.1 602.3,1347.5 594.8,1354.9 587.4,1360.0" fill="none" stroke="#000" stroke-width="3.8" stroke-linejoin="round" stroke-linecap="round"/>
<polyline points="601.0,1317.8 609.1,1318.4 617.1,1316.6 624.6,1316.6 631.9,1317.8 644.3,1315.4 656.7,1310.4 665.3,1310.3 674.0,1310.4 683.0,1313.2 691.3,1317.8 698.7,1317.8" fill="none" stroke="#000" stroke-width="3.8" stroke-linejoin="round" stroke-linecap="round"/>
<polyline points="644.3,1317.8 646.8,1330.2 641.8,1332.7 646.0,1338.6 649.2,1345.0 656.9,1339.1 664.1,1332.7 671.5,1330.2 674.0,1327.7" fill="none" stroke="#000" stroke-width="3.8" stroke-linejoin="round" stroke-linecap="round"/>
<polyline points="622.0,1176.9 635.6,1174.4 642.8,1174.0 649.6,1176.3 656.7,1176.9" fill="none" stroke="#000" stroke-width="3.8" stroke-linejoin="round" stroke-linecap="round"/>
<polyline points="828.6,1218.2 826.0,1228.2 822.1,1237.7 829.5,1244.2 836.8,1250.8 846.6,1249.3 856.3,1247.5 864.5,1249.0 872.6,1251.0 880.7,1252.3 888.9,1254.0" fill="none" stroke="#000" stroke-width="3.8" stroke-linejoin="round" stroke-linecap="round"/>
<polygon points="289.7,722.0 292.6,713.4 297.0,705.4 300.5,697.0 307.5,694.4 314.8,692.8 322.0,690.6 329.0,688.0 336.5,688.6 343.8,690.2 350.5,694.2 358.0,695.0 365.3,695.2 372.6,696.1 379.6,699.1 387.0,698.6 394.1,700.5 401.5,700.5 408.7,699.3 416.0,698.7 423.0,696.2 430.4,696.5 437.6,695.0 445.1,693.7 452.1,690.6 459.5,688.9 466.5,686.0 469.8,679.0 471.2,671.1 475.9,664.7 478.3,657.3 481.0,650.0 485.3,642.9 489.4,635.7 496.1,630.3 500.0,623.0 502.8,615.1 506.4,607.5 509.7,599.7 511.6,591.5 520.1,594.8 528.9,597.0 533.9,602.5 540.6,606.0 545.7,611.5 552.1,615.3 557.8,620.0 562.8,626.1 568.7,631.2 575.9,634.8 581.6,640.0 586.7,646.0 595.6,648.3 604.0,652.0 611.3,655.3 619.4,655.8 627.0,658.0 630.3,650.9 632.3,643.3 635.8,636.3 638.7,629.0 641.2,620.9 644.0,612.9 647.4,605.1 650.0,597.0 647.0,586.0 652.3,579.6 658.1,573.7 662.8,566.8 667.5,560.0 676.7,557.4 685.0,552.5 693.8,551.2 702.0,548.0 708.0,536.7 713.7,530.5 717.6,523.1 721.0,515.4 727.2,509.5 731.0,502.0 734.0,490.4 745.5,487.6 751.0,493.0 752.8,501.0 757.0,508.0 765.3,510.5 774.0,510.7 779.7,515.6 785.3,520.8 792.0,524.5 796.7,530.6 803.0,534.9 809.0,539.5 811.6,546.4 814.3,553.2 814.3,560.9 816.0,568.0 820.5,574.3 820.6,581.9 823.5,588.7 828.3,595.4 833.6,601.9 837.8,609.0 841.4,616.6 846.6,623.0 849.1,630.0 854.5,635.4 856.5,642.6 861.3,648.4 863.0,655.8 866.9,662.0 875.5,663.8 882.4,658.3 890.4,654.5 897.7,649.7 904.0,643.5 916.0,639.0 926.0,638.4 936.0,637.8 944.1,636.7 951.2,632.4 959.0,630.5 961.6,623.1 966.6,616.9 968.9,609.3 973.7,603.0 974.3,592.9 976.6,583.0 983.2,579.8 990.2,577.3 996.8,574.0 998.8,565.2 1002.6,557.0 1010.7,551.4 1020.0,548.0 1027.6,546.0 1034.3,541.5 1042.2,540.2 1049.0,536.0 1056.9,533.0 1063.5,527.7 1071.0,524.0 1083.0,517.0 1083.2,508.8 1083.7,500.6 1084.3,492.4 1084.2,484.2 1093.4,483.8 1102.6,483.1 1111.8,482.3 1119.6,484.6 1127.5,486.2 1139.3,480.3 1145.9,477.4 1151.2,472.4 1157.0,468.3 1163.0,464.5 1174.8,463.7 1183.0,466.5 1191.8,467.5 1200.0,470.4 1207.1,468.0 1214.8,468.0 1221.8,464.9 1229.0,463.0 1238.0,463.1 1247.0,463.0 1255.2,460.6 1263.6,460.8 1272.0,460.0 1280.4,459.2 1288.5,456.7 1297.0,457.0 1304.1,455.7 1311.1,454.2 1317.7,451.1 1325.1,451.1 1332.0,449.1 1339.1,448.1 1346.0,446.0 1354.0,446.0 1362.0,447.4 1370.0,447.9 1378.1,446.3 1386.0,448.0 1394.2,446.1 1402.7,447.2 1411.0,446.0 1419.5,446.3 1427.6,443.3 1436.0,443.0 1445.0,434.0 1450.9,426.4 1457.0,419.0 1454.2,410.4 1451.0,402.0 1459.1,398.2 1467.5,395.0 1476.0,392.0 1482.8,389.2 1489.9,387.0 1497.0,385.0 1505.6,380.2 1514.0,375.0 1520.1,367.1 1527.0,360.0 1527.7,350.5 1529.0,341.0 1532.9,334.6 1534.3,326.9 1538.9,320.8 1542.0,314.0 1543.7,306.6 1544.0,299.0 1548.6,291.2 1554.0,284.0 1561.1,279.3 1569.0,276.0 1575.8,271.9 1581.1,265.9 1587.2,261.1 1594.0,257.0 1600.4,251.9 1607.0,247.0 1614.2,245.2 1620.6,241.3 1628.0,240.0 1636.2,238.0 1644.4,236.5 1652.9,236.4 1661.0,234.0 1665.6,228.6 1671.2,224.2 1674.6,217.6 1680.0,213.0 1685.4,207.7 1691.6,203.3 1697.0,198.0 1706.1,202.5 1716.0,205.0 1723.0,206.9 1730.2,208.3 1737.0,211.0 1744.4,212.7 1751.0,216.4 1758.0,219.0 1765.6,217.8 1773.4,219.2 1781.0,218.9 1788.6,216.8 1796.3,216.7 1804.0,217.0 1809.0,224.5 1815.0,231.3 1821.0,238.0 1823.2,245.1 1827.4,251.4 1830.9,258.0 1833.5,265.0 1836.0,272.0 1845.5,272.8 1855.0,272.0 1862.2,270.9 1869.5,270.6 1876.7,270.3 1884.0,270.0 1883.8,263.0 1883.7,256.0 1885.2,249.0 1884.0,242.0 1886.4,234.4 1889.2,226.9 1894.9,220.8 1897.0,213.0 1904.1,214.6 1911.2,215.5 1918.4,214.5 1925.5,216.5 1932.6,217.0 1939.9,215.7 1947.0,217.0 1952.1,224.4 1957.6,231.6 1964.0,238.0 1972.2,241.4 1980.6,244.1 1989.0,247.0 1996.8,249.2 2004.4,252.2 2012.1,254.7 2019.8,257.1 2027.0,261.0 2031.8,268.8 2037.5,276.0 2042.0,284.0 2039.9,292.4 2040.8,301.2 2037.1,309.3 2037.0,318.0 2029.0,320.7 2021.0,323.4 2013.3,326.7 2006.0,331.0 2003.6,339.2 2003.1,347.6 2002.0,356.0 1995.4,363.1 1987.0,368.0 1985.8,376.5 1986.9,385.1 1986.1,393.5 1985.0,402.0 1979.0,407.3 1973.6,413.3 1968.0,419.0 1969.0,426.6 1968.4,434.3 1970.1,441.8 1971.6,449.4 1972.0,457.0 1966.5,463.5 1960.0,469.0 1952.6,470.9 1946.0,474.7 1938.7,476.8 1932.2,480.7 1925.3,484.0 1918.0,486.0 1910.4,488.5 1902.5,490.4 1895.5,494.7 1887.3,495.6 1880.0,499.0 1871.9,502.2 1864.6,506.8 1857.1,511.0 1850.0,516.0 1848.8,523.2 1844.7,529.4 1841.5,535.9 1840.0,543.0 1836.2,549.1 1831.0,553.9 1826.2,559.2 1820.9,563.9 1816.4,569.4 1811.6,574.6 1806.2,579.2 1802.0,585.0 1793.8,585.2 1785.8,583.8 1777.8,582.4 1769.8,581.2 1762.0,579.0 1758.0,587.6 1752.0,595.0 1743.7,598.2 1736.2,602.8 1729.0,608.0 1734.0,614.4 1737.0,622.0 1741.0,629.0 1734.1,630.8 1727.1,632.2 1720.0,633.0 1713.2,637.7 1705.8,641.3 1699.0,646.0 1693.1,641.3 1687.0,637.0 1681.1,633.1 1675.2,629.4 1669.7,624.9 1663.7,621.2 1658.8,616.0 1653.0,612.0 1644.8,607.5 1636.0,604.0 1627.5,604.3 1619.0,605.2 1610.5,604.9 1602.0,604.0 1596.5,608.4 1590.3,612.0 1584.3,615.7 1579.2,620.8 1572.8,623.9 1567.3,628.5 1561.9,633.0 1556.0,637.0 1549.9,642.3 1543.3,647.0 1536.6,651.6 1530.8,657.2 1524.0,661.6 1518.0,667.0 1512.1,672.7 1506.5,678.9 1500.0,684.0 1492.0,688.2 1483.7,692.2 1476.0,697.0 1468.6,700.4 1460.6,701.7 1452.8,703.9 1445.0,706.0 1437.0,707.5 1429.3,709.8 1422.1,713.8 1414.0,714.9 1406.4,717.7 1399.0,721.0 1386.0,718.0 1392.0,723.0 1397.1,728.9 1403.2,733.8 1408.0,740.0 1404.2,748.7 1402.0,758.0 1395.3,764.0 1388.6,769.9 1383.0,777.0 1375.2,776.2 1367.5,776.5 1359.8,776.3 1352.0,777.0 1350.3,786.5 1349.0,796.0 1355.0,808.0 1352.0,815.9 1346.8,822.5 1343.0,830.0 1336.0,834.3 1328.0,836.0 1330.5,842.8 1330.2,850.2 1333.7,856.7 1334.0,864.0 1332.6,871.1 1330.1,877.9 1325.5,883.9 1324.0,891.0 1314.9,890.9 1305.9,890.3 1297.0,888.0 1290.0,876.0 1283.3,873.1 1275.7,873.0 1269.0,870.0 1264.9,863.7 1259.7,858.3 1255.1,852.2 1250.5,846.3 1244.9,841.3 1240.5,835.2 1235.0,830.0 1229.0,826.0 1227.9,833.7 1223.6,840.4 1222.0,848.0 1216.0,852.7 1209.6,857.0 1204.7,863.1 1198.0,867.0 1188.4,867.8 1179.0,870.0 1170.9,872.1 1164.3,877.6 1156.4,880.2 1148.5,882.8 1141.0,886.2 1134.5,882.7 1127.1,881.6 1120.6,878.3 1115.9,886.2 1116.8,894.1 1115.9,902.0 1110.9,909.4 1104.8,916.0 1096.7,920.5 1089.0,925.6 1089.0,933.4 1095.4,941.3 1092.2,947.6 1101.7,952.4 1100.0,961.8 1091.1,965.1 1082.8,969.7 1080.1,962.7 1078.0,955.5 1070.7,957.4 1063.4,958.9 1056.0,960.2 1057.6,966.5 1062.3,976.0 1056.0,987.0 1062.3,993.3 1067.0,1006.0 1072.1,1012.8 1076.5,1020.0 1079.0,1027.1 1081.0,1034.4 1077.9,1042.2 1072.8,1048.8 1068.7,1056.0 1075.5,1063.3 1084.0,1068.5 1087.4,1076.2 1090.3,1084.0 1094.4,1091.3 1100.4,1097.4 1103.8,1105.1 1108.9,1111.8 1115.6,1115.5 1122.6,1118.3 1129.7,1121.0 1136.7,1124.0 1142.9,1130.2 1149.0,1136.5 1149.6,1144.7 1149.9,1153.0 1152.0,1161.0 1149.9,1169.2 1146.0,1176.7 1139.4,1182.7 1131.1,1186.3 1124.3,1192.0 1116.9,1191.8 1109.9,1194.0 1102.7,1195.0 1095.0,1199.9 1087.2,1204.5 1087.6,1212.7 1090.1,1220.7 1090.3,1229.0 1092.5,1238.3 1093.4,1247.8 1099.2,1252.4 1103.6,1258.3 1108.9,1263.3 1109.9,1270.5 1110.6,1277.7 1110.4,1285.0 1111.0,1292.8 1111.4,1300.7 1114.4,1308.2 1115.0,1316.0 1112.9,1323.5 1112.0,1331.3 1114.2,1339.5 1115.0,1348.0 1118.0,1356.0 1114.8,1363.7 1112.0,1371.5 1117.2,1380.5 1121.2,1390.0 1127.9,1394.0 1134.4,1398.3 1139.8,1404.0 1146.0,1408.7 1147.3,1415.9 1148.9,1423.0 1149.0,1430.3 1147.9,1438.1 1146.0,1445.8 1138.2,1446.3 1130.5,1445.8 1121.3,1444.0 1111.9,1444.7 1102.7,1442.7 1095.7,1445.7 1090.3,1450.9 1084.0,1455.0 1075.7,1457.8 1067.6,1461.3 1059.4,1464.3 1052.3,1464.3 1045.3,1465.4 1038.5,1467.1 1031.5,1468.2 1028.7,1475.9 1025.8,1483.5 1017.6,1481.6 1009.4,1480.0 1001.0,1479.7 996.1,1485.0 990.4,1489.4 985.8,1494.9 983.6,1502.4 983.9,1510.2 977.2,1507.4 970.5,1504.5 962.9,1502.6 959.1,1510.2 956.6,1516.9 953.4,1523.2 949.6,1529.2 942.5,1533.5 936.2,1538.8 928.4,1541.2 921.0,1544.5 912.9,1547.1 905.9,1552.0 905.9,1564.0 905.9,1572.8 908.6,1581.3 908.9,1590.0 907.2,1597.2 903.9,1603.9 893.9,1605.9 892.6,1616.0 889.9,1625.8 883.5,1632.5 875.9,1637.8 867.8,1639.2 859.7,1640.8 852.0,1643.8 840.0,1641.8 832.8,1641.1 825.8,1643.3 818.6,1643.0 811.8,1648.3 806.5,1655.0 800.7,1660.5 794.4,1665.4 788.2,1670.4 783.6,1677.2 781.1,1685.2 776.0,1691.7 773.3,1700.0 770.5,1706.9 765.7,1712.6 760.7,1718.8 757.8,1726.4 753.1,1732.8 752.2,1741.7 750.6,1750.4 750.4,1758.0 750.1,1765.5 752.0,1773.1 751.1,1780.6 750.6,1788.2 755.6,1800.8 760.8,1809.6 765.7,1818.5 768.3,1826.1 771.5,1833.4 773.3,1841.2 780.7,1847.7 788.4,1853.8 788.8,1861.6 792.0,1868.9 793.4,1876.5 793.9,1884.1 795.8,1891.5 796.0,1899.1 796.0,1906.7 798.1,1914.4 802.0,1921.5 803.5,1929.4 803.5,1937.0 793.3,1937.2 783.4,1939.5 776.6,1943.7 772.0,1950.4 764.4,1953.7 759.4,1959.9 753.1,1964.7 747.9,1970.3 743.4,1976.4 739.9,1983.2 734.5,1988.6 730.4,1995.0 722.9,1993.3 715.3,1992.4 707.4,1995.4 700.2,2000.0 695.1,2010.0 694.9,2018.5 692.7,2026.8 692.6,2035.3 685.0,2042.9 678.9,2049.7 674.5,2057.7 669.9,2065.5 666.4,2073.0 664.2,2081.1 659.8,2088.2 652.3,2093.3 644.7,2083.2 637.1,2081.6 629.5,2080.3 622.0,2078.2 619.2,2071.2 615.8,2064.5 612.0,2058.0 607.1,2050.3 601.1,2043.4 596.8,2035.3 589.4,2032.4 581.7,2030.3 573.3,2030.8 565.0,2032.9 556.5,2032.8 548.7,2033.0 541.3,2035.3 533.5,2040.0 526.2,2045.4 517.7,2048.9 508.6,2050.4 502.4,2046.0 494.7,2044.6 488.4,2040.3 482.4,2035.6 477.5,2029.8 471.6,2025.0 465.7,2020.2 455.6,2020.2 457.6,2013.3 459.8,2006.4 461.2,1999.3 463.2,1992.4 465.2,1983.8 467.4,1975.3 470.8,1967.2 474.9,1960.1 480.8,1954.6 479.5,1946.3 477.7,1938.0 475.3,1930.0 473.3,1921.8 468.7,1916.3 463.0,1912.0 458.2,1906.7 456.3,1897.9 455.6,1889.0 449.5,1884.2 444.5,1878.2 438.0,1874.0 431.0,1871.3 425.4,1866.4 419.7,1862.0 413.6,1858.1 408.8,1852.5 402.7,1848.7 410.3,1838.7 416.8,1833.3 423.4,1828.2 430.4,1823.5 437.9,1822.0 445.5,1821.0 445.6,1812.6 446.3,1804.2 445.5,1795.8 453.1,1790.8 451.4,1783.9 451.5,1776.7 448.2,1770.1 448.0,1763.0 447.4,1754.6 446.9,1746.2 448.0,1737.8 442.9,1730.8 440.4,1722.3 435.5,1715.1 434.8,1707.4 432.9,1700.0 436.2,1690.9 441.0,1682.6 437.1,1674.7 434.6,1666.3 431.8,1658.0 429.4,1650.2 425.7,1643.0 428.1,1635.5 428.7,1627.7 433.4,1619.9 437.1,1611.6 441.0,1603.4 443.1,1593.9 447.0,1585.0 445.2,1577.5 443.2,1570.0 442.6,1562.2 441.0,1554.6 434.4,1543.0 431.9,1535.4 429.0,1528.0 427.9,1519.8 427.7,1511.6 428.9,1503.4 426.6,1495.2 427.6,1487.0 425.6,1479.9 422.1,1473.4 422.9,1465.7 422.8,1458.1 421.0,1450.5 421.2,1442.8 420.8,1435.2 416.9,1426.9 412.6,1418.8 413.9,1409.7 415.7,1400.7 415.3,1391.5 413.8,1383.1 411.2,1375.0 408.2,1368.0 407.2,1360.2 403.7,1353.3 397.9,1346.7 392.1,1340.0 383.9,1331.8 372.3,1330.2 362.4,1323.6 360.2,1316.9 357.5,1310.4 352.2,1303.4 346.0,1297.2 342.7,1287.3 347.3,1278.3 354.2,1270.8 350.9,1264.2 350.8,1255.9 349.2,1247.7 344.3,1241.2 347.2,1233.9 349.2,1226.3 345.1,1220.6 341.0,1214.8 337.7,1208.2 341.0,1198.3 341.9,1189.2 342.7,1180.0 339.2,1172.7 336.0,1165.3 326.2,1155.4 314.6,1153.8 313.0,1142.2 314.6,1132.1 317.9,1122.4 314.6,1115.8 319.6,1109.2 322.9,1098.5 313.0,1094.4 312.2,1086.2 311.3,1078.0 313.0,1064.7 312.8,1056.3 315.2,1048.2 316.3,1040.0 319.1,1032.8 320.9,1025.3 323.6,1018.1 325.8,1010.7 326.5,1002.9 325.8,995.2 323.2,987.6 324.4,979.7 323.4,972.0 321.3,964.4 322.0,956.6 320.2,949.0 318.5,941.3 316.7,933.7 316.6,925.8 316.3,917.9 313.3,910.5 313.4,902.5 311.0,895.0 307.6,888.6 302.4,883.3 300.3,876.0 295.8,870.3 292.7,863.6 288.4,857.8 284.0,852.0 285.3,844.7 284.9,837.3 286.0,830.0 286.0,821.9 285.5,813.9 284.4,805.9 282.5,798.0 285.2,791.4 289.0,785.3 291.2,778.4 293.1,771.5 297.0,765.4 294.5,758.4 293.4,751.1 292.5,743.8 291.2,736.6 290.9,729.2 289.7,722.0" fill="none" stroke="#000" stroke-width="4.2" stroke-linejoin="round"/>
<line x1="350.0" y1="105.5" x2="350.0" y2="2187.4" stroke="#b0b0b0" stroke-width="1.9" stroke-dasharray="6,2.8"/>
<line x1="703.2" y1="105.5" x2="703.2" y2="2187.4" stroke="#b0b0b0" stroke-width="1.9" stroke-dasharray="6,2.8"/>
<line x1="1056.4" y1="105.5" x2="1056.4" y2="2187.4" stroke="#b0b0b0" stroke-width="1.9" stroke-dasharray="6,2.8"/>
<line x1="1409.6" y1="105.5" x2="1409.6" y2="2187.4" stroke="#b0b0b0" stroke-width="1.9" stroke-dasharray="6,2.8"/>
<line x1="1762.8" y1="105.5" x2="1762.8" y2="2187.4" stroke="#b0b0b0" stroke-width="1.9" stroke-dasharray="6,2.8"/>
<line x1="2116.0" y1="105.5" x2="2116.0" y2="2187.4" stroke="#b0b0b0" stroke-width="1.9" stroke-dasharray="6,2.8"/>
<line x1="196.6" y1="240.0" x2="2127.4" y2="240.0" stroke="#b0b0b0" stroke-width="1.9" stroke-dasharray="6,2.8"/>
<line x1="196.6" y1="595.4" x2="2127.4" y2="595.4" stroke="#b0b0b0" stroke-width="1.9" stroke-dasharray="6,2.8"/>
<line x1="196.6" y1="950.9" x2="2127.4" y2="950.9" stroke="#b0b0b0" stroke-width="1.9" stroke-dasharray="6,2.8"/>
<line x1="196.6" y1="1306.3" x2="2127.4" y2="1306.3" stroke="#b0b0b0" stroke-width="1.9" stroke-dasharray="6,2.8"/>
<line x1="196.6" y1="1661.8" x2="2127.4" y2="1661.8" stroke="#b0b0b0" stroke-width="1.9" stroke-dasharray="6,2.8"/>
<line x1="196.6" y1="2017.2" x2="2127.4" y2="2017.2" stroke="#b0b0b0" stroke-width="1.9" stroke-dasharray="6,2.8"/>
<circle cx="1665.5" cy="479.0" r="11.4" fill="#0000ff" stroke="#fff" stroke-width="1.9"/>
<circle cx="1554.0" cy="522.0" r="11.4" fill="#0000ff" stroke="#fff" stroke-width="1.9"/>
<circle cx="1434.5" cy="550.0" r="11.4" fill="#0000ff" stroke="#fff" stroke-width="1.9"/>
<circle cx="1396.6" cy="542.0" r="11.4" fill="#0000ff" stroke="#fff" stroke-width="1.9"/>
<circle cx="1382.0" cy="550.0" r="11.4" fill="#0000ff" stroke="#fff" stroke-width="1.9"/>
<circle cx="1120.5" cy="601.5" r="11.4" fill="#0000ff" stroke="#fff" stroke-width="1.9"/>
<circle cx="1275.0" cy="698.0" r="11.4" fill="#0000ff" stroke="#fff" stroke-width="1.9"/>
<circle cx="1070.5" cy="758.5" r="11.4" fill="#0000ff" stroke="#fff" stroke-width="1.9"/>
<circle cx="1016.0" cy="780.7" r="11.4" fill="#0000ff" stroke="#fff" stroke-width="1.9"/>
<circle cx="1021.0" cy="800.0" r="11.4" fill="#0000ff" stroke="#fff" stroke-width="1.9"/>
<circle cx="1009.0" cy="786.0" r="11.4" fill="#0000ff" stroke="#fff" stroke-width="1.9"/>
<circle cx="832.0" cy="795.0" r="11.4" fill="#0000ff" stroke="#fff" stroke-width="1.9"/>
<circle cx="839.4" cy="795.0" r="11.4" fill="#0000ff" stroke="#fff" stroke-width="1.9"/>
<circle cx="791.8" cy="816.9" r="11.4" fill="#0000ff" stroke="#fff" stroke-width="1.9"/>
<circle cx="764.3" cy="841.4" r="11.4" fill="#0000ff" stroke="#fff" stroke-width="1.9"/>
<circle cx="823.5" cy="834.2" r="11.4" fill="#0000ff" stroke="#fff" stroke-width="1.9"/>
<circle cx="775.9" cy="894.9" r="11.4" fill="#0000ff" stroke="#fff" stroke-width="1.9"/>
<circle cx="797.5" cy="913.6" r="11.4" fill="#0000ff" stroke="#fff" stroke-width="1.9"/>
<circle cx="801.9" cy="912.0" r="11.4" fill="#0000ff" stroke="#fff" stroke-width="1.9"/>
<circle cx="716.6" cy="971.4" r="11.4" fill="#0000ff" stroke="#fff" stroke-width="1.9"/>
<circle cx="730.3" cy="985.0" r="11.4" fill="#0000ff" stroke="#fff" stroke-width="1.9"/>
<circle cx="760.7" cy="974.5" r="11.4" fill="#0000ff" stroke="#fff" stroke-width="1.9"/>
<circle cx="638.9" cy="1046.0" r="11.4" fill="#0000ff" stroke="#fff" stroke-width="1.9"/>
<circle cx="695.6" cy="1040.7" r="11.4" fill="#0000ff" stroke="#fff" stroke-width="1.9"/>
<circle cx="712.4" cy="1045.0" r="11.4" fill="#0000ff" stroke="#fff" stroke-width="1.9"/>
<circle cx="769.0" cy="1093.0" r="11.4" fill="#0000ff" stroke="#fff" stroke-width="1.9"/>
<circle cx="878.4" cy="1111.0" r="11.4" fill="#0000ff" stroke="#fff" stroke-width="1.9"/>
<circle cx="901.5" cy="1114.0" r="11.4" fill="#0000ff" stroke="#fff" stroke-width="1.9"/>
<circle cx="912.0" cy="1126.0" r="11.4" fill="#0000ff" stroke="#fff" stroke-width="1.9"/>
<circle cx="910.0" cy="1182.5" r="11.4" fill="#0000ff" stroke="#fff" stroke-width="1.9"/>
<circle cx="929.8" cy="1193.0" r="11.4" fill="#0000ff" stroke="#fff" stroke-width="1.9"/>
<circle cx="944.5" cy="1195.0" r="11.4" fill="#0000ff" stroke="#fff" stroke-width="1.9"/>
<circle cx="631.5" cy="1175.0" r="11.4" fill="#0000ff" stroke="#fff" stroke-width="1.9"/>
<circle cx="600.0" cy="1183.6" r="11.4" fill="#0000ff" stroke="#fff" stroke-width="1.9"/>
<circle cx="610.5" cy="1183.6" r="11.4" fill="#0000ff" stroke="#fff" stroke-width="1.9"/>
<circle cx="660.0" cy="1182.5" r="11.4" fill="#0000ff" stroke="#fff" stroke-width="1.9"/>
<circle cx="517.0" cy="1046.8" r="11.4" fill="#0000ff" stroke="#fff" stroke-width="1.9"/>
<circle cx="467.4" cy="1291.1" r="11.4" fill="#0000ff" stroke="#fff" stroke-width="1.9"/>
<circle cx="488.1" cy="1324.6" r="11.4" fill="#0000ff" stroke="#fff" stroke-width="1.9"/>
<circle cx="520.7" cy="1339.9" r="11.4" fill="#0000ff" stroke="#fff" stroke-width="1.9"/>
<circle cx="689.2" cy="1363.3" r="11.4" fill="#0000ff" stroke="#fff" stroke-width="1.9"/>
<circle cx="587.1" cy="1394.1" r="11.4" fill="#0000ff" stroke="#fff" stroke-width="1.9"/>
<circle cx="604.8" cy="1400.8" r="11.4" fill="#0000ff" stroke="#fff" stroke-width="1.9"/>
<circle cx="519.2" cy="1473.9" r="11.4" fill="#0000ff" stroke="#fff" stroke-width="1.9"/>
<circle cx="628.3" cy="1476.9" r="11.4" fill="#0000ff" stroke="#fff" stroke-width="1.9"/>
<circle cx="584.7" cy="1530.9" r="11.4" fill="#0000ff" stroke="#fff" stroke-width="1.9"/>
<circle cx="664.2" cy="1529.6" r="11.4" fill="#0000ff" stroke="#fff" stroke-width="1.9"/>
<circle cx="787.3" cy="1490.6" r="11.4" fill="#0000ff" stroke="#fff" stroke-width="1.9"/>
<circle cx="814.1" cy="1525.7" r="11.4" fill="#0000ff" stroke="#fff" stroke-width="1.9"/>
<circle cx="572.5" cy="1615.5" r="11.4" fill="#0000ff" stroke="#fff" stroke-width="1.9"/>
<circle cx="552.1" cy="1691.7" r="11.4" fill="#0000ff" stroke="#fff" stroke-width="1.9"/>
<circle cx="610.0" cy="1688.6" r="11.4" fill="#0000ff" stroke="#fff" stroke-width="1.9"/>
<circle cx="603.0" cy="1683.2" r="11.4" fill="#0000ff" stroke="#fff" stroke-width="1.9"/>
<circle cx="573.6" cy="1713.0" r="11.4" fill="#0000ff" stroke="#fff" stroke-width="1.9"/>
<circle cx="570.8" cy="1732.0" r="11.4" fill="#0000ff" stroke="#fff" stroke-width="1.9"/>
<line x1="350.0" y1="2189.4" x2="350.0" y2="2174.4" stroke="#3d3d3d" stroke-width="1.8"/>
<line x1="703.2" y1="2189.4" x2="703.2" y2="2174.4" stroke="#3d3d3d" stroke-width="1.8"/>
<line x1="1056.4" y1="2189.4" x2="1056.4" y2="2174.4" stroke="#3d3d3d" stroke-width="1.8"/>
<line x1="1409.6" y1="2189.4" x2="1409.6" y2="2174.4" stroke="#3d3d3d" stroke-width="1.8"/>
<line x1="1762.8" y1="2189.4" x2="1762.8" y2="2174.4" stroke="#3d3d3d" stroke-width="1.8"/>
<line x1="2116.0" y1="2189.4" x2="2116.0" y2="2174.4" stroke="#3d3d3d" stroke-width="1.8"/>
<line x1="194.6" y1="240.0" x2="209.6" y2="240.0" stroke="#474747" stroke-width="2.8"/>
<line x1="194.6" y1="595.4" x2="209.6" y2="595.4" stroke="#474747" stroke-width="2.8"/>
<line x1="194.6" y1="950.9" x2="209.6" y2="950.9" stroke="#474747" stroke-width="2.8"/>
<line x1="194.6" y1="1306.3" x2="209.6" y2="1306.3" stroke="#474747" stroke-width="2.8"/>
<line x1="194.6" y1="1661.8" x2="209.6" y2="1661.8" stroke="#474747" stroke-width="2.8"/>
<line x1="194.6" y1="2017.2" x2="209.6" y2="2017.2" stroke="#474747" stroke-width="2.8"/>
<rect x="194.6" y="103.5" width="1934.8" height="2085.9" fill="none" stroke="#4d4d4d" stroke-width="3.2"/>
<text x="251.8" y="79.7" font-size="64.9" fill="#4d4d4d" text-anchor="start" textLength="1818.6" lengthAdjust="spacingAndGlyphs" stroke="#fff" stroke-width="1.78" stroke-linejoin="round">Probabilidad de ocurrencia de Movimientos en Masa (2025-07-10)</text>
<text x="27.7" y="258.4" font-size="47.3" fill="#4d4d4d" text-anchor="start" textLength="150.6" lengthAdjust="spacingAndGlyphs" stroke="#fff" stroke-width="1.30" stroke-linejoin="round">6.50° N</text>
<text x="27.7" y="613.8" font-size="47.3" fill="#4d4d4d" text-anchor="start" textLength="150.6" lengthAdjust="spacingAndGlyphs" stroke="#fff" stroke-width="1.30" stroke-linejoin="round">6.40° N</text>
<text x="27.7" y="969.3" font-size="47.3" fill="#4d4d4d" text-anchor="start" textLength="150.6" lengthAdjust="spacingAndGlyphs" stroke="#fff" stroke-width="1.30" stroke-linejoin="round">6.30° N</text>
<text x="27.7" y="1324.7" font-size="47.3" fill="#4d4d4d" text-anchor="start" textLength="150.6" lengthAdjust="spacingAndGlyphs" stroke="#fff" stroke-width="1.30" stroke-linejoin="round">6.20° N</text>
<text x="27.7" y="1680.1" font-size="47.3" fill="#4d4d4d" text-anchor="start" textLength="150.6" lengthAdjust="spacingAndGlyphs" stroke="#fff" stroke-width="1.30" stroke-linejoin="round">6.10° N</text>
<text x="27.7" y="2035.6" font-size="47.3" fill="#4d4d4d" text-anchor="start" textLength="150.6" lengthAdjust="spacingAndGlyphs" stroke="#fff" stroke-width="1.30" stroke-linejoin="round">6.00° N</text>
<text x="257.3" y="2240.4" font-size="47.3" fill="#4d4d4d" text-anchor="start" textLength="185.0" lengthAdjust="spacingAndGlyphs" stroke="#fff" stroke-width="1.30" stroke-linejoin="round">75.70° W</text>
<text x="610.5" y="2240.4" font-size="47.3" fill="#4d4d4d" text-anchor="start" textLength="185.0" lengthAdjust="spacingAndGlyphs" stroke="#fff" stroke-width="1.30" stroke-linejoin="round">75.60° W</text>
<text x="963.7" y="2240.4" font-size="47.3" fill="#4d4d4d" text-anchor="start" textLength="185.0" lengthAdjust="spacingAndGlyphs" stroke="#fff" stroke-width="1.30" stroke-linejoin="round">75.50° W</text>
<text x="1316.9" y="2240.4" font-size="47.3" fill="#4d4d4d" text-anchor="start" textLength="185.0" lengthAdjust="spacingAndGlyphs" stroke="#fff" stroke-width="1.30" stroke-linejoin="round">75.40° W</text>
<text x="1670.1" y="2240.4" font-size="47.3" fill="#4d4d4d" text-anchor="start" textLength="185.0" lengthAdjust="spacingAndGlyphs" stroke="#fff" stroke-width="1.30" stroke-linejoin="round">75.30° W</text>
<text x="2023.3" y="2240.4" font-size="47.3" fill="#4d4d4d" text-anchor="start" textLength="185.0" lengthAdjust="spacingAndGlyphs" stroke="#fff" stroke-width="1.30" stroke-linejoin="round">75.20° W</text>
<text x="211.6" y="2138.9" font-size="38.1" fill="#666666" text-anchor="start" textLength="494.7" lengthAdjust="spacingAndGlyphs" stroke="#fff" stroke-width="1.05" stroke-linejoin="round">Actualizado: 10-07-2025 20:20</text>
<line x1="1411.3" y1="238.0" x2="1645.6" y2="433.1" stroke="#6b6b6b" stroke-width="4.6"/>
<polyline points="1638.4,416.0 1645.6,433.1 1627.5,429.1" fill="none" stroke="#6b6b6b" stroke-width="4.6" stroke-linejoin="round" stroke-linecap="round"/>
<line x1="1079.5" y1="450.7" x2="1229.4" y2="651.8" stroke="#6b6b6b" stroke-width="4.6"/>
<polyline points="1226.4,633.5 1229.4,651.8 1212.7,643.6" fill="none" stroke="#6b6b6b" stroke-width="4.6" stroke-linejoin="round" stroke-linecap="round"/>
<line x1="553.2" y1="520.9" x2="729.9" y2="734.3" stroke="#6b6b6b" stroke-width="4.6"/>
<polyline points="726.0,716.2 729.9,734.3 712.9,727.0" fill="none" stroke="#6b6b6b" stroke-width="4.6" stroke-linejoin="round" stroke-linecap="round"/>
<line x1="1297.6" y1="952.6" x2="1066.6" y2="776.4" stroke="#6b6b6b" stroke-width="4.6"/>
<polyline points="1074.5,793.2 1066.6,776.4 1084.9,779.7" fill="none" stroke="#6b6b6b" stroke-width="4.6" stroke-linejoin="round" stroke-linecap="round"/>
<line x1="1275.0" y1="1155.1" x2="681.7" y2="1103.0" stroke="#6b6b6b" stroke-width="4.6"/>
<polyline points="697.4,1113.0 681.7,1103.0 698.9,1096.0" fill="none" stroke="#6b6b6b" stroke-width="4.6" stroke-linejoin="round" stroke-linecap="round"/>
<line x1="347.0" y1="1377.8" x2="634.2" y2="1380.7" stroke="#6b6b6b" stroke-width="4.6"/>
<polyline points="617.8,1372.0 634.2,1380.7 617.6,1389.0" fill="none" stroke="#6b6b6b" stroke-width="4.6" stroke-linejoin="round" stroke-linecap="round"/>
<line x1="428.3" y1="1526.6" x2="510.0" y2="1530.0" stroke="#6b6b6b" stroke-width="4.6"/>
<polyline points="493.9,1520.8 510.0,1530.0 493.2,1537.8" fill="none" stroke="#6b6b6b" stroke-width="4.6" stroke-linejoin="round" stroke-linecap="round"/>
<line x1="1037.6" y1="1557.0" x2="905.0" y2="1478.7" stroke="#6b6b6b" stroke-width="4.6"/>
<polyline points="914.9,1494.4 905.0,1478.7 923.6,1479.8" fill="none" stroke="#6b6b6b" stroke-width="4.6" stroke-linejoin="round" stroke-linecap="round"/>
<line x1="925.8" y1="1663.3" x2="683.5" y2="1533.7" stroke="#6b6b6b" stroke-width="4.6"/>
<polyline points="694.1,1549.0 683.5,1533.7 702.1,1534.0" fill="none" stroke="#6b6b6b" stroke-width="4.6" stroke-linejoin="round" stroke-linecap="round"/>
<line x1="836.2" y1="1836.0" x2="623.5" y2="1823.7" stroke="#6b6b6b" stroke-width="4.6"/>
<polyline points="639.5,1833.2 623.5,1823.7 640.5,1816.2" fill="none" stroke="#6b6b6b" stroke-width="4.6" stroke-linejoin="round" stroke-linecap="round"/>
<rect x="1282.0" y="172.0" width="185.0" height="64.2" rx="9" ry="9" fill="#fff" fill-opacity="0.85" stroke="#959595" stroke-width="3.6"/>
<text x="1291.0" y="217.2" font-size="47.3" fill="#4d4d4d" text-anchor="start" textLength="164.9" lengthAdjust="spacingAndGlyphs" stroke="#fff" stroke-width="1.30" stroke-linejoin="round">Barbosa</text>
<rect x="950.9" y="386.8" width="211.1" height="62.1" rx="9" ry="9" fill="#fff" fill-opacity="0.85" stroke="#959595" stroke-width="3.6"/>
<text x="957.8" y="430.5" font-size="47.3" fill="#4d4d4d" text-anchor="start" textLength="194.2" lengthAdjust="spacingAndGlyphs" stroke="#fff" stroke-width="1.30" stroke-linejoin="round">Girardota</text>
<rect x="466.4" y="457.7" width="120.5" height="61.4" rx="9" ry="9" fill="#fff" fill-opacity="0.85" stroke="#959595" stroke-width="3.6"/>
<text x="473.8" y="501.4" font-size="47.3" fill="#4d4d4d" text-anchor="start" textLength="103.9" lengthAdjust="spacingAndGlyphs" stroke="#fff" stroke-width="1.30" stroke-linejoin="round">Bello</text>
<rect x="1201.1" y="954.4" width="275.9" height="63.6" rx="9" ry="9" fill="#fff" fill-opacity="0.85" stroke="#959595" stroke-width="3.6"/>
<text x="1209.0" y="998.2" font-size="47.3" fill="#4d4d4d" text-anchor="start" textLength="256.9" lengthAdjust="spacingAndGlyphs" stroke="#fff" stroke-width="1.30" stroke-linejoin="round">Copacabana</text>
<rect x="1276.3" y="1131.8" width="196.0" height="63.5" rx="9" ry="9" fill="#fff" fill-opacity="0.85" stroke="#959595" stroke-width="3.6"/>
<text x="1283.8" y="1177.2" font-size="47.3" fill="#4d4d4d" text-anchor="start" textLength="179.8" lengthAdjust="spacingAndGlyphs" stroke="#fff" stroke-width="1.30" stroke-linejoin="round">Medellín</text>
<rect x="212.6" y="1345.0" width="133.3" height="64.0" rx="9" ry="9" fill="#fff" fill-opacity="0.85" stroke="#959595" stroke-width="3.6"/>
<text x="220.6" y="1389.6" font-size="47.3" fill="#4d4d4d" text-anchor="start" textLength="115.2" lengthAdjust="spacingAndGlyphs" stroke="#fff" stroke-width="1.30" stroke-linejoin="round">Itagüí</text>
<rect x="202.0" y="1487.1" width="224.5" height="64.4" rx="9" ry="9" fill="#fff" fill-opacity="0.85" stroke="#959595" stroke-width="3.6"/>
<text x="210.2" y="1532.0" font-size="47.3" fill="#4d4d4d" text-anchor="start" textLength="205.4" lengthAdjust="spacingAndGlyphs" stroke="#fff" stroke-width="1.30" stroke-linejoin="round">La Estrella</text>
<rect x="987.1" y="1558.8" width="209.3" height="63.2" rx="9" ry="9" fill="#fff" fill-opacity="0.85" stroke="#959595" stroke-width="3.6"/>
<text x="995.4" y="1603.7" font-size="47.3" fill="#4d4d4d" text-anchor="start" textLength="192.4" lengthAdjust="spacingAndGlyphs" stroke="#fff" stroke-width="1.30" stroke-linejoin="round">Envigado</text>
<rect x="881.8" y="1665.1" width="208.3" height="63.3" rx="9" ry="9" fill="#fff" fill-opacity="0.85" stroke="#959595" stroke-width="3.6"/>
<text x="890.0" y="1710.8" font-size="47.3" fill="#4d4d4d" text-anchor="start" textLength="189.0" lengthAdjust="spacingAndGlyphs" stroke="#fff" stroke-width="1.30" stroke-linejoin="round">Sabaneta</text>
<rect x="838.0" y="1807.6" width="154.9" height="62.9" rx="9" ry="9" fill="#fff" fill-opacity="0.85" stroke="#959595" stroke-width="3.6"/>
<text x="845.0" y="1851.5" font-size="47.3" fill="#4d4d4d" text-anchor="start" textLength="139.1" lengthAdjust="spacingAndGlyphs" stroke="#fff" stroke-width="1.30" stroke-linejoin="round">Caldas</text>
<rect x="1668.8" y="1628.7" width="433.4" height="533.2" rx="10" ry="10" fill="#fff" fill-opacity="1" stroke="#cccccc" stroke-width="3.5"/>
<text x="1728.2" y="1712.7" font-size="84.2" fill="#4d4d4d" text-anchor="start" textLength="310.0" lengthAdjust="spacingAndGlyphs" stroke="#fff" stroke-width="2.31" stroke-linejoin="round">Leyenda</text>
<rect x="1690.9" y="1763.5" width="107.6" height="37.0" fill="#4cc97a" stroke="#808080" stroke-width="4"/>
<text x="1842.0" y="1800.7" font-size="55.6" fill="#4d4d4d" text-anchor="start" textLength="107.2" lengthAdjust="spacingAndGlyphs" stroke="#fff" stroke-width="1.53" stroke-linejoin="round">Bajo</text>
<rect x="1690.9" y="1845.2" width="107.6" height="37.0" fill="#fde026" stroke="#808080" stroke-width="4"/>
<text x="1842.0" y="1882.3" font-size="55.6" fill="#4d4d4d" text-anchor="start" textLength="156.6" lengthAdjust="spacingAndGlyphs" stroke="#fff" stroke-width="1.53" stroke-linejoin="round">Medio</text>
<rect x="1690.9" y="1927.1" width="107.6" height="37.0" fill="#ff0033" stroke="#808080" stroke-width="4"/>
<text x="1845.0" y="1964.3" font-size="55.6" fill="#4d4d4d" text-anchor="start" textLength="97.6" lengthAdjust="spacingAndGlyphs" stroke="#fff" stroke-width="1.53" stroke-linejoin="round">Alto</text>
<rect x="1690.9" y="2008.8" width="107.6" height="37.0" fill="#d3d3d3" stroke="#808080" stroke-width="4"/>
<text x="1842.0" y="2046.8" font-size="55.6" fill="#4d4d4d" text-anchor="start" textLength="236.2" lengthAdjust="spacingAndGlyphs" stroke="#fff" stroke-width="1.53" stroke-linejoin="round">No Aplica</text>
<circle cx="1745.4" cy="2109.2" r="14.4" fill="#0000ff"/>
<text x="1843.0" y="2128.2" font-size="55.6" fill="#4d4d4d" text-anchor="start" textLength="137.2" lengthAdjust="spacingAndGlyphs" stroke="#fff" stroke-width="1.53" stroke-linejoin="round">SATC</text>
</svg></body></html>
